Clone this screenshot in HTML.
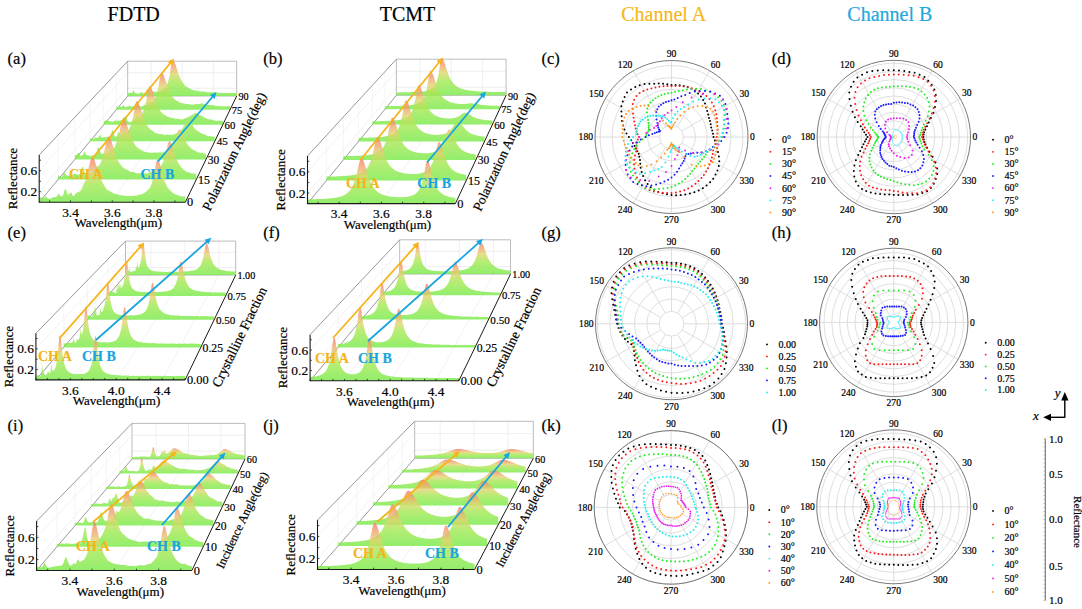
<!DOCTYPE html>
<html><head><meta charset="utf-8"><style>
html,body{margin:0;padding:0;background:#fff;overflow:hidden;width:1082px;height:609px;}
svg{display:block;font-family:"Liberation Serif",serif;}
</style></head><body>
<svg width="1082" height="609" viewBox="0 0 1082 609">
<rect width="1082" height="609" fill="#fff"/>
<text x="133.70" y="21.00" font-size="20" text-anchor="middle" fill="#000" stroke="#000" stroke-width="0.2" >FDTD</text>
<text x="407.50" y="21.00" font-size="20" text-anchor="middle" fill="#000" stroke="#000" stroke-width="0.2" >TCMT</text>
<text x="663.70" y="21.00" font-size="20" text-anchor="middle" fill="#F5B81C" stroke="#F5B81C" stroke-width="0.2" >Channel A</text>
<text x="889.80" y="21.00" font-size="20" text-anchor="middle" fill="#1EA8E0" stroke="#1EA8E0" stroke-width="0.2" >Channel B</text>
<text x="7.60" y="63.60" font-size="16.5" text-anchor="start" fill="#000" stroke="#000" stroke-width="0.2" >(a)</text>
<text x="263.20" y="63.60" font-size="16.5" text-anchor="start" fill="#000" stroke="#000" stroke-width="0.2" >(b)</text>
<text x="541.40" y="63.60" font-size="16.5" text-anchor="start" fill="#000" stroke="#000" stroke-width="0.2" >(c)</text>
<text x="771.80" y="63.60" font-size="16.5" text-anchor="start" fill="#000" stroke="#000" stroke-width="0.2" >(d)</text>
<text x="7.60" y="238.20" font-size="16.5" text-anchor="start" fill="#000" stroke="#000" stroke-width="0.2" >(e)</text>
<text x="263.20" y="238.20" font-size="16.5" text-anchor="start" fill="#000" stroke="#000" stroke-width="0.2" >(f)</text>
<text x="541.40" y="238.20" font-size="16.5" text-anchor="start" fill="#000" stroke="#000" stroke-width="0.2" >(g)</text>
<text x="771.80" y="238.20" font-size="16.5" text-anchor="start" fill="#000" stroke="#000" stroke-width="0.2" >(h)</text>
<text x="7.60" y="431.20" font-size="16.5" text-anchor="start" fill="#000" stroke="#000" stroke-width="0.2" >(i)</text>
<text x="263.20" y="431.20" font-size="16.5" text-anchor="start" fill="#000" stroke="#000" stroke-width="0.2" >(j)</text>
<text x="541.40" y="431.20" font-size="16.5" text-anchor="start" fill="#000" stroke="#000" stroke-width="0.2" >(k)</text>
<text x="771.80" y="431.20" font-size="16.5" text-anchor="start" fill="#000" stroke="#000" stroke-width="0.2" >(l)</text>
<line x1="151.06" y1="96.00" x2="151.06" y2="61.20" stroke="#e9e9e9" stroke-width="0.7" />
<line x1="70.51" y1="202.20" x2="151.06" y2="96.00" stroke="#ececec" stroke-width="0.7" />
<line x1="182.20" y1="96.00" x2="182.20" y2="61.20" stroke="#e9e9e9" stroke-width="0.7" />
<line x1="112.25" y1="202.20" x2="182.20" y2="96.00" stroke="#ececec" stroke-width="0.7" />
<line x1="213.34" y1="96.00" x2="213.34" y2="61.20" stroke="#e9e9e9" stroke-width="0.7" />
<line x1="153.99" y1="202.20" x2="213.34" y2="96.00" stroke="#ececec" stroke-width="0.7" />
<line x1="127.70" y1="88.27" x2="236.70" y2="88.27" stroke="#e6e6e6" stroke-width="0.7" />
<line x1="39.20" y1="191.71" x2="127.70" y2="88.27" stroke="#ececec" stroke-width="0.7" />
<line x1="127.70" y1="72.80" x2="236.70" y2="72.80" stroke="#e6e6e6" stroke-width="0.7" />
<line x1="39.20" y1="170.73" x2="127.70" y2="72.80" stroke="#ececec" stroke-width="0.7" />
<line x1="58.01" y1="179.62" x2="58.01" y2="135.06" stroke="#f0f0f0" stroke-width="0.7" />
<line x1="74.86" y1="159.40" x2="74.86" y2="117.20" stroke="#f0f0f0" stroke-width="0.7" />
<line x1="90.04" y1="141.19" x2="90.04" y2="101.11" stroke="#f0f0f0" stroke-width="0.7" />
<line x1="103.78" y1="124.70" x2="103.78" y2="86.55" stroke="#f0f0f0" stroke-width="0.7" />
<line x1="116.28" y1="109.70" x2="116.28" y2="73.30" stroke="#f0f0f0" stroke-width="0.7" />
<path d="M127.70,96.00 L127.70,61.20 L236.70,61.20 L236.70,96.00" fill="none" stroke="#b4b4b4" stroke-width="0.9"/>
<line x1="127.70" y1="96.00" x2="236.70" y2="96.00" stroke="#b4b4b4" stroke-width="0.9" />
<line x1="39.20" y1="155.00" x2="127.70" y2="61.20" stroke="#8c8c8c" stroke-width="0.9" />
<line x1="39.20" y1="202.20" x2="127.70" y2="96.00" stroke="#8c8c8c" stroke-width="0.9" />
<linearGradient id="g1" gradientUnits="userSpaceOnUse" x1="0" y1="96.00" x2="0" y2="60.10"><stop offset="0" stop-color="#76EA46"/><stop offset="0.4" stop-color="#A4E852"/><stop offset="0.62" stop-color="#E2D470"/><stop offset="0.82" stop-color="#F2A070"/><stop offset="1" stop-color="#F27E68"/></linearGradient>
<path d="M127.7,96.0 127.7,93.1 128.1,92.9 128.5,92.8 129.0,93.0 129.4,92.9 129.8,93.0 130.2,93.0 130.6,92.7 131.1,92.8 131.5,93.0 131.9,92.8 132.3,92.6 132.8,91.7 133.2,90.6 133.6,90.2 134.0,91.1 134.4,92.1 134.9,92.9 135.3,93.2 135.7,93.1 136.1,92.9 136.5,93.4 137.0,93.7 137.4,93.6 137.8,93.7 138.2,93.6 138.6,93.8 139.1,93.6 139.5,93.2 139.9,92.9 140.3,92.4 140.7,92.2 141.2,92.1 141.6,92.2 142.0,93.0 142.4,92.7 142.9,92.6 143.3,93.3 143.7,93.6 144.1,93.7 144.5,93.7 145.0,93.1 145.4,92.7 145.8,92.0 146.2,90.9 146.6,89.7 147.1,89.0 147.5,88.9 147.9,89.7 148.3,90.5 148.7,91.5 149.2,91.7 149.6,92.4 150.0,92.5 150.4,92.6 150.8,92.6 151.3,92.8 151.7,92.5 152.1,92.3 152.5,91.7 153.0,91.6 153.4,91.6 153.8,91.8 154.2,92.0 154.6,91.8 155.1,91.9 155.5,91.6 155.9,91.4 156.3,91.7 156.7,91.9 157.2,91.8 157.6,91.8 158.0,91.2 158.4,91.2 158.8,91.7 159.3,91.5 159.7,91.3 160.1,91.2 160.5,91.0 160.9,91.4 161.4,91.4 161.8,90.7 162.2,90.2 162.6,90.0 163.1,89.8 163.5,89.5 163.9,89.0 164.3,88.4 164.7,88.0 165.2,87.6 165.6,87.0 166.0,86.3 166.4,85.7 166.8,85.0 167.3,84.0 167.7,83.1 168.1,81.7 168.5,80.2 168.9,78.5 169.4,76.4 169.8,74.1 170.2,71.6 170.6,68.8 171.0,66.3 171.5,63.9 171.9,61.8 172.3,60.4 172.7,60.1 173.2,60.3 173.6,60.7 174.0,61.2 174.4,61.8 174.8,62.9 175.3,64.1 175.7,65.1 176.1,66.5 176.5,67.7 176.9,68.9 177.4,70.4 177.8,71.8 178.2,72.9 178.6,73.9 179.0,75.1 179.5,76.3 179.9,77.4 180.3,78.2 180.7,79.0 181.1,79.9 181.6,80.8 182.0,81.5 182.4,82.0 182.8,82.7 183.3,83.3 183.7,83.8 184.1,84.4 184.5,84.9 184.9,85.4 185.4,85.9 185.8,86.2 186.2,86.5 186.6,86.8 187.0,87.0 187.5,87.3 187.9,87.5 188.3,87.7 188.7,88.0 189.1,88.3 189.6,88.5 190.0,88.7 190.4,89.0 190.8,89.2 191.2,89.5 191.7,89.5 192.1,89.7 192.5,89.9 192.9,90.1 193.4,90.2 193.8,90.1 194.2,90.2 194.6,90.5 195.0,90.5 195.5,90.6 195.9,90.5 196.3,90.4 196.7,90.5 197.1,90.6 197.6,90.7 198.0,90.8 198.4,90.9 198.8,91.0 199.2,91.2 199.7,91.4 200.1,91.4 200.5,91.5 200.9,91.6 201.3,91.6 201.8,91.6 202.2,91.6 202.6,91.5 203.0,91.7 203.5,91.5 203.9,91.3 204.3,91.5 204.7,91.7 205.1,91.8 205.6,92.0 206.0,91.9 206.4,92.2 206.8,92.2 207.2,92.1 207.7,92.3 208.1,92.3 208.5,92.3 208.9,92.3 209.3,92.3 209.8,92.3 210.2,92.5 210.6,92.2 211.0,92.1 211.4,92.0 211.9,92.1 212.3,92.2 212.7,92.3 213.1,92.3 213.6,92.3 214.0,92.6 214.4,92.5 214.8,92.5 215.2,92.6 215.7,92.6 216.1,92.6 216.5,92.7 216.9,92.8 217.3,92.8 217.8,92.9 218.2,92.8 218.6,92.8 219.0,92.8 219.4,92.8 219.9,92.7 220.3,92.7 220.7,92.8 221.1,92.8 221.5,92.9 222.0,92.8 222.4,93.0 222.8,93.0 223.2,93.0 223.7,92.9 224.1,92.9 224.5,93.0 224.9,93.0 225.3,92.9 225.8,93.0 226.2,93.0 226.6,93.1 227.0,93.1 227.4,93.0 227.9,93.0 228.3,93.0 228.7,93.1 229.1,93.0 229.5,93.0 230.0,93.0 230.4,93.0 230.8,93.0 231.2,93.0 231.6,92.9 232.1,93.1 232.5,93.0 232.9,93.0 233.3,93.0 233.8,93.0 234.2,93.1 234.6,93.0 235.0,93.0 235.4,93.0 235.9,93.0 236.3,93.1 236.7,93.0 236.7,96.0Z" fill="url(#g1)" fill-opacity="0.8"/>
<linearGradient id="g2" gradientUnits="userSpaceOnUse" x1="0" y1="109.70" x2="0" y2="72.54"><stop offset="0" stop-color="#76EA46"/><stop offset="0.4" stop-color="#A4E852"/><stop offset="0.62" stop-color="#E2D470"/><stop offset="0.82" stop-color="#F2A070"/><stop offset="1" stop-color="#F27E68"/></linearGradient>
<path d="M116.3,109.7 116.3,106.7 116.7,106.8 117.2,106.8 117.6,107.3 118.0,106.6 118.5,106.8 118.9,107.1 119.4,106.7 119.8,106.6 120.2,107.0 120.7,106.4 121.1,106.8 121.6,106.8 122.0,106.6 122.4,106.3 122.9,106.0 123.3,104.9 123.7,105.0 124.2,105.8 124.6,106.6 125.1,106.9 125.5,107.3 125.9,106.9 126.4,107.0 126.8,106.8 127.3,106.6 127.7,106.2 128.1,106.4 128.6,106.0 129.0,105.8 129.5,105.9 129.9,106.2 130.3,106.2 130.8,106.4 131.2,106.4 131.7,106.5 132.1,106.9 132.5,106.5 133.0,106.4 133.4,106.2 133.9,105.8 134.3,105.4 134.7,104.6 135.2,103.8 135.6,103.2 136.1,102.2 136.5,101.7 136.9,102.4 137.4,103.2 137.8,105.0 138.2,105.5 138.7,105.9 139.1,106.3 139.6,106.6 140.0,106.4 140.4,106.4 140.9,106.2 141.3,106.7 141.8,106.7 142.2,106.6 142.6,106.1 143.1,105.7 143.5,105.6 144.0,105.2 144.4,105.2 144.8,105.0 145.3,104.8 145.7,104.8 146.2,104.6 146.6,105.0 147.0,104.7 147.5,104.1 147.9,103.0 148.4,102.0 148.8,101.5 149.2,102.2 149.7,102.2 150.1,102.6 150.5,102.7 151.0,103.1 151.4,102.6 151.9,102.3 152.3,102.2 152.7,101.7 153.2,101.2 153.6,100.6 154.1,99.9 154.5,99.2 154.9,98.5 155.4,97.5 155.8,96.5 156.3,95.3 156.7,94.0 157.1,92.5 157.6,90.8 158.0,88.7 158.5,86.4 158.9,83.9 159.3,81.4 159.8,78.9 160.2,76.4 160.7,74.2 161.1,72.9 161.5,72.5 162.0,72.6 162.4,73.0 162.8,73.7 163.3,74.5 163.7,75.6 164.2,76.7 164.6,77.9 165.0,79.3 165.5,80.4 165.9,81.7 166.4,83.0 166.8,84.5 167.2,85.8 167.7,87.1 168.1,88.1 168.6,89.3 169.0,90.4 169.4,91.4 169.9,92.2 170.3,93.1 170.8,93.9 171.2,94.7 171.6,95.6 172.1,96.2 172.5,96.8 173.0,97.5 173.4,97.9 173.8,98.5 174.3,99.0 174.7,99.3 175.2,99.5 175.6,100.0 176.0,100.2 176.5,100.5 176.9,100.7 177.3,100.8 177.8,101.1 178.2,101.7 178.7,101.7 179.1,102.1 179.5,102.4 180.0,102.7 180.4,102.9 180.9,102.9 181.3,102.9 181.7,103.0 182.2,103.0 182.6,103.2 183.1,103.2 183.5,103.4 183.9,103.5 184.4,103.5 184.8,103.7 185.3,103.7 185.7,103.9 186.1,103.9 186.6,103.9 187.0,103.9 187.5,104.1 187.9,103.9 188.3,104.1 188.8,104.1 189.2,104.2 189.6,104.2 190.1,104.4 190.5,104.5 191.0,104.7 191.4,104.8 191.8,104.9 192.3,104.7 192.7,104.7 193.2,104.6 193.6,104.5 194.0,104.4 194.5,104.3 194.9,104.2 195.4,104.1 195.8,104.1 196.2,104.2 196.7,104.1 197.1,104.1 197.6,104.1 198.0,104.2 198.4,104.3 198.9,104.1 199.3,104.1 199.8,103.9 200.2,103.7 200.6,103.6 201.1,103.4 201.5,103.3 202.0,103.5 202.4,103.5 202.8,103.6 203.3,103.8 203.7,103.9 204.1,104.1 204.6,104.2 205.0,104.3 205.5,104.4 205.9,104.6 206.3,104.6 206.8,104.6 207.2,104.7 207.7,104.8 208.1,104.7 208.5,104.9 209.0,104.8 209.4,104.9 209.9,104.9 210.3,105.0 210.7,104.9 211.2,105.0 211.6,104.9 212.1,104.8 212.5,104.9 212.9,105.1 213.4,105.3 213.8,105.6 214.3,105.5 214.7,105.6 215.1,105.8 215.6,105.8 216.0,105.7 216.4,105.8 216.9,105.9 217.3,106.0 217.8,106.2 218.2,106.0 218.6,106.1 219.1,106.3 219.5,106.2 220.0,106.2 220.4,106.3 220.8,106.1 221.3,106.3 221.7,106.2 222.2,106.2 222.6,106.2 223.0,106.2 223.5,106.2 223.9,106.4 224.4,106.4 224.8,106.4 225.2,106.3 225.7,106.2 226.1,106.4 226.6,106.3 227.0,106.2 227.4,106.3 227.9,106.2 228.3,106.1 228.7,106.2 229.2,106.1 229.6,106.2 230.1,106.3 230.1,109.7Z" fill="url(#g2)" fill-opacity="0.8"/>
<linearGradient id="g3" gradientUnits="userSpaceOnUse" x1="0" y1="124.70" x2="0" y2="86.30"><stop offset="0" stop-color="#76EA46"/><stop offset="0.4" stop-color="#A4E852"/><stop offset="0.62" stop-color="#E2D470"/><stop offset="0.82" stop-color="#F2A070"/><stop offset="1" stop-color="#F27E68"/></linearGradient>
<path d="M103.8,124.7 103.8,121.7 104.2,121.6 104.7,121.1 105.2,120.8 105.6,120.5 106.1,120.6 106.5,120.4 107.0,120.4 107.5,120.3 107.9,120.8 108.4,120.8 108.8,120.9 109.3,121.1 109.8,121.3 110.2,120.8 110.7,121.2 111.1,121.3 111.6,121.8 112.1,122.2 112.5,121.7 113.0,121.4 113.4,121.5 113.9,121.2 114.4,121.1 114.8,120.8 115.3,120.6 115.7,120.6 116.2,120.7 116.6,120.6 117.1,120.8 117.6,120.7 118.0,120.8 118.5,120.2 118.9,120.4 119.4,121.0 119.9,121.1 120.3,120.5 120.8,120.4 121.2,120.0 121.7,120.1 122.2,120.0 122.6,119.0 123.1,118.4 123.5,118.0 124.0,117.4 124.5,116.8 124.9,116.6 125.4,116.2 125.8,116.8 126.3,117.9 126.8,118.8 127.2,119.9 127.7,121.0 128.1,121.3 128.6,121.5 129.1,122.1 129.5,122.0 130.0,122.2 130.4,122.3 130.9,121.9 131.4,121.7 131.8,121.7 132.3,120.6 132.7,120.4 133.2,120.5 133.7,120.3 134.1,119.7 134.6,119.0 135.0,118.6 135.5,118.5 136.0,117.6 136.4,116.2 136.9,114.6 137.3,114.3 137.8,115.1 138.2,115.7 138.7,116.7 139.2,117.2 139.6,117.3 140.1,116.7 140.5,115.7 141.0,115.1 141.5,114.7 141.9,113.8 142.4,113.0 142.8,111.9 143.3,110.8 143.8,109.8 144.2,108.5 144.7,107.2 145.1,105.6 145.6,103.8 146.1,101.6 146.5,99.2 147.0,96.7 147.4,94.1 147.9,91.4 148.4,89.3 148.8,87.5 149.3,86.4 149.7,86.3 150.2,86.5 150.7,86.9 151.1,87.7 151.6,88.5 152.0,89.5 152.5,90.8 153.0,92.1 153.4,93.4 153.9,94.9 154.3,96.5 154.8,98.1 155.3,99.7 155.7,101.1 156.2,102.3 156.6,103.6 157.1,104.7 157.6,105.8 158.0,106.6 158.5,107.5 158.9,108.3 159.4,109.3 159.8,110.1 160.3,110.7 160.8,111.4 161.2,112.0 161.7,112.6 162.1,113.1 162.6,113.5 163.1,114.1 163.5,114.6 164.0,114.6 164.4,114.9 164.9,114.9 165.4,115.3 165.8,115.7 166.3,115.7 166.7,116.0 167.2,116.5 167.7,116.6 168.1,116.9 168.6,117.1 169.0,117.1 169.5,117.3 170.0,117.4 170.4,117.5 170.9,117.6 171.3,117.9 171.8,117.8 172.3,118.0 172.7,117.9 173.2,118.1 173.6,118.1 174.1,118.2 174.6,118.4 175.0,118.7 175.5,118.7 175.9,118.8 176.4,118.7 176.9,118.7 177.3,118.8 177.8,118.6 178.2,118.7 178.7,118.9 179.1,119.0 179.6,119.2 180.1,119.2 180.5,119.5 181.0,119.6 181.4,119.5 181.9,119.3 182.4,119.3 182.8,119.3 183.3,119.4 183.7,118.8 184.2,118.7 184.7,118.4 185.1,118.2 185.6,118.0 186.0,117.9 186.5,117.5 187.0,117.7 187.4,117.4 187.9,117.3 188.3,117.2 188.8,116.9 189.3,116.5 189.7,116.3 190.2,115.8 190.6,115.6 191.1,115.4 191.6,115.1 192.0,115.0 192.5,114.7 192.9,114.3 193.4,113.9 193.9,113.6 194.3,113.3 194.8,113.1 195.2,113.0 195.7,113.0 196.2,113.1 196.6,113.4 197.1,113.5 197.5,113.8 198.0,114.0 198.5,114.2 198.9,114.5 199.4,114.9 199.8,115.0 200.3,115.3 200.7,115.4 201.2,115.6 201.7,116.0 202.1,116.2 202.6,116.5 203.0,116.8 203.5,117.0 204.0,117.3 204.4,117.6 204.9,117.7 205.3,117.9 205.8,118.1 206.3,118.3 206.7,118.6 207.2,118.8 207.6,118.9 208.1,119.0 208.6,119.2 209.0,119.3 209.5,119.4 209.9,119.5 210.4,119.4 210.9,119.5 211.3,119.8 211.8,119.7 212.2,119.6 212.7,119.8 213.2,120.1 213.6,120.3 214.1,120.4 214.5,120.3 215.0,120.7 215.5,120.8 215.9,121.0 216.4,120.9 216.8,120.9 217.3,120.8 217.8,120.7 218.2,120.6 218.7,120.7 219.1,120.7 219.6,120.6 220.1,120.8 220.5,120.7 221.0,120.9 221.4,120.9 221.9,120.8 222.3,120.7 222.8,120.8 222.8,124.7Z" fill="url(#g3)" fill-opacity="0.8"/>
<linearGradient id="g4" gradientUnits="userSpaceOnUse" x1="0" y1="141.19" x2="0" y2="101.18"><stop offset="0" stop-color="#76EA46"/><stop offset="0.4" stop-color="#A4E852"/><stop offset="0.62" stop-color="#E2D470"/><stop offset="0.82" stop-color="#F2A070"/><stop offset="1" stop-color="#F27E68"/></linearGradient>
<path d="M90.0,141.2 90.0,138.2 90.5,138.4 91.0,138.4 91.5,139.0 92.0,139.1 92.4,138.5 92.9,138.7 93.4,138.6 93.9,138.7 94.4,138.6 94.9,137.5 95.3,137.4 95.8,137.6 96.3,137.8 96.8,137.7 97.3,137.4 97.7,137.5 98.2,138.0 98.7,137.0 99.2,136.0 99.7,135.0 100.2,135.1 100.6,135.9 101.1,137.1 101.6,137.6 102.1,137.5 102.6,137.4 103.0,137.5 103.5,137.2 104.0,137.3 104.5,137.1 105.0,136.9 105.5,137.5 105.9,137.3 106.4,136.9 106.9,136.9 107.4,137.3 107.9,137.3 108.3,137.5 108.8,137.2 109.3,137.1 109.8,137.4 110.3,136.5 110.8,134.9 111.2,133.3 111.7,131.5 112.2,130.3 112.7,130.2 113.2,131.4 113.6,133.2 114.1,134.9 114.6,136.1 115.1,136.5 115.6,136.7 116.1,136.7 116.5,136.3 117.0,135.9 117.5,134.5 118.0,133.0 118.5,132.1 118.9,132.6 119.4,132.9 119.9,133.5 120.4,133.9 120.9,133.8 121.4,133.7 121.8,133.7 122.3,133.1 122.8,132.7 123.3,131.6 123.8,130.8 124.2,131.1 124.7,132.1 125.2,132.7 125.7,132.6 126.2,132.5 126.7,132.1 127.1,131.9 127.6,131.9 128.1,130.9 128.6,129.6 129.1,128.9 129.5,128.1 130.0,127.1 130.5,126.0 131.0,124.6 131.5,123.1 132.0,121.4 132.4,119.4 132.9,117.4 133.4,115.0 133.9,112.5 134.4,110.1 134.8,107.7 135.3,105.5 135.8,103.4 136.3,101.8 136.8,101.2 137.3,101.3 137.7,101.5 138.2,102.2 138.7,103.2 139.2,104.4 139.7,105.8 140.1,107.1 140.6,108.4 141.1,110.1 141.6,111.6 142.1,113.2 142.6,114.8 143.0,116.1 143.5,117.6 144.0,118.9 144.5,119.9 145.0,121.2 145.4,122.1 145.9,123.0 146.4,124.1 146.9,124.9 147.4,125.9 147.9,126.5 148.3,127.0 148.8,127.7 149.3,128.2 149.8,128.8 150.3,129.3 150.7,129.4 151.2,130.0 151.7,130.2 152.2,130.5 152.7,131.0 153.2,131.2 153.6,131.5 154.1,132.0 154.6,132.3 155.1,132.7 155.6,133.1 156.0,133.2 156.5,133.3 157.0,133.4 157.5,133.7 158.0,133.7 158.5,133.8 158.9,133.9 159.4,134.0 159.9,134.1 160.4,134.2 160.9,134.1 161.3,134.2 161.8,134.1 162.3,134.1 162.8,134.4 163.3,134.6 163.8,134.6 164.2,134.8 164.7,134.8 165.2,134.9 165.7,134.9 166.2,134.6 166.6,134.6 167.1,134.6 167.6,134.6 168.1,134.7 168.6,134.7 169.1,134.7 169.5,134.8 170.0,134.8 170.5,134.8 171.0,134.8 171.5,134.7 171.9,134.8 172.4,134.7 172.9,134.7 173.4,134.6 173.9,134.6 174.4,134.3 174.8,134.0 175.3,133.8 175.8,133.5 176.3,133.2 176.8,132.9 177.2,132.7 177.7,132.6 178.2,132.3 178.7,132.1 179.2,131.6 179.7,131.4 180.1,130.9 180.6,130.4 181.1,129.9 181.6,129.2 182.1,128.6 182.5,128.0 183.0,127.4 183.5,126.6 184.0,125.8 184.5,124.9 185.0,124.5 185.4,123.8 185.9,123.2 186.4,122.4 186.9,121.9 187.4,121.4 187.8,121.1 188.3,120.8 188.8,121.2 189.3,121.5 189.8,121.7 190.3,122.3 190.7,122.9 191.2,123.4 191.7,124.2 192.2,124.6 192.7,125.3 193.1,126.3 193.6,126.9 194.1,127.7 194.6,128.4 195.1,128.9 195.6,129.5 196.0,130.0 196.5,130.1 197.0,130.5 197.5,130.7 198.0,131.1 198.4,131.5 198.9,131.9 199.4,132.1 199.9,132.6 200.4,132.8 200.9,133.0 201.3,133.3 201.8,133.6 202.3,133.6 202.8,133.8 203.3,134.0 203.7,134.2 204.2,134.3 204.7,134.5 205.2,134.7 205.7,135.0 206.2,135.2 206.6,135.5 207.1,135.7 207.6,136.2 208.1,136.2 208.6,136.2 209.0,136.2 209.5,136.3 210.0,136.1 210.5,136.3 211.0,136.2 211.5,136.4 211.9,136.5 212.4,136.6 212.9,136.5 213.4,136.9 213.9,136.8 214.3,136.8 214.8,136.7 214.8,141.2Z" fill="url(#g4)" fill-opacity="0.8"/>
<linearGradient id="g5" gradientUnits="userSpaceOnUse" x1="0" y1="159.40" x2="0" y2="118.29"><stop offset="0" stop-color="#76EA46"/><stop offset="0.4" stop-color="#A4E852"/><stop offset="0.62" stop-color="#E2D470"/><stop offset="0.82" stop-color="#F2A070"/><stop offset="1" stop-color="#F27E68"/></linearGradient>
<path d="M74.9,159.4 74.9,155.3 75.4,155.1 75.9,154.9 76.4,155.0 76.9,154.6 77.4,153.8 77.9,153.2 78.4,152.8 78.9,153.1 79.4,154.0 79.9,154.7 80.4,155.4 80.9,156.1 81.4,155.7 82.0,155.6 82.5,155.1 83.0,154.8 83.5,153.8 84.0,152.1 84.5,150.9 85.0,152.4 85.5,153.6 86.0,154.9 86.5,155.2 87.0,154.9 87.5,154.9 88.0,155.4 88.5,155.3 89.0,155.6 89.5,155.8 90.1,155.8 90.6,156.0 91.1,156.0 91.6,155.6 92.1,155.6 92.6,155.8 93.1,155.3 93.6,155.0 94.1,155.0 94.6,154.4 95.1,154.7 95.6,153.8 96.1,153.1 96.6,151.8 97.1,150.2 97.7,147.9 98.2,147.1 98.7,147.3 99.2,148.5 99.7,150.0 100.2,151.6 100.7,152.6 101.2,153.5 101.7,153.7 102.2,153.7 102.7,153.9 103.2,153.5 103.7,153.2 104.2,153.2 104.7,153.2 105.2,153.1 105.8,152.8 106.3,152.6 106.8,152.7 107.3,152.6 107.8,152.6 108.3,152.2 108.8,152.0 109.3,151.7 109.8,151.4 110.3,150.9 110.8,150.2 111.3,149.6 111.8,149.6 112.3,149.2 112.8,148.7 113.3,148.6 113.9,147.9 114.4,147.4 114.9,146.4 115.4,145.2 115.9,144.2 116.4,143.0 116.9,141.4 117.4,140.0 117.9,138.4 118.4,136.5 118.9,134.6 119.4,132.5 119.9,130.0 120.4,127.8 120.9,125.2 121.5,122.9 122.0,120.9 122.5,119.4 123.0,118.4 123.5,118.3 124.0,118.5 124.5,119.1 125.0,119.9 125.5,120.8 126.0,122.0 126.5,123.3 127.0,124.9 127.5,126.5 128.0,128.4 128.5,129.9 129.0,131.9 129.6,133.4 130.1,134.9 130.6,136.3 131.1,137.6 131.6,138.6 132.1,139.9 132.6,140.7 133.1,141.4 133.6,142.5 134.1,143.3 134.6,144.3 135.1,144.9 135.6,145.7 136.1,146.2 136.6,146.9 137.1,147.3 137.7,147.9 138.2,148.1 138.7,148.5 139.2,148.8 139.7,149.2 140.2,149.4 140.7,149.6 141.2,149.9 141.7,150.2 142.2,150.6 142.7,150.7 143.2,151.0 143.7,151.4 144.2,151.6 144.7,151.8 145.2,151.9 145.8,151.9 146.3,152.1 146.8,152.3 147.3,152.3 147.8,152.5 148.3,152.5 148.8,152.5 149.3,152.6 149.8,152.6 150.3,152.7 150.8,152.9 151.3,152.8 151.8,152.6 152.3,152.7 152.8,152.8 153.4,152.8 153.9,152.6 154.4,152.6 154.9,152.5 155.4,152.6 155.9,152.6 156.4,152.7 156.9,152.6 157.4,152.6 157.9,152.4 158.4,152.4 158.9,152.5 159.4,152.3 159.9,152.4 160.4,152.5 160.9,152.4 161.5,152.5 162.0,152.7 162.5,152.3 163.0,152.3 163.5,152.2 164.0,151.8 164.5,151.7 165.0,151.6 165.5,151.3 166.0,151.2 166.5,150.9 167.0,150.5 167.5,150.5 168.0,150.3 168.5,149.8 169.0,149.5 169.6,149.0 170.1,148.4 170.6,147.8 171.1,147.0 171.6,145.9 172.1,145.2 172.6,144.1 173.1,143.0 173.6,142.0 174.1,140.8 174.6,139.7 175.1,138.6 175.6,137.2 176.1,135.9 176.6,134.6 177.2,133.2 177.7,132.0 178.2,130.7 178.7,129.8 179.2,129.4 179.7,129.4 180.2,129.7 180.7,130.0 181.2,130.8 181.7,131.7 182.2,132.6 182.7,133.6 183.2,134.8 183.7,135.8 184.2,137.4 184.7,138.5 185.3,139.6 185.8,140.9 186.3,142.2 186.8,143.0 187.3,144.0 187.8,144.6 188.3,145.3 188.8,146.1 189.3,146.7 189.8,146.8 190.3,147.4 190.8,147.9 191.3,148.6 191.8,148.9 192.3,149.2 192.8,149.4 193.4,149.8 193.9,150.2 194.4,150.6 194.9,150.6 195.4,150.9 195.9,151.3 196.4,151.6 196.9,151.8 197.4,152.1 197.9,152.2 198.4,152.5 198.9,152.6 199.4,152.6 199.9,152.6 200.4,152.8 200.9,153.0 201.5,152.9 202.0,152.9 202.5,153.1 203.0,153.3 203.5,153.6 204.0,153.7 204.5,153.6 205.0,153.9 205.5,154.0 206.0,154.1 206.0,159.4Z" fill="url(#g5)" fill-opacity="0.8"/>
<linearGradient id="g6" gradientUnits="userSpaceOnUse" x1="0" y1="179.62" x2="0" y2="136.38"><stop offset="0" stop-color="#76EA46"/><stop offset="0.4" stop-color="#A4E852"/><stop offset="0.62" stop-color="#E2D470"/><stop offset="0.82" stop-color="#F2A070"/><stop offset="1" stop-color="#F27E68"/></linearGradient>
<path d="M58.0,179.6 58.0,175.0 58.5,175.6 59.1,175.9 59.6,176.1 60.1,176.9 60.7,177.4 61.2,177.0 61.8,177.0 62.3,176.3 62.8,175.2 63.4,174.2 63.9,172.8 64.4,172.0 65.0,172.9 65.5,173.9 66.0,174.9 66.6,175.4 67.1,175.6 67.6,175.3 68.2,175.7 68.7,175.8 69.2,175.9 69.8,175.3 70.3,175.8 70.8,175.2 71.4,175.3 71.9,175.0 72.4,174.5 73.0,174.5 73.5,174.4 74.0,173.4 74.6,173.6 75.1,173.9 75.6,173.8 76.2,174.0 76.7,173.9 77.2,174.4 77.8,175.1 78.3,175.1 78.8,174.2 79.4,174.6 79.9,174.1 80.4,173.3 81.0,171.3 81.5,168.9 82.0,167.2 82.6,167.0 83.1,167.0 83.6,169.1 84.2,170.6 84.7,172.6 85.2,174.0 85.8,174.7 86.3,174.9 86.8,174.4 87.4,173.5 87.9,173.4 88.4,173.6 89.0,173.0 89.5,172.9 90.0,172.9 90.6,173.2 91.1,173.6 91.6,173.7 92.2,173.3 92.7,173.8 93.2,173.3 93.8,171.7 94.3,170.6 94.8,169.2 95.4,168.5 95.9,167.2 96.4,167.1 97.0,166.2 97.5,166.7 98.0,166.5 98.6,166.4 99.1,165.1 99.6,165.2 100.2,164.2 100.7,163.0 101.2,161.6 101.8,160.2 102.3,158.6 102.8,157.2 103.4,155.2 103.9,152.8 104.4,150.6 105.0,148.0 105.5,145.5 106.0,143.1 106.6,140.9 107.1,138.9 107.6,137.4 108.2,136.5 108.7,136.4 109.2,136.5 109.8,137.1 110.3,137.9 110.8,139.4 111.4,141.0 111.9,142.8 112.4,144.7 113.0,146.6 113.5,148.6 114.0,150.4 114.6,152.2 115.1,153.9 115.6,155.4 116.2,156.7 116.7,158.3 117.2,159.4 117.8,160.4 118.3,161.2 118.8,162.1 119.4,163.0 119.9,163.9 120.5,164.4 121.0,165.0 121.5,165.8 122.1,166.6 122.6,167.1 123.1,167.4 123.7,168.0 124.2,168.5 124.7,168.8 125.3,169.1 125.8,169.2 126.3,169.4 126.9,169.7 127.4,169.8 127.9,170.1 128.5,170.5 129.0,170.9 129.5,171.1 130.1,171.5 130.6,171.8 131.1,171.7 131.7,171.8 132.2,171.9 132.7,171.8 133.3,172.1 133.8,172.1 134.3,172.4 134.9,172.6 135.4,172.8 135.9,172.9 136.5,173.2 137.0,173.3 137.5,173.4 138.1,173.3 138.6,173.3 139.1,173.2 139.7,173.3 140.2,173.2 140.7,173.1 141.3,172.9 141.8,173.1 142.3,173.1 142.9,173.2 143.4,173.4 143.9,173.2 144.5,173.4 145.0,173.6 145.5,173.6 146.1,173.6 146.6,173.4 147.1,173.4 147.7,173.4 148.2,173.2 148.7,172.8 149.3,172.4 149.8,172.0 150.3,171.8 150.9,171.7 151.4,171.7 151.9,171.6 152.5,171.4 153.0,171.4 153.5,171.4 154.1,171.3 154.6,171.0 155.1,170.6 155.7,170.4 156.2,170.3 156.7,169.9 157.3,169.7 157.8,169.2 158.3,168.6 158.9,168.2 159.4,167.6 159.9,167.1 160.5,166.5 161.0,165.7 161.5,164.9 162.1,164.1 162.6,163.1 163.1,161.9 163.7,160.5 164.2,158.8 164.7,157.1 165.3,155.2 165.8,152.9 166.3,150.5 166.9,148.2 167.4,145.9 167.9,144.1 168.5,142.4 169.0,141.4 169.5,141.3 170.1,141.6 170.6,142.3 171.1,143.2 171.7,144.6 172.2,146.3 172.7,148.0 173.3,149.8 173.8,151.7 174.3,153.3 174.9,155.2 175.4,156.7 175.9,158.1 176.5,159.3 177.0,160.4 177.6,161.7 178.1,162.6 178.6,163.3 179.2,164.3 179.7,165.1 180.2,165.8 180.8,166.7 181.3,167.3 181.8,168.0 182.4,168.3 182.9,168.7 183.4,169.4 184.0,169.9 184.5,170.3 185.0,170.6 185.6,170.8 186.1,171.6 186.6,171.9 187.2,171.9 187.7,172.1 188.2,172.2 188.8,172.3 189.3,172.6 189.8,172.6 190.4,172.9 190.9,173.3 191.4,173.3 192.0,173.4 192.5,173.6 193.0,173.5 193.6,173.4 194.1,173.5 194.6,173.6 195.2,173.7 195.7,173.8 196.2,173.9 196.2,179.6Z" fill="url(#g6)" fill-opacity="0.8"/>
<linearGradient id="g7" gradientUnits="userSpaceOnUse" x1="0" y1="202.20" x2="0" y2="157.22"><stop offset="0" stop-color="#76EA46"/><stop offset="0.4" stop-color="#A4E852"/><stop offset="0.62" stop-color="#E2D470"/><stop offset="0.82" stop-color="#F2A070"/><stop offset="1" stop-color="#F27E68"/></linearGradient>
<path d="M39.2,202.2 39.2,197.6 39.8,197.6 40.3,197.4 40.9,197.5 41.5,196.9 42.0,197.8 42.6,198.2 43.1,198.0 43.7,197.9 44.3,198.2 44.8,197.1 45.4,196.3 46.0,195.9 46.5,197.0 47.1,197.8 47.7,198.2 48.2,198.2 48.8,198.8 49.4,198.8 49.9,199.1 50.5,198.5 51.0,198.0 51.6,198.2 52.2,197.9 52.7,197.2 53.3,197.1 53.9,197.2 54.4,197.1 55.0,197.4 55.6,197.0 56.1,196.9 56.7,196.4 57.3,196.0 57.8,195.1 58.4,193.9 58.9,193.9 59.5,194.6 60.1,195.5 60.6,196.3 61.2,196.3 61.8,196.0 62.3,196.6 62.9,195.6 63.5,194.3 64.0,192.1 64.6,190.1 65.1,189.2 65.7,188.9 66.3,190.4 66.8,192.3 67.4,194.0 68.0,194.6 68.5,194.4 69.1,194.3 69.7,193.8 70.2,192.8 70.8,192.4 71.4,192.4 71.9,193.8 72.5,195.5 73.0,195.9 73.6,196.0 74.2,195.5 74.7,194.7 75.3,194.2 75.9,193.6 76.4,193.0 77.0,192.6 77.6,192.5 78.1,192.2 78.7,191.9 79.3,191.8 79.8,191.4 80.4,191.1 80.9,190.0 81.5,189.4 82.1,188.5 82.6,187.1 83.2,185.5 83.8,184.1 84.3,182.7 84.9,182.1 85.5,180.5 86.0,178.7 86.6,176.9 87.1,174.8 87.7,172.4 88.3,169.8 88.8,167.2 89.4,164.8 90.0,162.4 90.5,160.2 91.1,158.7 91.7,157.6 92.2,157.2 92.8,157.3 93.4,157.7 93.9,158.7 94.5,160.1 95.0,161.6 95.6,163.4 96.2,165.3 96.7,167.1 97.3,169.3 97.9,171.5 98.4,173.5 99.0,175.1 99.6,176.5 100.1,177.7 100.7,179.2 101.3,180.3 101.8,181.2 102.4,182.1 102.9,183.1 103.5,184.3 104.1,185.5 104.6,186.5 105.2,187.3 105.8,188.1 106.3,189.0 106.9,189.6 107.5,190.0 108.0,190.3 108.6,190.4 109.1,190.7 109.7,191.2 110.3,191.4 110.8,191.6 111.4,192.0 112.0,192.4 112.5,192.7 113.1,193.0 113.7,193.3 114.2,193.5 114.8,193.7 115.4,193.9 115.9,193.9 116.5,194.1 117.0,194.3 117.6,194.4 118.2,194.5 118.7,194.8 119.3,194.9 119.9,195.1 120.4,195.2 121.0,195.3 121.6,195.4 122.1,195.3 122.7,195.3 123.2,195.5 123.8,195.6 124.4,195.8 124.9,195.9 125.5,195.8 126.1,196.2 126.6,196.1 127.2,196.1 127.8,195.9 128.3,195.9 128.9,195.9 129.5,195.8 130.0,195.8 130.6,195.7 131.1,196.0 131.7,196.0 132.3,196.0 132.8,195.7 133.4,195.7 134.0,195.8 134.5,195.9 135.1,195.5 135.7,195.6 136.2,195.5 136.8,195.6 137.4,195.4 137.9,195.2 138.5,194.8 139.0,194.7 139.6,194.5 140.2,194.5 140.7,194.2 141.3,194.2 141.9,194.2 142.4,194.0 143.0,193.6 143.6,193.3 144.1,192.9 144.7,192.7 145.2,192.3 145.8,191.8 146.4,191.3 146.9,191.0 147.5,190.5 148.1,190.0 148.6,189.3 149.2,188.7 149.8,187.8 150.3,186.8 150.9,185.7 151.5,184.1 152.0,182.4 152.6,180.3 153.1,178.0 153.7,175.4 154.3,172.7 154.8,169.5 155.4,166.6 156.0,163.9 156.5,161.6 157.1,159.9 157.7,159.3 158.2,159.6 158.8,160.6 159.4,162.0 159.9,163.7 160.5,165.7 161.0,167.9 161.6,170.4 162.2,172.5 162.7,174.8 163.3,176.7 163.9,178.8 164.4,180.7 165.0,182.5 165.6,183.6 166.1,184.8 166.7,185.7 167.2,186.8 167.8,187.7 168.4,188.4 168.9,188.9 169.5,189.8 170.1,190.3 170.6,191.1 171.2,191.6 171.8,192.0 172.3,192.5 172.9,193.0 173.5,193.2 174.0,193.8 174.6,194.1 175.1,194.2 175.7,194.4 176.3,194.6 176.8,194.8 177.4,195.0 178.0,195.3 178.5,195.5 179.1,195.8 179.7,195.9 180.2,196.2 180.8,196.2 181.4,196.2 181.9,196.3 182.5,196.4 183.0,196.4 183.6,196.3 184.2,196.3 184.7,196.5 185.3,196.6 185.3,202.2Z" fill="url(#g7)" fill-opacity="0.8"/>
<line x1="39.20" y1="202.20" x2="185.30" y2="202.20" stroke="#1a1a1a" stroke-width="1.1" />
<line x1="39.20" y1="202.70" x2="39.20" y2="155.00" stroke="#1a1a1a" stroke-width="1.1" />
<line x1="185.30" y1="202.20" x2="236.70" y2="96.00" stroke="#1a1a1a" stroke-width="1.0" />
<line x1="49.64" y1="202.20" x2="49.64" y2="200.40" stroke="#1a1a1a" stroke-width="0.8" />
<line x1="70.51" y1="202.20" x2="70.51" y2="200.40" stroke="#1a1a1a" stroke-width="0.8" />
<line x1="91.38" y1="202.20" x2="91.38" y2="200.40" stroke="#1a1a1a" stroke-width="0.8" />
<line x1="112.25" y1="202.20" x2="112.25" y2="200.40" stroke="#1a1a1a" stroke-width="0.8" />
<line x1="133.12" y1="202.20" x2="133.12" y2="200.40" stroke="#1a1a1a" stroke-width="0.8" />
<line x1="153.99" y1="202.20" x2="153.99" y2="200.40" stroke="#1a1a1a" stroke-width="0.8" />
<line x1="174.86" y1="202.20" x2="174.86" y2="200.40" stroke="#1a1a1a" stroke-width="0.8" />
<line x1="39.20" y1="191.71" x2="41.00" y2="191.71" stroke="#1a1a1a" stroke-width="0.8" />
<line x1="39.20" y1="181.22" x2="41.00" y2="181.22" stroke="#1a1a1a" stroke-width="0.8" />
<line x1="39.20" y1="170.73" x2="41.00" y2="170.73" stroke="#1a1a1a" stroke-width="0.8" />
<line x1="39.20" y1="160.24" x2="41.00" y2="160.24" stroke="#1a1a1a" stroke-width="0.8" />
<line x1="92.3" y1="158.8" x2="170.53" y2="62.76" stroke="#F5B51A" stroke-width="1.8"/>
<path d="M174.00,58.50 L172.22,65.43 L167.57,61.65 Z" fill="#F5B51A"/>
<line x1="158" y1="161.5" x2="212.96" y2="96.21" stroke="#18A5E0" stroke-width="1.8"/>
<path d="M216.50,92.00 L214.61,98.90 L210.02,95.04 Z" fill="#18A5E0"/>
<text x="70.51" y="217.00" font-size="13.4" text-anchor="middle" fill="#000" stroke="#000" stroke-width="0.2" >3.4</text>
<text x="112.25" y="217.00" font-size="13.4" text-anchor="middle" fill="#000" stroke="#000" stroke-width="0.2" >3.6</text>
<text x="153.99" y="217.00" font-size="13.4" text-anchor="middle" fill="#000" stroke="#000" stroke-width="0.2" >3.8</text>
<text x="37.20" y="196.21" font-size="13.4" text-anchor="end" fill="#000" stroke="#000" stroke-width="0.2" >0.2</text>
<text x="37.20" y="175.23" font-size="13.4" text-anchor="end" fill="#000" stroke="#000" stroke-width="0.2" >0.6</text>
<text x="187.10" y="206.40" font-size="12.40" text-anchor="start" fill="#000" stroke="#000" stroke-width="0.2" >0</text>
<text x="198.03" y="183.82" font-size="11.93" text-anchor="start" fill="#000" stroke="#000" stroke-width="0.2" >15</text>
<text x="207.81" y="163.60" font-size="11.50" text-anchor="start" fill="#000" stroke="#000" stroke-width="0.2" >30</text>
<text x="216.63" y="145.39" font-size="11.12" text-anchor="start" fill="#000" stroke="#000" stroke-width="0.2" >45</text>
<text x="224.61" y="128.90" font-size="10.77" text-anchor="start" fill="#000" stroke="#000" stroke-width="0.2" >60</text>
<text x="231.87" y="113.90" font-size="10.46" text-anchor="start" fill="#000" stroke="#000" stroke-width="0.2" >75</text>
<text x="238.50" y="100.20" font-size="10.17" text-anchor="start" fill="#000" stroke="#000" stroke-width="0.2" >90</text>
<text x="118.25" y="227.20" font-size="13" text-anchor="middle" fill="#000" stroke="#000" stroke-width="0.2" >Wavelength(&#956;m)</text>
<text x="16.60" y="178.60" font-size="13" text-anchor="middle" fill="#000" stroke="#000" stroke-width="0.2" transform="rotate(-90.00 16.60 178.60)" >Reflectance</text>
<text font-size="13.5" stroke="#000" stroke-width="0.2" text-anchor="middle" transform="translate(238.30,153.42) rotate(-64.17)">Polarization Angle(deg)</text>
<text x="69.00" y="178.70" font-size="14" text-anchor="start" fill="#F5B51A" stroke="#F5B51A" stroke-width="0.2" font-weight="bold" >CH A</text>
<text x="140.40" y="178.70" font-size="14" text-anchor="start" fill="#18A5E0" stroke="#18A5E0" stroke-width="0.2" font-weight="bold" >CH B</text>
<line x1="419.91" y1="95.30" x2="419.91" y2="59.20" stroke="#e9e9e9" stroke-width="0.7" />
<line x1="339.19" y1="203.60" x2="419.91" y2="95.30" stroke="#ececec" stroke-width="0.7" />
<line x1="451.25" y1="95.30" x2="451.25" y2="59.20" stroke="#e9e9e9" stroke-width="0.7" />
<line x1="381.45" y1="203.60" x2="451.25" y2="95.30" stroke="#ececec" stroke-width="0.7" />
<line x1="482.59" y1="95.30" x2="482.59" y2="59.20" stroke="#e9e9e9" stroke-width="0.7" />
<line x1="423.71" y1="203.60" x2="482.59" y2="95.30" stroke="#ececec" stroke-width="0.7" />
<line x1="396.40" y1="87.28" x2="506.10" y2="87.28" stroke="#e6e6e6" stroke-width="0.7" />
<line x1="307.50" y1="193.02" x2="396.40" y2="87.28" stroke="#ececec" stroke-width="0.7" />
<line x1="396.40" y1="71.23" x2="506.10" y2="71.23" stroke="#e6e6e6" stroke-width="0.7" />
<line x1="307.50" y1="171.87" x2="396.40" y2="71.23" stroke="#ececec" stroke-width="0.7" />
<line x1="326.40" y1="180.58" x2="326.40" y2="135.42" stroke="#f0f0f0" stroke-width="0.7" />
<line x1="343.33" y1="159.96" x2="343.33" y2="116.99" stroke="#f0f0f0" stroke-width="0.7" />
<line x1="358.57" y1="141.39" x2="358.57" y2="100.39" stroke="#f0f0f0" stroke-width="0.7" />
<line x1="372.37" y1="124.57" x2="372.37" y2="85.36" stroke="#f0f0f0" stroke-width="0.7" />
<line x1="384.93" y1="109.27" x2="384.93" y2="71.69" stroke="#f0f0f0" stroke-width="0.7" />
<path d="M396.40,95.30 L396.40,59.20 L506.10,59.20 L506.10,95.30" fill="none" stroke="#b4b4b4" stroke-width="0.9"/>
<line x1="396.40" y1="95.30" x2="506.10" y2="95.30" stroke="#b4b4b4" stroke-width="0.9" />
<line x1="307.50" y1="156.00" x2="396.40" y2="59.20" stroke="#8c8c8c" stroke-width="0.9" />
<line x1="307.50" y1="203.60" x2="396.40" y2="95.30" stroke="#8c8c8c" stroke-width="0.9" />
<linearGradient id="g8" gradientUnits="userSpaceOnUse" x1="0" y1="95.30" x2="0" y2="58.08"><stop offset="0" stop-color="#76EA46"/><stop offset="0.4" stop-color="#A4E852"/><stop offset="0.62" stop-color="#E2D470"/><stop offset="0.82" stop-color="#F2A070"/><stop offset="1" stop-color="#F27E68"/></linearGradient>
<path d="M396.4,95.3 396.4,92.4 396.8,92.4 397.2,92.4 397.7,92.4 398.1,92.4 398.5,92.4 398.9,92.3 399.4,92.3 399.8,92.3 400.2,92.3 400.6,92.3 401.1,92.3 401.5,92.3 401.9,92.3 402.3,92.3 402.8,92.3 403.2,92.3 403.6,92.3 404.0,92.3 404.4,92.3 404.9,92.3 405.3,92.3 405.7,92.3 406.1,92.3 406.6,92.2 407.0,92.2 407.4,92.2 407.8,92.2 408.3,92.2 408.7,92.2 409.1,92.2 409.5,92.2 410.0,92.2 410.4,92.2 410.8,92.1 411.2,92.1 411.6,92.1 412.1,92.1 412.5,92.1 412.9,92.1 413.3,92.1 413.8,92.1 414.2,92.0 414.6,92.0 415.0,92.0 415.5,92.0 415.9,92.0 416.3,91.9 416.7,91.9 417.2,91.9 417.6,91.9 418.0,91.9 418.4,91.8 418.8,91.8 419.3,91.8 419.7,91.7 420.1,91.7 420.5,91.7 421.0,91.6 421.4,91.6 421.8,91.6 422.2,91.5 422.7,91.5 423.1,91.4 423.5,91.4 423.9,91.3 424.4,91.3 424.8,91.2 425.2,91.1 425.6,91.1 426.0,91.0 426.5,90.9 426.9,90.8 427.3,90.7 427.7,90.6 428.2,90.5 428.6,90.3 429.0,90.2 429.4,90.0 429.9,89.9 430.3,89.7 430.7,89.5 431.1,89.2 431.6,89.0 432.0,88.7 432.4,88.4 432.8,88.0 433.2,87.6 433.7,87.2 434.1,86.7 434.5,86.1 434.9,85.4 435.4,84.7 435.8,83.8 436.2,82.8 436.6,81.6 437.1,80.3 437.5,78.7 437.9,76.9 438.3,74.9 438.8,72.6 439.2,70.0 439.6,67.3 440.0,64.6 440.4,62.0 440.9,59.9 441.3,58.5 441.7,58.1 442.1,58.2 442.6,58.6 443.0,59.2 443.4,60.0 443.8,61.0 444.3,62.1 444.7,63.3 445.1,64.6 445.5,66.0 446.0,67.3 446.4,68.7 446.8,70.0 447.2,71.2 447.6,72.4 448.1,73.6 448.5,74.7 448.9,75.8 449.3,76.7 449.8,77.7 450.2,78.5 450.6,79.3 451.0,80.1 451.5,80.8 451.9,81.4 452.3,82.0 452.7,82.6 453.2,83.1 453.6,83.6 454.0,84.1 454.4,84.5 454.9,84.9 455.3,85.2 455.7,85.6 456.1,85.9 456.5,86.2 457.0,86.5 457.4,86.8 457.8,87.0 458.2,87.3 458.7,87.5 459.1,87.7 459.5,87.9 459.9,88.1 460.4,88.3 460.8,88.4 461.2,88.6 461.6,88.7 462.1,88.9 462.5,89.0 462.9,89.1 463.3,89.3 463.7,89.4 464.2,89.5 464.6,89.6 465.0,89.7 465.4,89.8 465.9,89.9 466.3,90.0 466.7,90.0 467.1,90.1 467.6,90.2 468.0,90.3 468.4,90.3 468.8,90.4 469.3,90.5 469.7,90.5 470.1,90.6 470.5,90.6 470.9,90.7 471.4,90.7 471.8,90.8 472.2,90.8 472.6,90.9 473.1,90.9 473.5,91.0 473.9,91.0 474.3,91.0 474.8,91.1 475.2,91.1 475.6,91.1 476.0,91.2 476.5,91.2 476.9,91.2 477.3,91.3 477.7,91.3 478.1,91.3 478.6,91.4 479.0,91.4 479.4,91.4 479.8,91.4 480.3,91.5 480.7,91.5 481.1,91.5 481.5,91.5 482.0,91.5 482.4,91.6 482.8,91.6 483.2,91.6 483.7,91.6 484.1,91.6 484.5,91.7 484.9,91.7 485.3,91.7 485.8,91.7 486.2,91.7 486.6,91.7 487.0,91.8 487.5,91.8 487.9,91.8 488.3,91.8 488.7,91.8 489.2,91.8 489.6,91.8 490.0,91.9 490.4,91.9 490.9,91.9 491.3,91.9 491.7,91.9 492.1,91.9 492.5,91.9 493.0,91.9 493.4,91.9 493.8,92.0 494.2,92.0 494.7,92.0 495.1,92.0 495.5,92.0 495.9,92.0 496.4,92.0 496.8,92.0 497.2,92.0 497.6,92.0 498.1,92.0 498.5,92.0 498.9,92.1 499.3,92.1 499.7,92.1 500.2,92.1 500.6,92.1 501.0,92.1 501.4,92.1 501.9,92.1 502.3,92.1 502.7,92.1 503.1,92.1 503.6,92.1 504.0,92.1 504.4,92.1 504.8,92.1 505.3,92.2 505.7,92.2 506.1,92.2 506.1,95.3Z" fill="url(#g8)" fill-opacity="0.8"/>
<linearGradient id="g9" gradientUnits="userSpaceOnUse" x1="0" y1="109.27" x2="0" y2="70.95"><stop offset="0" stop-color="#76EA46"/><stop offset="0.4" stop-color="#A4E852"/><stop offset="0.62" stop-color="#E2D470"/><stop offset="0.82" stop-color="#F2A070"/><stop offset="1" stop-color="#F27E68"/></linearGradient>
<path d="M384.9,109.3 384.9,106.2 385.4,106.2 385.8,106.2 386.3,106.2 386.7,106.2 387.1,106.2 387.6,106.1 388.0,106.1 388.5,106.1 388.9,106.1 389.4,106.1 389.8,106.1 390.2,106.1 390.7,106.1 391.1,106.1 391.6,106.1 392.0,106.1 392.5,106.1 392.9,106.1 393.3,106.1 393.8,106.0 394.2,106.0 394.7,106.0 395.1,106.0 395.6,106.0 396.0,106.0 396.4,106.0 396.9,106.0 397.3,106.0 397.8,105.9 398.2,105.9 398.6,105.9 399.1,105.9 399.5,105.9 400.0,105.9 400.4,105.9 400.9,105.8 401.3,105.8 401.7,105.8 402.2,105.8 402.6,105.8 403.1,105.8 403.5,105.7 404.0,105.7 404.4,105.7 404.8,105.7 405.3,105.6 405.7,105.6 406.2,105.6 406.6,105.5 407.1,105.5 407.5,105.5 407.9,105.4 408.4,105.4 408.8,105.4 409.3,105.3 409.7,105.3 410.2,105.2 410.6,105.2 411.0,105.1 411.5,105.1 411.9,105.0 412.4,104.9 412.8,104.9 413.3,104.8 413.7,104.7 414.1,104.6 414.6,104.5 415.0,104.4 415.5,104.3 415.9,104.2 416.4,104.0 416.8,103.9 417.2,103.7 417.7,103.6 418.1,103.4 418.6,103.2 419.0,102.9 419.5,102.7 419.9,102.4 420.3,102.1 420.8,101.8 421.2,101.4 421.7,100.9 422.1,100.4 422.5,99.9 423.0,99.3 423.4,98.6 423.9,97.7 424.3,96.8 424.8,95.8 425.2,94.5 425.6,93.1 426.1,91.5 426.5,89.7 427.0,87.6 427.4,85.3 427.9,82.8 428.3,80.2 428.7,77.5 429.2,75.0 429.6,72.9 430.1,71.5 430.5,71.0 431.0,71.1 431.4,71.4 431.8,72.1 432.3,72.9 432.7,73.9 433.2,75.1 433.6,76.4 434.1,77.8 434.5,79.2 434.9,80.6 435.4,82.0 435.8,83.4 436.3,84.7 436.7,86.0 437.2,87.2 437.6,88.4 438.0,89.4 438.5,90.5 438.9,91.4 439.4,92.3 439.8,93.1 440.3,93.9 440.7,94.6 441.1,95.2 441.6,95.8 442.0,96.4 442.5,96.9 442.9,97.4 443.4,97.9 443.8,98.3 444.2,98.7 444.7,99.1 445.1,99.4 445.6,99.7 446.0,100.0 446.4,100.3 446.9,100.6 447.3,100.8 447.8,101.1 448.2,101.3 448.7,101.5 449.1,101.7 449.5,101.8 450.0,102.0 450.4,102.2 450.9,102.3 451.3,102.5 451.8,102.6 452.2,102.7 452.6,102.8 453.1,102.9 453.5,103.0 454.0,103.1 454.4,103.2 454.9,103.3 455.3,103.4 455.7,103.5 456.2,103.5 456.6,103.6 457.1,103.7 457.5,103.7 458.0,103.8 458.4,103.8 458.8,103.8 459.3,103.9 459.7,103.9 460.2,103.9 460.6,104.0 461.1,104.0 461.5,104.0 461.9,104.0 462.4,104.0 462.8,104.0 463.3,104.0 463.7,104.0 464.2,103.9 464.6,103.9 465.0,103.9 465.5,103.9 465.9,103.8 466.4,103.8 466.8,103.7 467.2,103.7 467.7,103.6 468.1,103.6 468.6,103.5 469.0,103.4 469.5,103.4 469.9,103.4 470.3,103.3 470.8,103.3 471.2,103.3 471.7,103.3 472.1,103.4 472.6,103.4 473.0,103.4 473.4,103.5 473.9,103.5 474.3,103.6 474.8,103.7 475.2,103.8 475.7,103.8 476.1,103.9 476.5,104.0 477.0,104.1 477.4,104.2 477.9,104.3 478.3,104.3 478.8,104.4 479.2,104.5 479.6,104.6 480.1,104.6 480.5,104.7 481.0,104.8 481.4,104.8 481.9,104.9 482.3,104.9 482.7,105.0 483.2,105.0 483.6,105.1 484.1,105.1 484.5,105.2 485.0,105.2 485.4,105.2 485.8,105.3 486.3,105.3 486.7,105.3 487.2,105.4 487.6,105.4 488.1,105.4 488.5,105.5 488.9,105.5 489.4,105.5 489.8,105.5 490.3,105.6 490.7,105.6 491.1,105.6 491.6,105.6 492.0,105.6 492.5,105.7 492.9,105.7 493.4,105.7 493.8,105.7 494.2,105.7 494.7,105.7 495.1,105.7 495.6,105.8 496.0,105.8 496.5,105.8 496.9,105.8 497.3,105.8 497.8,105.8 498.2,105.8 498.7,105.8 499.1,105.9 499.6,105.9 499.6,109.3Z" fill="url(#g9)" fill-opacity="0.8"/>
<linearGradient id="g10" gradientUnits="userSpaceOnUse" x1="0" y1="124.57" x2="0" y2="85.00"><stop offset="0" stop-color="#76EA46"/><stop offset="0.4" stop-color="#A4E852"/><stop offset="0.62" stop-color="#E2D470"/><stop offset="0.82" stop-color="#F2A070"/><stop offset="1" stop-color="#F27E68"/></linearGradient>
<path d="M372.4,124.6 372.4,121.3 372.8,121.3 373.3,121.3 373.8,121.3 374.2,121.2 374.7,121.2 375.2,121.2 375.6,121.2 376.1,121.2 376.5,121.2 377.0,121.2 377.5,121.2 377.9,121.2 378.4,121.2 378.9,121.2 379.3,121.2 379.8,121.1 380.3,121.1 380.7,121.1 381.2,121.1 381.6,121.1 382.1,121.1 382.6,121.1 383.0,121.1 383.5,121.0 384.0,121.0 384.4,121.0 384.9,121.0 385.3,121.0 385.8,121.0 386.3,121.0 386.7,120.9 387.2,120.9 387.7,120.9 388.1,120.9 388.6,120.9 389.1,120.8 389.5,120.8 390.0,120.8 390.4,120.8 390.9,120.7 391.4,120.7 391.8,120.7 392.3,120.7 392.8,120.6 393.2,120.6 393.7,120.6 394.2,120.5 394.6,120.5 395.1,120.4 395.5,120.4 396.0,120.3 396.5,120.3 396.9,120.2 397.4,120.2 397.9,120.1 398.3,120.1 398.8,120.0 399.3,119.9 399.7,119.8 400.2,119.8 400.6,119.7 401.1,119.6 401.6,119.5 402.0,119.4 402.5,119.2 403.0,119.1 403.4,119.0 403.9,118.8 404.3,118.7 404.8,118.5 405.3,118.3 405.7,118.1 406.2,117.8 406.7,117.6 407.1,117.3 407.6,117.0 408.1,116.6 408.5,116.2 409.0,115.8 409.4,115.3 409.9,114.8 410.4,114.2 410.8,113.5 411.3,112.7 411.8,111.8 412.2,110.8 412.7,109.6 413.2,108.3 413.6,106.8 414.1,105.0 414.5,103.1 415.0,101.0 415.5,98.6 415.9,96.1 416.4,93.4 416.9,90.9 417.3,88.5 417.8,86.6 418.3,85.4 418.7,85.0 419.2,85.2 419.6,85.6 420.1,86.3 420.6,87.3 421.0,88.4 421.5,89.7 422.0,91.1 422.4,92.6 422.9,94.1 423.3,95.6 423.8,97.1 424.3,98.5 424.7,99.9 425.2,101.2 425.7,102.4 426.1,103.6 426.6,104.7 427.1,105.7 427.5,106.7 428.0,107.6 428.4,108.4 428.9,109.1 429.4,109.8 429.8,110.5 430.3,111.1 430.8,111.6 431.2,112.2 431.7,112.6 432.2,113.1 432.6,113.5 433.1,113.9 433.5,114.2 434.0,114.6 434.5,114.9 434.9,115.2 435.4,115.4 435.9,115.7 436.3,115.9 436.8,116.1 437.3,116.3 437.7,116.5 438.2,116.7 438.6,116.9 439.1,117.0 439.6,117.2 440.0,117.3 440.5,117.4 441.0,117.5 441.4,117.7 441.9,117.8 442.3,117.8 442.8,117.9 443.3,118.0 443.7,118.1 444.2,118.1 444.7,118.2 445.1,118.3 445.6,118.3 446.1,118.3 446.5,118.4 447.0,118.4 447.4,118.4 447.9,118.4 448.4,118.5 448.8,118.5 449.3,118.5 449.8,118.5 450.2,118.4 450.7,118.4 451.2,118.4 451.6,118.4 452.1,118.3 452.5,118.3 453.0,118.2 453.5,118.1 453.9,118.0 454.4,117.9 454.9,117.8 455.3,117.7 455.8,117.6 456.3,117.4 456.7,117.2 457.2,117.0 457.6,116.8 458.1,116.6 458.6,116.4 459.0,116.1 459.5,115.8 460.0,115.5 460.4,115.2 460.9,114.8 461.3,114.5 461.8,114.1 462.3,113.8 462.7,113.5 463.2,113.2 463.7,113.0 464.1,112.8 464.6,112.7 465.1,112.7 465.5,112.7 466.0,112.8 466.4,112.9 466.9,113.1 467.4,113.3 467.8,113.6 468.3,113.8 468.8,114.1 469.2,114.4 469.7,114.7 470.2,115.0 470.6,115.3 471.1,115.6 471.5,115.9 472.0,116.2 472.5,116.4 472.9,116.7 473.4,116.9 473.9,117.1 474.3,117.4 474.8,117.6 475.3,117.8 475.7,117.9 476.2,118.1 476.6,118.3 477.1,118.4 477.6,118.6 478.0,118.7 478.5,118.8 479.0,118.9 479.4,119.0 479.9,119.1 480.3,119.2 480.8,119.3 481.3,119.4 481.7,119.5 482.2,119.6 482.7,119.7 483.1,119.7 483.6,119.8 484.1,119.8 484.5,119.9 485.0,120.0 485.4,120.0 485.9,120.1 486.4,120.1 486.8,120.2 487.3,120.2 487.8,120.2 488.2,120.3 488.7,120.3 489.2,120.4 489.6,120.4 490.1,120.4 490.5,120.5 491.0,120.5 491.5,120.5 491.9,120.5 492.4,120.6 492.4,124.6Z" fill="url(#g10)" fill-opacity="0.8"/>
<linearGradient id="g11" gradientUnits="userSpaceOnUse" x1="0" y1="141.39" x2="0" y2="100.51"><stop offset="0" stop-color="#76EA46"/><stop offset="0.4" stop-color="#A4E852"/><stop offset="0.62" stop-color="#E2D470"/><stop offset="0.82" stop-color="#F2A070"/><stop offset="1" stop-color="#F27E68"/></linearGradient>
<path d="M358.6,141.4 358.6,137.9 359.1,137.9 359.5,137.9 360.0,137.8 360.5,137.8 361.0,137.8 361.5,137.8 362.0,137.8 362.5,137.8 362.9,137.8 363.4,137.8 363.9,137.8 364.4,137.8 364.9,137.7 365.4,137.7 365.9,137.7 366.4,137.7 366.8,137.7 367.3,137.7 367.8,137.7 368.3,137.7 368.8,137.6 369.3,137.6 369.8,137.6 370.2,137.6 370.7,137.6 371.2,137.6 371.7,137.5 372.2,137.5 372.7,137.5 373.2,137.5 373.6,137.5 374.1,137.4 374.6,137.4 375.1,137.4 375.6,137.4 376.1,137.3 376.6,137.3 377.1,137.3 377.5,137.2 378.0,137.2 378.5,137.2 379.0,137.1 379.5,137.1 380.0,137.0 380.5,137.0 380.9,137.0 381.4,136.9 381.9,136.9 382.4,136.8 382.9,136.7 383.4,136.7 383.9,136.6 384.3,136.5 384.8,136.5 385.3,136.4 385.8,136.3 386.3,136.2 386.8,136.1 387.3,136.0 387.7,135.9 388.2,135.8 388.7,135.7 389.2,135.5 389.7,135.4 390.2,135.2 390.7,135.0 391.2,134.9 391.6,134.7 392.1,134.4 392.6,134.2 393.1,133.9 393.6,133.6 394.1,133.3 394.6,132.9 395.0,132.5 395.5,132.0 396.0,131.5 396.5,131.0 397.0,130.4 397.5,129.6 398.0,128.8 398.4,127.9 398.9,126.9 399.4,125.8 399.9,124.4 400.4,123.0 400.9,121.3 401.4,119.4 401.9,117.3 402.3,115.0 402.8,112.6 403.3,110.0 403.8,107.4 404.3,105.0 404.8,102.9 405.3,101.4 405.7,100.6 406.2,100.5 406.7,100.8 407.2,101.5 407.7,102.4 408.2,103.5 408.7,104.8 409.1,106.3 409.6,107.8 410.1,109.4 410.6,111.0 411.1,112.6 411.6,114.1 412.1,115.6 412.6,117.0 413.0,118.3 413.5,119.6 414.0,120.7 414.5,121.8 415.0,122.8 415.5,123.8 416.0,124.6 416.4,125.4 416.9,126.2 417.4,126.8 417.9,127.5 418.4,128.1 418.9,128.6 419.4,129.1 419.8,129.5 420.3,130.0 420.8,130.4 421.3,130.7 421.8,131.1 422.3,131.4 422.8,131.7 423.2,131.9 423.7,132.2 424.2,132.4 424.7,132.7 425.2,132.9 425.7,133.0 426.2,133.2 426.7,133.4 427.1,133.5 427.6,133.7 428.1,133.8 428.6,133.9 429.1,134.0 429.6,134.1 430.1,134.2 430.5,134.3 431.0,134.4 431.5,134.5 432.0,134.5 432.5,134.6 433.0,134.7 433.5,134.7 433.9,134.7 434.4,134.8 434.9,134.8 435.4,134.8 435.9,134.8 436.4,134.9 436.9,134.9 437.4,134.9 437.8,134.8 438.3,134.8 438.8,134.8 439.3,134.8 439.8,134.7 440.3,134.7 440.8,134.6 441.2,134.6 441.7,134.5 442.2,134.4 442.7,134.3 443.2,134.2 443.7,134.1 444.2,133.9 444.6,133.8 445.1,133.6 445.6,133.4 446.1,133.2 446.6,133.0 447.1,132.7 447.6,132.4 448.1,132.1 448.5,131.8 449.0,131.4 449.5,130.9 450.0,130.5 450.5,130.0 451.0,129.4 451.5,128.8 451.9,128.1 452.4,127.4 452.9,126.6 453.4,125.8 453.9,125.0 454.4,124.1 454.9,123.3 455.3,122.5 455.8,121.9 456.3,121.3 456.8,120.9 457.3,120.7 457.8,120.7 458.3,120.8 458.8,121.1 459.2,121.4 459.7,121.9 460.2,122.4 460.7,123.0 461.2,123.7 461.7,124.3 462.2,125.0 462.6,125.7 463.1,126.4 463.6,127.0 464.1,127.7 464.6,128.3 465.1,128.8 465.6,129.4 466.0,129.9 466.5,130.4 467.0,130.8 467.5,131.2 468.0,131.6 468.5,132.0 469.0,132.3 469.4,132.6 469.9,132.9 470.4,133.2 470.9,133.4 471.4,133.7 471.9,133.9 472.4,134.1 472.9,134.3 473.3,134.5 473.8,134.6 474.3,134.8 474.8,134.9 475.3,135.1 475.8,135.2 476.3,135.3 476.7,135.4 477.2,135.6 477.7,135.7 478.2,135.7 478.7,135.8 479.2,135.9 479.7,136.0 480.1,136.1 480.6,136.2 481.1,136.2 481.6,136.3 482.1,136.4 482.6,136.4 483.1,136.5 483.6,136.5 484.0,136.6 484.5,136.6 484.5,141.4Z" fill="url(#g11)" fill-opacity="0.8"/>
<linearGradient id="g12" gradientUnits="userSpaceOnUse" x1="0" y1="159.96" x2="0" y2="117.62"><stop offset="0" stop-color="#76EA46"/><stop offset="0.4" stop-color="#A4E852"/><stop offset="0.62" stop-color="#E2D470"/><stop offset="0.82" stop-color="#F2A070"/><stop offset="1" stop-color="#F27E68"/></linearGradient>
<path d="M343.3,160.0 343.3,156.2 343.8,156.2 344.3,156.2 344.9,156.2 345.4,156.2 345.9,156.2 346.4,156.2 346.9,156.2 347.4,156.1 347.9,156.1 348.4,156.1 349.0,156.1 349.5,156.1 350.0,156.1 350.5,156.1 351.0,156.0 351.5,156.0 352.0,156.0 352.5,156.0 353.0,156.0 353.6,156.0 354.1,155.9 354.6,155.9 355.1,155.9 355.6,155.9 356.1,155.9 356.6,155.8 357.1,155.8 357.7,155.8 358.2,155.8 358.7,155.7 359.2,155.7 359.7,155.7 360.2,155.7 360.7,155.6 361.2,155.6 361.7,155.6 362.3,155.5 362.8,155.5 363.3,155.4 363.8,155.4 364.3,155.4 364.8,155.3 365.3,155.3 365.8,155.2 366.3,155.2 366.9,155.1 367.4,155.0 367.9,155.0 368.4,154.9 368.9,154.8 369.4,154.8 369.9,154.7 370.4,154.6 371.0,154.5 371.5,154.4 372.0,154.3 372.5,154.2 373.0,154.1 373.5,153.9 374.0,153.8 374.5,153.7 375.0,153.5 375.6,153.3 376.1,153.1 376.6,152.9 377.1,152.7 377.6,152.4 378.1,152.2 378.6,151.9 379.1,151.6 379.6,151.2 380.2,150.8 380.7,150.4 381.2,149.9 381.7,149.4 382.2,148.8 382.7,148.1 383.2,147.3 383.7,146.5 384.3,145.6 384.8,144.5 385.3,143.3 385.8,141.9 386.3,140.4 386.8,138.7 387.3,136.8 387.8,134.7 388.3,132.5 388.9,130.0 389.4,127.5 389.9,124.9 390.4,122.5 390.9,120.4 391.4,118.8 391.9,117.8 392.4,117.6 393.0,117.9 393.5,118.5 394.0,119.4 394.5,120.6 395.0,122.0 395.5,123.5 396.0,125.2 396.5,126.9 397.0,128.6 397.6,130.3 398.1,131.9 398.6,133.5 399.1,135.0 399.6,136.4 400.1,137.7 400.6,138.9 401.1,140.0 401.6,141.1 402.2,142.0 402.7,142.9 403.2,143.8 403.7,144.5 404.2,145.2 404.7,145.9 405.2,146.4 405.7,147.0 406.3,147.5 406.8,148.0 407.3,148.4 407.8,148.8 408.3,149.2 408.8,149.5 409.3,149.8 409.8,150.1 410.3,150.4 410.9,150.6 411.4,150.9 411.9,151.1 412.4,151.3 412.9,151.5 413.4,151.7 413.9,151.8 414.4,152.0 415.0,152.1 415.5,152.2 416.0,152.4 416.5,152.5 417.0,152.6 417.5,152.7 418.0,152.8 418.5,152.8 419.0,152.9 419.6,153.0 420.1,153.0 420.6,153.1 421.1,153.1 421.6,153.2 422.1,153.2 422.6,153.2 423.1,153.3 423.6,153.3 424.2,153.3 424.7,153.3 425.2,153.3 425.7,153.3 426.2,153.3 426.7,153.3 427.2,153.2 427.7,153.2 428.3,153.2 428.8,153.1 429.3,153.1 429.8,153.0 430.3,152.9 430.8,152.8 431.3,152.7 431.8,152.6 432.3,152.5 432.9,152.4 433.4,152.2 433.9,152.1 434.4,151.9 434.9,151.7 435.4,151.5 435.9,151.2 436.4,151.0 436.9,150.7 437.5,150.3 438.0,149.9 438.5,149.5 439.0,149.1 439.5,148.5 440.0,148.0 440.5,147.3 441.0,146.6 441.6,145.8 442.1,145.0 442.6,144.0 443.1,142.9 443.6,141.7 444.1,140.4 444.6,139.1 445.1,137.6 445.6,136.1 446.2,134.6 446.7,133.2 447.2,131.9 447.7,130.8 448.2,130.0 448.7,129.6 449.2,129.6 449.7,129.8 450.3,130.3 450.8,131.0 451.3,131.9 451.8,132.9 452.3,134.0 452.8,135.2 453.3,136.4 453.8,137.6 454.3,138.8 454.9,139.9 455.4,141.0 455.9,142.0 456.4,143.0 456.9,143.9 457.4,144.7 457.9,145.5 458.4,146.2 458.9,146.8 459.5,147.5 460.0,148.0 460.5,148.5 461.0,149.0 461.5,149.4 462.0,149.9 462.5,150.2 463.0,150.6 463.6,150.9 464.1,151.2 464.6,151.5 465.1,151.7 465.6,152.0 466.1,152.2 466.6,152.4 467.1,152.6 467.6,152.8 468.2,152.9 468.7,153.1 469.2,153.2 469.7,153.4 470.2,153.5 470.7,153.6 471.2,153.7 471.7,153.9 472.3,154.0 472.8,154.1 473.3,154.2 473.8,154.2 474.3,154.3 474.8,154.4 475.3,154.5 475.8,154.5 475.8,160.0Z" fill="url(#g12)" fill-opacity="0.8"/>
<linearGradient id="g13" gradientUnits="userSpaceOnUse" x1="0" y1="180.58" x2="0" y2="136.70"><stop offset="0" stop-color="#76EA46"/><stop offset="0.4" stop-color="#A4E852"/><stop offset="0.62" stop-color="#E2D470"/><stop offset="0.82" stop-color="#F2A070"/><stop offset="1" stop-color="#F27E68"/></linearGradient>
<path d="M326.4,180.6 326.4,176.6 326.9,176.6 327.5,176.6 328.0,176.6 328.6,176.6 329.1,176.6 329.6,176.5 330.2,176.5 330.7,176.5 331.3,176.5 331.8,176.5 332.3,176.5 332.9,176.5 333.4,176.4 334.0,176.4 334.5,176.4 335.0,176.4 335.6,176.4 336.1,176.4 336.7,176.3 337.2,176.3 337.7,176.3 338.3,176.3 338.8,176.3 339.4,176.2 339.9,176.2 340.4,176.2 341.0,176.2 341.5,176.1 342.1,176.1 342.6,176.1 343.1,176.0 343.7,176.0 344.2,176.0 344.7,175.9 345.3,175.9 345.8,175.8 346.4,175.8 346.9,175.8 347.4,175.7 348.0,175.7 348.5,175.6 349.1,175.6 349.6,175.5 350.1,175.4 350.7,175.4 351.2,175.3 351.8,175.2 352.3,175.2 352.8,175.1 353.4,175.0 353.9,174.9 354.5,174.8 355.0,174.7 355.5,174.6 356.1,174.5 356.6,174.4 357.2,174.2 357.7,174.1 358.2,173.9 358.8,173.8 359.3,173.6 359.9,173.4 360.4,173.2 360.9,172.9 361.5,172.7 362.0,172.4 362.6,172.1 363.1,171.8 363.6,171.4 364.2,171.0 364.7,170.6 365.3,170.1 365.8,169.6 366.3,169.0 366.9,168.3 367.4,167.6 368.0,166.8 368.5,165.9 369.0,164.9 369.6,163.7 370.1,162.4 370.7,161.0 371.2,159.4 371.7,157.6 372.3,155.6 372.8,153.5 373.4,151.1 373.9,148.7 374.4,146.1 375.0,143.6 375.5,141.3 376.1,139.3 376.6,137.8 377.1,136.9 377.7,136.7 378.2,137.0 378.7,137.7 379.3,138.7 379.8,140.1 380.4,141.6 380.9,143.3 381.4,145.1 382.0,146.9 382.5,148.7 383.1,150.5 383.6,152.2 384.1,153.9 384.7,155.4 385.2,156.9 385.8,158.2 386.3,159.5 386.8,160.6 387.4,161.7 387.9,162.7 388.5,163.6 389.0,164.4 389.5,165.2 390.1,165.9 390.6,166.5 391.2,167.1 391.7,167.7 392.2,168.2 392.8,168.6 393.3,169.1 393.9,169.5 394.4,169.8 394.9,170.2 395.5,170.5 396.0,170.8 396.6,171.0 397.1,171.3 397.6,171.5 398.2,171.7 398.7,171.9 399.3,172.1 399.8,172.3 400.3,172.5 400.9,172.6 401.4,172.7 402.0,172.9 402.5,173.0 403.0,173.1 403.6,173.2 404.1,173.3 404.7,173.4 405.2,173.5 405.7,173.5 406.3,173.6 406.8,173.7 407.4,173.7 407.9,173.8 408.4,173.8 409.0,173.9 409.5,173.9 410.1,173.9 410.6,173.9 411.1,174.0 411.7,174.0 412.2,174.0 412.7,174.0 413.3,174.0 413.8,174.0 414.4,174.0 414.9,173.9 415.4,173.9 416.0,173.9 416.5,173.8 417.1,173.8 417.6,173.7 418.1,173.7 418.7,173.6 419.2,173.5 419.8,173.4 420.3,173.3 420.8,173.2 421.4,173.1 421.9,173.0 422.5,172.8 423.0,172.6 423.5,172.4 424.1,172.2 424.6,172.0 425.2,171.7 425.7,171.4 426.2,171.1 426.8,170.8 427.3,170.4 427.9,169.9 428.4,169.4 428.9,168.8 429.5,168.2 430.0,167.5 430.6,166.7 431.1,165.8 431.6,164.7 432.2,163.6 432.7,162.2 433.3,160.8 433.8,159.1 434.3,157.3 434.9,155.3 435.4,153.2 436.0,150.9 436.5,148.7 437.0,146.5 437.6,144.6 438.1,143.1 438.7,142.2 439.2,141.9 439.7,142.2 440.3,142.9 440.8,143.9 441.4,145.3 441.9,146.9 442.4,148.6 443.0,150.4 443.5,152.2 444.1,154.0 444.6,155.7 445.1,157.3 445.7,158.8 446.2,160.2 446.8,161.4 447.3,162.6 447.8,163.7 448.4,164.6 448.9,165.5 449.4,166.3 450.0,167.1 450.5,167.7 451.1,168.3 451.6,168.9 452.1,169.4 452.7,169.9 453.2,170.3 453.8,170.7 454.3,171.0 454.8,171.4 455.4,171.7 455.9,172.0 456.5,172.2 457.0,172.5 457.5,172.7 458.1,172.9 458.6,173.1 459.2,173.3 459.7,173.4 460.2,173.6 460.8,173.8 461.3,173.9 461.9,174.0 462.4,174.1 462.9,174.3 463.5,174.4 464.0,174.5 464.6,174.6 465.1,174.7 465.6,174.8 466.2,174.8 466.2,180.6Z" fill="url(#g13)" fill-opacity="0.8"/>
<linearGradient id="g14" gradientUnits="userSpaceOnUse" x1="0" y1="203.60" x2="0" y2="158.06"><stop offset="0" stop-color="#76EA46"/><stop offset="0.4" stop-color="#A4E852"/><stop offset="0.62" stop-color="#E2D470"/><stop offset="0.82" stop-color="#F2A070"/><stop offset="1" stop-color="#F27E68"/></linearGradient>
<path d="M307.5,203.6 307.5,199.4 308.1,199.4 308.6,199.4 309.2,199.4 309.8,199.4 310.4,199.3 310.9,199.3 311.5,199.3 312.1,199.3 312.6,199.3 313.2,199.3 313.8,199.3 314.4,199.2 314.9,199.2 315.5,199.2 316.1,199.2 316.6,199.2 317.2,199.1 317.8,199.1 318.3,199.1 318.9,199.1 319.5,199.1 320.1,199.0 320.6,199.0 321.2,199.0 321.8,198.9 322.3,198.9 322.9,198.9 323.5,198.9 324.1,198.8 324.6,198.8 325.2,198.8 325.8,198.7 326.3,198.7 326.9,198.6 327.5,198.6 328.1,198.5 328.6,198.5 329.2,198.4 329.8,198.4 330.3,198.3 330.9,198.3 331.5,198.2 332.1,198.2 332.6,198.1 333.2,198.0 333.8,197.9 334.3,197.9 334.9,197.8 335.5,197.7 336.1,197.6 336.6,197.5 337.2,197.4 337.8,197.3 338.3,197.1 338.9,197.0 339.5,196.9 340.0,196.7 340.6,196.5 341.2,196.4 341.8,196.2 342.3,196.0 342.9,195.7 343.5,195.5 344.0,195.2 344.6,194.9 345.2,194.6 345.8,194.3 346.3,193.9 346.9,193.5 347.5,193.1 348.0,192.6 348.6,192.0 349.2,191.4 349.8,190.8 350.3,190.0 350.9,189.2 351.5,188.3 352.0,187.3 352.6,186.1 353.2,184.9 353.8,183.4 354.3,181.9 354.9,180.1 355.5,178.2 356.0,176.1 356.6,173.8 357.2,171.4 357.8,168.9 358.3,166.4 358.9,163.9 359.5,161.7 360.0,159.9 360.6,158.7 361.2,158.1 361.7,158.1 362.3,158.6 362.9,159.5 363.5,160.8 364.0,162.3 364.6,164.1 365.2,166.0 365.7,167.9 366.3,169.9 366.9,171.8 367.5,173.7 368.0,175.5 368.6,177.2 369.2,178.8 369.7,180.3 370.3,181.6 370.9,182.9 371.5,184.0 372.0,185.1 372.6,186.1 373.2,186.9 373.7,187.8 374.3,188.5 374.9,189.2 375.5,189.8 376.0,190.4 376.6,190.9 377.2,191.4 377.7,191.9 378.3,192.3 378.9,192.7 379.5,193.0 380.0,193.4 380.6,193.7 381.2,193.9 381.7,194.2 382.3,194.4 382.9,194.7 383.4,194.9 384.0,195.1 384.6,195.3 385.2,195.4 385.7,195.6 386.3,195.7 386.9,195.9 387.4,196.0 388.0,196.1 388.6,196.2 389.2,196.3 389.7,196.4 390.3,196.5 390.9,196.6 391.4,196.7 392.0,196.7 392.6,196.8 393.2,196.9 393.7,196.9 394.3,197.0 394.9,197.0 395.4,197.0 396.0,197.1 396.6,197.1 397.2,197.1 397.7,197.2 398.3,197.2 398.9,197.2 399.4,197.2 400.0,197.2 400.6,197.2 401.2,197.2 401.7,197.2 402.3,197.2 402.9,197.1 403.4,197.1 404.0,197.1 404.6,197.0 405.1,197.0 405.7,196.9 406.3,196.9 406.9,196.8 407.4,196.7 408.0,196.6 408.6,196.5 409.1,196.4 409.7,196.3 410.3,196.1 410.9,196.0 411.4,195.8 412.0,195.6 412.6,195.4 413.1,195.1 413.7,194.8 414.3,194.5 414.9,194.2 415.4,193.8 416.0,193.3 416.6,192.8 417.1,192.3 417.7,191.6 418.3,190.8 418.9,190.0 419.4,189.0 420.0,187.9 420.6,186.6 421.1,185.1 421.7,183.3 422.3,181.4 422.9,179.1 423.4,176.6 424.0,173.8 424.6,170.9 425.1,167.9 425.7,165.1 426.3,162.7 426.8,161.0 427.4,160.3 428.0,160.5 428.6,161.4 429.1,162.9 429.7,164.8 430.3,167.0 430.8,169.4 431.4,171.8 432.0,174.1 432.6,176.3 433.1,178.4 433.7,180.3 434.3,182.0 434.8,183.6 435.4,185.0 436.0,186.2 436.6,187.4 437.1,188.4 437.7,189.3 438.3,190.1 438.8,190.8 439.4,191.5 440.0,192.1 440.6,192.6 441.1,193.1 441.7,193.5 442.3,193.9 442.8,194.3 443.4,194.6 444.0,194.9 444.6,195.2 445.1,195.5 445.7,195.7 446.3,195.9 446.8,196.1 447.4,196.3 448.0,196.5 448.5,196.6 449.1,196.8 449.7,196.9 450.3,197.1 450.8,197.2 451.4,197.3 452.0,197.4 452.5,197.5 453.1,197.6 453.7,197.7 454.3,197.8 454.8,197.9 455.4,197.9 455.4,203.6Z" fill="url(#g14)" fill-opacity="0.8"/>
<line x1="307.50" y1="203.60" x2="455.40" y2="203.60" stroke="#1a1a1a" stroke-width="1.1" />
<line x1="307.50" y1="204.10" x2="307.50" y2="156.00" stroke="#1a1a1a" stroke-width="1.1" />
<line x1="455.40" y1="203.60" x2="506.10" y2="95.30" stroke="#1a1a1a" stroke-width="1.0" />
<line x1="318.06" y1="203.60" x2="318.06" y2="201.80" stroke="#1a1a1a" stroke-width="0.8" />
<line x1="339.19" y1="203.60" x2="339.19" y2="201.80" stroke="#1a1a1a" stroke-width="0.8" />
<line x1="360.32" y1="203.60" x2="360.32" y2="201.80" stroke="#1a1a1a" stroke-width="0.8" />
<line x1="381.45" y1="203.60" x2="381.45" y2="201.80" stroke="#1a1a1a" stroke-width="0.8" />
<line x1="402.58" y1="203.60" x2="402.58" y2="201.80" stroke="#1a1a1a" stroke-width="0.8" />
<line x1="423.71" y1="203.60" x2="423.71" y2="201.80" stroke="#1a1a1a" stroke-width="0.8" />
<line x1="444.84" y1="203.60" x2="444.84" y2="201.80" stroke="#1a1a1a" stroke-width="0.8" />
<line x1="307.50" y1="193.02" x2="309.30" y2="193.02" stroke="#1a1a1a" stroke-width="0.8" />
<line x1="307.50" y1="182.44" x2="309.30" y2="182.44" stroke="#1a1a1a" stroke-width="0.8" />
<line x1="307.50" y1="171.87" x2="309.30" y2="171.87" stroke="#1a1a1a" stroke-width="0.8" />
<line x1="307.50" y1="161.29" x2="309.30" y2="161.29" stroke="#1a1a1a" stroke-width="0.8" />
<line x1="360.5" y1="160" x2="439.55" y2="61.78" stroke="#F5B51A" stroke-width="1.8"/>
<path d="M443.00,57.50 L441.26,64.44 L436.59,60.68 Z" fill="#F5B51A"/>
<line x1="427" y1="162.5" x2="482.48" y2="95.73" stroke="#18A5E0" stroke-width="1.8"/>
<path d="M486.00,91.50 L484.15,98.42 L479.54,94.58 Z" fill="#18A5E0"/>
<text x="339.19" y="218.40" font-size="13.4" text-anchor="middle" fill="#000" stroke="#000" stroke-width="0.2" >3.4</text>
<text x="381.45" y="218.40" font-size="13.4" text-anchor="middle" fill="#000" stroke="#000" stroke-width="0.2" >3.6</text>
<text x="423.71" y="218.40" font-size="13.4" text-anchor="middle" fill="#000" stroke="#000" stroke-width="0.2" >3.8</text>
<text x="305.50" y="197.52" font-size="13.4" text-anchor="end" fill="#000" stroke="#000" stroke-width="0.2" >0.2</text>
<text x="305.50" y="176.37" font-size="13.4" text-anchor="end" fill="#000" stroke="#000" stroke-width="0.2" >0.6</text>
<text x="457.20" y="207.80" font-size="12.40" text-anchor="start" fill="#000" stroke="#000" stroke-width="0.2" >0</text>
<text x="467.98" y="184.78" font-size="11.93" text-anchor="start" fill="#000" stroke="#000" stroke-width="0.2" >15</text>
<text x="477.63" y="164.16" font-size="11.50" text-anchor="start" fill="#000" stroke="#000" stroke-width="0.2" >30</text>
<text x="486.33" y="145.59" font-size="11.12" text-anchor="start" fill="#000" stroke="#000" stroke-width="0.2" >45</text>
<text x="494.20" y="128.77" font-size="10.77" text-anchor="start" fill="#000" stroke="#000" stroke-width="0.2" >60</text>
<text x="501.36" y="113.47" font-size="10.46" text-anchor="start" fill="#000" stroke="#000" stroke-width="0.2" >75</text>
<text x="507.90" y="99.50" font-size="10.17" text-anchor="start" fill="#000" stroke="#000" stroke-width="0.2" >90</text>
<text x="387.45" y="228.60" font-size="13" text-anchor="middle" fill="#000" stroke="#000" stroke-width="0.2" >Wavelength(&#956;m)</text>
<text x="284.90" y="179.80" font-size="13" text-anchor="middle" fill="#000" stroke="#000" stroke-width="0.2" transform="rotate(-90.00 284.90 179.80)" >Reflectance</text>
<text font-size="13.5" stroke="#000" stroke-width="0.2" text-anchor="middle" transform="translate(508.10,153.42) rotate(-64.91)">Polarization Angle(deg)</text>
<text x="345.90" y="188.40" font-size="14" text-anchor="start" fill="#F5B51A" stroke="#F5B51A" stroke-width="0.2" font-weight="bold" >CH A</text>
<text x="417.30" y="188.40" font-size="14" text-anchor="start" fill="#18A5E0" stroke="#18A5E0" stroke-width="0.2" font-weight="bold" >CH B</text>
<line x1="150.93" y1="275.10" x2="150.93" y2="241.10" stroke="#e9e9e9" stroke-width="0.7" />
<line x1="70.33" y1="379.90" x2="150.93" y2="275.10" stroke="#ececec" stroke-width="0.7" />
<line x1="184.84" y1="275.10" x2="184.84" y2="241.10" stroke="#e9e9e9" stroke-width="0.7" />
<line x1="116.24" y1="379.90" x2="184.84" y2="275.10" stroke="#ececec" stroke-width="0.7" />
<line x1="218.75" y1="275.10" x2="218.75" y2="241.10" stroke="#e9e9e9" stroke-width="0.7" />
<line x1="162.15" y1="379.90" x2="218.75" y2="275.10" stroke="#ececec" stroke-width="0.7" />
<line x1="125.50" y1="267.54" x2="235.70" y2="267.54" stroke="#e6e6e6" stroke-width="0.7" />
<line x1="35.90" y1="369.54" x2="125.50" y2="267.54" stroke="#ececec" stroke-width="0.7" />
<line x1="125.50" y1="252.43" x2="235.70" y2="252.43" stroke="#e6e6e6" stroke-width="0.7" />
<line x1="35.90" y1="348.83" x2="125.50" y2="252.43" stroke="#ececec" stroke-width="0.7" />
<line x1="63.71" y1="347.38" x2="63.71" y2="304.69" stroke="#f0f0f0" stroke-width="0.7" />
<line x1="87.37" y1="319.70" x2="87.37" y2="280.33" stroke="#f0f0f0" stroke-width="0.7" />
<line x1="107.76" y1="295.85" x2="107.76" y2="259.36" stroke="#f0f0f0" stroke-width="0.7" />
<path d="M125.50,275.10 L125.50,241.10 L235.70,241.10 L235.70,275.10" fill="none" stroke="#b4b4b4" stroke-width="0.9"/>
<line x1="125.50" y1="275.10" x2="235.70" y2="275.10" stroke="#b4b4b4" stroke-width="0.9" />
<line x1="35.90" y1="333.30" x2="125.50" y2="241.10" stroke="#8c8c8c" stroke-width="0.9" />
<line x1="35.90" y1="379.90" x2="125.50" y2="275.10" stroke="#8c8c8c" stroke-width="0.9" />
<linearGradient id="g15" gradientUnits="userSpaceOnUse" x1="0" y1="275.10" x2="0" y2="242.38"><stop offset="0" stop-color="#76EA46"/><stop offset="0.4" stop-color="#A4E852"/><stop offset="0.62" stop-color="#E2D470"/><stop offset="0.82" stop-color="#F2A070"/><stop offset="1" stop-color="#F27E68"/></linearGradient>
<path d="M125.5,275.1 125.5,272.0 125.9,272.1 126.4,272.9 126.8,272.2 127.2,271.7 127.6,271.0 128.1,271.3 128.5,271.2 128.9,268.6 129.3,268.3 129.8,271.2 130.2,271.5 130.6,272.0 131.0,271.7 131.5,271.6 131.9,271.2 132.3,271.4 132.7,271.3 133.2,271.6 133.6,271.1 134.0,271.0 134.4,270.5 134.9,270.5 135.3,270.7 135.7,269.1 136.1,266.5 136.6,268.2 137.0,265.1 137.4,260.4 137.8,265.8 138.3,268.5 138.7,267.4 139.1,266.7 139.5,265.7 140.0,264.7 140.4,263.4 140.8,261.1 141.2,258.9 141.7,255.3 142.1,251.2 142.5,246.7 142.9,243.3 143.4,242.4 143.8,244.1 144.2,247.4 144.6,251.3 145.1,255.0 145.5,258.3 145.9,260.8 146.3,262.9 146.8,264.4 147.2,265.7 147.6,266.7 148.1,267.4 148.5,268.0 148.9,268.5 149.3,268.9 149.8,269.3 150.2,269.8 150.6,270.0 151.0,270.2 151.5,270.4 151.9,270.6 152.3,270.7 152.7,270.8 153.2,271.0 153.6,271.3 154.0,271.2 154.4,271.2 154.9,271.1 155.3,271.2 155.7,271.3 156.1,271.4 156.6,271.5 157.0,271.5 157.4,271.6 157.8,271.6 158.3,271.5 158.7,271.5 159.1,271.6 159.5,271.7 160.0,271.7 160.4,271.7 160.8,271.7 161.2,271.8 161.7,271.8 162.1,271.8 162.5,271.7 162.9,271.7 163.4,271.7 163.8,271.8 164.2,271.8 164.6,271.9 165.1,271.9 165.5,271.9 165.9,271.9 166.3,271.9 166.8,271.9 167.2,271.9 167.6,272.0 168.0,272.0 168.5,271.9 168.9,271.8 169.3,271.7 169.8,271.6 170.2,271.7 170.6,271.7 171.0,271.8 171.5,271.8 171.9,271.8 172.3,271.9 172.7,271.8 173.2,272.0 173.6,271.9 174.0,271.9 174.4,271.8 174.9,271.8 175.3,271.7 175.7,271.7 176.1,271.8 176.6,271.8 177.0,271.8 177.4,271.8 177.8,271.7 178.3,271.7 178.7,271.8 179.1,271.8 179.5,271.9 180.0,271.8 180.4,271.8 180.8,271.7 181.2,271.6 181.7,271.6 182.1,271.6 182.5,271.7 182.9,271.5 183.4,271.5 183.8,271.4 184.2,271.6 184.6,271.6 185.1,271.6 185.5,271.5 185.9,271.4 186.3,271.5 186.8,271.4 187.2,271.4 187.6,271.2 188.0,271.2 188.5,271.1 188.9,271.2 189.3,271.1 189.7,271.2 190.2,271.1 190.6,271.0 191.0,271.0 191.4,270.8 191.9,270.7 192.3,270.6 192.7,270.5 193.2,270.5 193.6,270.5 194.0,270.4 194.4,270.3 194.9,270.1 195.3,269.9 195.7,269.7 196.1,269.5 196.6,269.2 197.0,268.9 197.4,268.8 197.8,268.5 198.3,268.1 198.7,267.7 199.1,267.3 199.5,266.8 200.0,266.2 200.4,265.6 200.8,265.0 201.2,263.9 201.7,262.8 202.1,261.6 202.5,260.4 202.9,258.8 203.4,256.9 203.8,254.8 204.2,252.5 204.6,250.1 205.1,247.8 205.5,245.8 205.9,244.2 206.3,243.3 206.8,243.2 207.2,243.8 207.6,244.8 208.0,246.1 208.5,247.7 208.9,249.6 209.3,251.5 209.7,253.4 210.2,255.0 210.6,256.7 211.0,258.0 211.4,259.4 211.9,260.4 212.3,261.5 212.7,262.5 213.1,263.5 213.6,264.3 214.0,264.8 214.4,265.3 214.9,265.8 215.3,266.4 215.7,266.8 216.1,267.2 216.6,267.5 217.0,267.9 217.4,268.1 217.8,268.4 218.3,268.6 218.7,268.8 219.1,269.0 219.5,269.1 220.0,269.5 220.4,269.7 220.8,269.8 221.2,269.8 221.7,270.1 222.1,270.2 222.5,270.3 222.9,270.3 223.4,270.3 223.8,270.3 224.2,270.3 224.6,270.5 225.1,270.6 225.5,270.9 225.9,270.9 226.3,271.0 226.8,271.0 227.2,271.2 227.6,271.2 228.0,271.1 228.5,271.1 228.9,271.1 229.3,271.2 229.7,271.3 230.2,271.5 230.6,271.5 231.0,271.4 231.4,271.4 231.9,271.3 232.3,271.5 232.7,271.5 233.1,271.6 233.6,271.6 234.0,271.5 234.4,271.5 234.8,271.5 235.3,271.6 235.7,271.7 235.7,275.1Z" fill="url(#g15)" fill-opacity="0.8"/>
<linearGradient id="g16" gradientUnits="userSpaceOnUse" x1="0" y1="295.85" x2="0" y2="260.61"><stop offset="0" stop-color="#76EA46"/><stop offset="0.4" stop-color="#A4E852"/><stop offset="0.62" stop-color="#E2D470"/><stop offset="0.82" stop-color="#F2A070"/><stop offset="1" stop-color="#F27E68"/></linearGradient>
<path d="M107.8,295.9 107.8,293.2 108.2,293.4 108.7,293.0 109.1,292.6 109.6,291.9 110.0,291.5 110.5,291.6 110.9,291.8 111.4,292.3 111.9,291.7 112.3,291.7 112.8,291.9 113.2,292.1 113.7,291.9 114.1,292.3 114.6,292.8 115.0,293.1 115.5,292.8 116.0,292.8 116.4,292.2 116.9,286.2 117.3,284.9 117.8,289.1 118.2,289.2 118.7,283.5 119.1,283.8 119.6,285.7 120.1,288.7 120.5,285.8 121.0,283.8 121.4,288.2 121.9,287.7 122.3,286.5 122.8,285.5 123.2,285.0 123.7,283.0 124.1,280.5 124.6,277.5 125.1,274.5 125.5,270.2 126.0,265.4 126.4,261.8 126.9,260.6 127.3,262.4 127.8,266.0 128.2,270.3 128.7,274.4 129.2,277.9 129.6,280.8 130.1,282.8 130.5,284.3 131.0,285.7 131.4,286.8 131.9,287.7 132.3,288.3 132.8,288.9 133.3,289.4 133.7,289.7 134.2,290.1 134.6,290.3 135.1,290.5 135.5,290.7 136.0,291.0 136.4,291.2 136.9,291.3 137.4,291.3 137.8,291.4 138.3,291.6 138.7,291.6 139.2,291.7 139.6,291.7 140.1,291.6 140.5,291.7 141.0,291.8 141.4,292.1 141.9,292.0 142.4,292.0 142.8,291.9 143.3,292.0 143.7,291.9 144.2,291.9 144.6,292.0 145.1,292.0 145.5,292.1 146.0,292.1 146.5,292.1 146.9,292.1 147.4,292.0 147.8,292.1 148.3,292.1 148.7,292.2 149.2,292.2 149.6,292.3 150.1,292.2 150.6,292.2 151.0,292.2 151.5,292.1 151.9,292.2 152.4,292.1 152.8,292.3 153.3,292.4 153.7,292.4 154.2,292.3 154.7,292.1 155.1,292.2 155.6,292.2 156.0,292.2 156.5,292.0 156.9,292.0 157.4,292.0 157.8,292.1 158.3,292.1 158.8,292.1 159.2,292.0 159.7,292.0 160.1,292.0 160.6,292.0 161.0,291.8 161.5,291.7 161.9,291.7 162.4,291.8 162.8,291.7 163.3,291.6 163.8,291.5 164.2,291.4 164.7,291.5 165.1,291.5 165.6,291.5 166.0,291.5 166.5,291.3 166.9,291.1 167.4,291.0 167.9,290.9 168.3,290.8 168.8,290.6 169.2,290.5 169.7,290.4 170.1,290.2 170.6,290.1 171.0,289.8 171.5,289.5 172.0,289.2 172.4,288.9 172.9,288.4 173.3,287.9 173.8,287.4 174.2,286.8 174.7,286.1 175.1,285.2 175.6,284.1 176.1,283.0 176.5,281.5 177.0,279.9 177.4,278.0 177.9,275.7 178.3,273.2 178.8,270.4 179.2,267.5 179.7,264.8 180.2,262.7 180.6,261.5 181.1,261.6 181.5,262.4 182.0,264.0 182.4,265.9 182.9,268.0 183.3,270.3 183.8,272.4 184.2,274.5 184.7,276.4 185.2,278.2 185.6,279.8 186.1,280.9 186.5,282.2 187.0,283.2 187.4,284.4 187.9,285.2 188.3,285.9 188.8,286.5 189.3,287.0 189.7,287.5 190.2,287.9 190.6,288.1 191.1,288.5 191.5,288.9 192.0,289.3 192.4,289.5 192.9,289.8 193.4,290.0 193.8,290.1 194.3,290.2 194.7,290.3 195.2,290.5 195.6,290.6 196.1,290.7 196.5,290.8 197.0,290.9 197.5,291.0 197.9,291.1 198.4,291.1 198.8,291.3 199.3,291.3 199.7,291.4 200.2,291.2 200.6,291.4 201.1,291.4 201.5,291.6 202.0,291.6 202.5,291.7 202.9,291.7 203.4,291.8 203.8,291.9 204.3,291.9 204.7,291.9 205.2,291.8 205.6,291.8 206.1,291.9 206.6,292.0 207.0,292.1 207.5,292.2 207.9,292.2 208.4,292.1 208.8,292.1 209.3,292.2 209.7,292.2 210.2,292.3 210.7,292.3 211.1,292.3 211.6,292.3 212.0,292.4 212.5,292.4 212.9,292.5 213.4,292.4 213.8,292.4 214.3,292.4 214.8,292.3 215.2,292.3 215.7,292.3 216.1,292.3 216.6,292.3 217.0,292.4 217.5,292.4 217.9,292.5 218.4,292.5 218.9,292.5 219.3,292.5 219.8,292.5 220.2,292.6 220.7,292.5 221.1,292.4 221.6,292.4 222.0,292.5 222.5,292.6 222.9,292.6 223.4,292.6 223.9,292.6 224.3,292.5 224.8,292.5 225.2,292.5 225.7,292.5 225.7,295.9Z" fill="url(#g16)" fill-opacity="0.8"/>
<linearGradient id="g17" gradientUnits="userSpaceOnUse" x1="0" y1="319.70" x2="0" y2="281.92"><stop offset="0" stop-color="#76EA46"/><stop offset="0.4" stop-color="#A4E852"/><stop offset="0.62" stop-color="#E2D470"/><stop offset="0.82" stop-color="#F2A070"/><stop offset="1" stop-color="#F27E68"/></linearGradient>
<path d="M87.4,319.7 87.4,315.6 87.9,315.5 88.4,315.6 88.8,315.3 89.3,315.4 89.8,315.9 90.3,316.1 90.8,316.3 91.3,316.2 91.8,316.9 92.3,316.4 92.8,314.1 93.2,310.7 93.7,314.5 94.2,313.2 94.7,306.8 95.2,309.3 95.7,307.0 96.2,311.0 96.7,315.4 97.2,315.0 97.7,315.2 98.1,315.1 98.6,315.2 99.1,315.0 99.6,314.9 100.1,311.2 100.6,307.8 101.1,311.4 101.6,312.3 102.1,311.9 102.5,311.5 103.0,310.3 103.5,308.5 104.0,307.1 104.5,305.5 105.0,303.2 105.5,299.7 106.0,296.6 106.5,291.9 107.0,287.0 107.4,283.0 107.9,281.9 108.4,283.7 108.9,287.6 109.4,292.1 109.9,296.5 110.4,300.1 110.9,303.1 111.4,305.5 111.9,307.4 112.3,308.8 112.8,309.8 113.3,310.7 113.8,311.4 114.3,312.2 114.8,312.8 115.3,313.2 115.8,313.4 116.3,313.6 116.7,313.9 117.2,314.1 117.7,314.4 118.2,314.4 118.7,314.6 119.2,314.7 119.7,314.8 120.2,314.8 120.7,314.9 121.2,315.0 121.6,315.2 122.1,315.2 122.6,315.3 123.1,315.3 123.6,315.3 124.1,315.3 124.6,315.5 125.1,315.5 125.6,315.4 126.0,315.4 126.5,315.5 127.0,315.5 127.5,315.4 128.0,315.4 128.5,315.5 129.0,315.4 129.5,315.4 130.0,315.2 130.5,315.1 130.9,315.1 131.4,315.3 131.9,315.4 132.4,315.4 132.9,315.3 133.4,315.4 133.9,315.3 134.4,315.2 134.9,315.2 135.3,315.3 135.8,315.3 136.3,315.1 136.8,315.1 137.3,315.0 137.8,314.9 138.3,314.8 138.8,314.6 139.3,314.5 139.8,314.3 140.2,314.3 140.7,314.2 141.2,314.0 141.7,313.7 142.2,313.5 142.7,313.3 143.2,313.0 143.7,312.7 144.2,312.3 144.7,311.9 145.1,311.5 145.6,310.8 146.1,310.1 146.6,309.2 147.1,308.1 147.6,306.9 148.1,305.5 148.6,303.6 149.1,301.3 149.5,298.7 150.0,295.8 150.5,292.3 151.0,288.6 151.5,285.3 152.0,283.2 152.5,282.7 153.0,283.4 153.5,285.1 154.0,287.5 154.4,290.3 154.9,293.1 155.4,295.7 155.9,298.1 156.4,300.4 156.9,302.3 157.4,304.0 157.9,305.5 158.4,306.8 158.8,307.9 159.3,308.6 159.8,309.4 160.3,310.1 160.8,310.6 161.3,311.2 161.8,311.5 162.3,312.0 162.8,312.3 163.3,312.6 163.7,312.9 164.2,313.2 164.7,313.5 165.2,313.8 165.7,314.0 166.2,314.1 166.7,314.2 167.2,314.3 167.7,314.4 168.1,314.4 168.6,314.6 169.1,314.8 169.6,315.0 170.1,315.1 170.6,315.2 171.1,315.2 171.6,315.2 172.1,315.3 172.6,315.2 173.0,315.2 173.5,315.2 174.0,315.3 174.5,315.4 175.0,315.4 175.5,315.5 176.0,315.6 176.5,315.7 177.0,315.6 177.5,315.6 177.9,315.6 178.4,315.6 178.9,315.5 179.4,315.6 179.9,315.7 180.4,315.9 180.9,315.9 181.4,316.0 181.9,315.9 182.3,315.9 182.8,315.9 183.3,316.0 183.8,316.0 184.3,316.1 184.8,316.0 185.3,316.0 185.8,316.0 186.3,316.0 186.8,316.1 187.2,316.1 187.7,316.1 188.2,316.2 188.7,316.1 189.2,316.1 189.7,316.0 190.2,315.9 190.7,315.9 191.2,316.0 191.6,316.1 192.1,316.1 192.6,316.0 193.1,315.9 193.6,316.0 194.1,316.1 194.6,316.1 195.1,316.1 195.6,316.2 196.1,316.1 196.5,316.1 197.0,316.0 197.5,316.0 198.0,316.0 198.5,316.2 199.0,316.4 199.5,316.4 200.0,316.3 200.5,316.1 200.9,316.1 201.4,316.1 201.9,316.2 202.4,316.1 202.9,316.1 203.4,316.1 203.9,316.3 204.4,316.3 204.9,316.3 205.4,316.3 205.8,316.2 206.3,316.2 206.8,316.1 207.3,316.1 207.8,316.1 208.3,316.3 208.8,316.4 209.3,316.5 209.8,316.3 210.3,316.3 210.7,316.3 211.2,316.4 211.7,316.2 212.2,316.3 212.7,316.4 213.2,316.4 213.7,316.4 214.2,316.4 214.2,319.7Z" fill="url(#g17)" fill-opacity="0.8"/>
<linearGradient id="g18" gradientUnits="userSpaceOnUse" x1="0" y1="347.38" x2="0" y2="306.14"><stop offset="0" stop-color="#76EA46"/><stop offset="0.4" stop-color="#A4E852"/><stop offset="0.62" stop-color="#E2D470"/><stop offset="0.82" stop-color="#F2A070"/><stop offset="1" stop-color="#F27E68"/></linearGradient>
<path d="M63.7,347.4 63.7,343.3 64.2,343.5 64.8,343.5 65.3,343.1 65.8,343.6 66.4,343.3 66.9,343.9 67.4,343.1 67.9,343.2 68.5,342.6 69.0,342.5 69.5,342.7 70.1,342.9 70.6,342.9 71.1,342.8 71.6,342.7 72.2,342.3 72.7,342.1 73.2,340.5 73.8,337.8 74.3,340.7 74.8,343.2 75.4,342.4 75.9,342.6 76.4,341.2 76.9,340.0 77.5,339.5 78.0,339.2 78.5,339.7 79.1,338.8 79.6,336.9 80.1,333.5 80.6,328.4 81.2,332.8 81.7,334.5 82.2,333.6 82.8,331.2 83.3,326.7 83.8,322.4 84.4,317.1 84.9,311.7 85.4,307.4 85.9,306.1 86.5,308.2 87.0,312.5 87.5,317.5 88.1,322.2 88.6,326.0 89.1,329.4 89.6,332.0 90.2,334.0 90.7,335.4 91.2,336.5 91.8,337.6 92.3,338.4 92.8,339.2 93.3,339.6 93.9,340.1 94.4,340.4 94.9,340.7 95.5,340.9 96.0,341.2 96.5,341.4 97.1,341.6 97.6,341.7 98.1,342.0 98.6,342.1 99.2,342.1 99.7,342.1 100.2,342.3 100.8,342.4 101.3,342.4 101.8,342.2 102.3,342.3 102.9,342.2 103.4,342.2 103.9,342.1 104.5,342.2 105.0,342.3 105.5,342.3 106.1,342.4 106.6,342.4 107.1,342.5 107.6,342.5 108.2,342.5 108.7,342.4 109.2,342.2 109.8,342.1 110.3,342.0 110.8,341.9 111.3,341.9 111.9,341.9 112.4,341.7 112.9,341.6 113.5,341.3 114.0,341.2 114.5,341.1 115.1,340.9 115.6,340.5 116.1,339.9 116.6,339.4 117.2,338.8 117.7,338.2 118.2,337.5 118.8,336.7 119.3,335.5 119.8,334.2 120.3,332.2 120.9,330.1 121.4,327.5 121.9,324.3 122.5,320.4 123.0,315.9 123.5,311.6 124.1,308.4 124.6,307.1 125.1,308.0 125.6,310.5 126.2,314.0 126.7,317.7 127.2,321.3 127.8,324.5 128.3,327.3 128.8,329.8 129.3,331.7 129.9,333.3 130.4,334.7 130.9,335.8 131.5,336.7 132.0,337.3 132.5,337.9 133.0,338.7 133.6,339.4 134.1,339.9 134.6,340.1 135.2,340.3 135.7,340.5 136.2,340.9 136.8,341.2 137.3,341.5 137.8,341.5 138.3,341.6 138.9,341.8 139.4,341.9 139.9,342.2 140.5,342.2 141.0,342.3 141.5,342.2 142.0,342.3 142.6,342.5 143.1,342.7 143.6,342.7 144.2,342.6 144.7,342.7 145.2,342.8 145.8,342.9 146.3,342.9 146.8,342.8 147.3,343.0 147.9,342.9 148.4,343.1 148.9,343.0 149.5,343.2 150.0,343.2 150.5,343.3 151.0,343.3 151.6,343.1 152.1,343.1 152.6,343.1 153.2,343.2 153.7,343.0 154.2,343.1 154.8,343.1 155.3,343.3 155.8,343.3 156.3,343.4 156.9,343.3 157.4,343.4 157.9,343.5 158.5,343.6 159.0,343.6 159.5,343.5 160.0,343.4 160.6,343.4 161.1,343.4 161.6,343.5 162.2,343.5 162.7,343.5 163.2,343.4 163.8,343.4 164.3,343.5 164.8,343.6 165.3,343.6 165.9,343.6 166.4,343.6 166.9,343.7 167.5,343.8 168.0,343.8 168.5,343.7 169.0,343.5 169.6,343.6 170.1,343.6 170.6,343.6 171.2,343.4 171.7,343.5 172.2,343.5 172.7,343.7 173.3,343.6 173.8,343.6 174.3,343.6 174.9,343.7 175.4,343.8 175.9,343.8 176.5,343.9 177.0,343.8 177.5,343.8 178.0,343.7 178.6,343.6 179.1,343.6 179.6,343.6 180.2,343.7 180.7,343.6 181.2,343.7 181.7,343.9 182.3,343.9 182.8,343.7 183.3,343.6 183.9,343.7 184.4,343.6 184.9,343.6 185.5,343.5 186.0,343.6 186.5,343.8 187.0,343.8 187.6,343.9 188.1,343.7 188.6,343.7 189.2,343.6 189.7,343.6 190.2,343.6 190.7,343.6 191.3,343.6 191.8,343.6 192.3,343.7 192.9,343.6 193.4,343.6 193.9,343.6 194.5,343.7 195.0,343.7 195.5,343.6 196.0,343.6 196.6,343.6 197.1,343.8 197.6,343.9 198.2,344.0 198.7,343.9 199.2,343.8 199.7,343.8 200.3,343.9 200.8,343.9 200.8,347.4Z" fill="url(#g18)" fill-opacity="0.8"/>
<linearGradient id="g19" gradientUnits="userSpaceOnUse" x1="0" y1="379.90" x2="0" y2="334.88"><stop offset="0" stop-color="#76EA46"/><stop offset="0.4" stop-color="#A4E852"/><stop offset="0.62" stop-color="#E2D470"/><stop offset="0.82" stop-color="#F2A070"/><stop offset="1" stop-color="#F27E68"/></linearGradient>
<path d="M35.9,379.9 35.9,375.4 36.5,375.2 37.1,375.4 37.6,375.1 38.2,375.1 38.8,375.9 39.4,376.4 39.9,376.6 40.5,376.3 41.1,374.9 41.7,369.3 42.2,364.2 42.8,371.7 43.4,371.6 44.0,372.5 44.5,374.7 45.1,375.1 45.7,374.2 46.3,374.7 46.8,374.3 47.4,372.9 48.0,370.8 48.6,372.3 49.1,372.8 49.7,373.3 50.3,373.0 50.9,367.0 51.5,363.9 52.0,370.3 52.6,370.8 53.2,370.3 53.8,370.3 54.3,369.7 54.9,368.8 55.5,367.6 56.1,365.1 56.6,362.0 57.2,357.3 57.8,352.5 58.4,346.9 58.9,341.0 59.5,336.3 60.1,334.9 60.7,337.3 61.2,342.0 61.8,347.4 62.4,352.4 63.0,356.7 63.6,360.2 64.1,363.1 64.7,365.3 65.3,367.0 65.9,368.2 66.4,369.4 67.0,370.2 67.6,371.0 68.2,371.4 68.7,371.9 69.3,372.3 69.9,372.6 70.5,373.0 71.0,373.3 71.6,373.6 72.2,373.7 72.8,373.8 73.3,373.8 73.9,373.9 74.5,374.1 75.1,374.2 75.6,374.2 76.2,374.3 76.8,374.1 77.4,374.2 78.0,374.0 78.5,374.0 79.1,374.1 79.7,374.1 80.3,374.2 80.8,374.1 81.4,374.0 82.0,374.0 82.6,374.0 83.1,374.0 83.7,373.9 84.3,373.7 84.9,373.5 85.4,373.2 86.0,372.9 86.6,372.6 87.2,372.2 87.7,371.9 88.3,371.3 88.9,370.7 89.5,369.7 90.0,368.5 90.6,367.0 91.2,365.3 91.8,362.9 92.4,359.9 92.9,355.9 93.5,351.1 94.1,345.1 94.7,339.5 95.2,336.1 95.8,336.5 96.4,339.8 97.0,344.6 97.5,349.7 98.1,354.2 98.7,358.1 99.3,361.3 99.8,363.9 100.4,365.7 101.0,367.2 101.6,368.4 102.1,369.5 102.7,370.4 103.3,371.2 103.9,371.8 104.5,372.3 105.0,372.5 105.6,373.0 106.2,373.2 106.8,373.5 107.3,373.6 107.9,373.8 108.5,374.0 109.1,374.3 109.6,374.4 110.2,374.5 110.8,374.6 111.4,374.7 111.9,374.8 112.5,374.7 113.1,374.8 113.7,374.9 114.2,374.9 114.8,374.8 115.4,374.9 116.0,374.9 116.5,375.0 117.1,375.1 117.7,375.2 118.3,375.3 118.9,375.4 119.4,375.5 120.0,375.4 120.6,375.3 121.2,375.5 121.7,375.5 122.3,375.7 122.9,375.6 123.5,375.5 124.0,375.6 124.6,375.5 125.2,375.7 125.8,375.6 126.3,375.6 126.9,375.6 127.5,375.6 128.1,375.6 128.6,375.6 129.2,375.7 129.8,375.9 130.4,375.9 131.0,375.9 131.5,375.8 132.1,375.8 132.7,375.8 133.3,375.7 133.8,375.7 134.4,375.9 135.0,375.9 135.6,375.9 136.1,375.9 136.7,376.0 137.3,375.9 137.9,375.8 138.4,375.8 139.0,375.8 139.6,375.9 140.2,375.8 140.7,375.8 141.3,375.8 141.9,376.0 142.5,375.9 143.0,375.8 143.6,375.8 144.2,375.7 144.8,376.0 145.4,375.9 145.9,375.9 146.5,375.8 147.1,375.8 147.7,375.8 148.2,375.7 148.8,375.7 149.4,375.7 150.0,375.8 150.5,376.0 151.1,376.0 151.7,376.0 152.3,376.1 152.8,376.1 153.4,375.9 154.0,375.8 154.6,375.8 155.1,375.8 155.7,376.0 156.3,376.0 156.9,376.1 157.4,375.9 158.0,375.8 158.6,375.8 159.2,375.7 159.8,375.7 160.3,375.7 160.9,375.8 161.5,376.0 162.1,376.1 162.6,376.0 163.2,375.9 163.8,375.8 164.4,375.8 164.9,375.8 165.5,375.8 166.1,375.9 166.7,375.9 167.2,376.0 167.8,375.9 168.4,376.1 169.0,376.0 169.5,376.1 170.1,375.9 170.7,376.0 171.3,375.9 171.9,376.0 172.4,376.0 173.0,375.9 173.6,376.0 174.2,375.8 174.7,376.0 175.3,376.0 175.9,376.2 176.5,376.1 177.0,376.0 177.6,375.8 178.2,375.9 178.8,376.0 179.3,375.9 179.9,375.8 180.5,375.9 181.1,376.1 181.6,376.3 182.2,376.1 182.8,375.9 183.4,375.6 183.9,375.7 184.5,375.9 185.1,376.0 185.1,379.9Z" fill="url(#g19)" fill-opacity="0.8"/>
<line x1="35.90" y1="379.90" x2="185.10" y2="379.90" stroke="#1a1a1a" stroke-width="1.1" />
<line x1="35.90" y1="380.40" x2="35.90" y2="333.30" stroke="#1a1a1a" stroke-width="1.1" />
<line x1="185.10" y1="379.90" x2="235.70" y2="275.10" stroke="#1a1a1a" stroke-width="1.0" />
<line x1="35.90" y1="379.90" x2="35.90" y2="378.10" stroke="#1a1a1a" stroke-width="0.8" />
<line x1="47.38" y1="379.90" x2="47.38" y2="378.10" stroke="#1a1a1a" stroke-width="0.8" />
<line x1="58.85" y1="379.90" x2="58.85" y2="378.10" stroke="#1a1a1a" stroke-width="0.8" />
<line x1="70.33" y1="379.90" x2="70.33" y2="378.10" stroke="#1a1a1a" stroke-width="0.8" />
<line x1="81.81" y1="379.90" x2="81.81" y2="378.10" stroke="#1a1a1a" stroke-width="0.8" />
<line x1="93.28" y1="379.90" x2="93.28" y2="378.10" stroke="#1a1a1a" stroke-width="0.8" />
<line x1="104.76" y1="379.90" x2="104.76" y2="378.10" stroke="#1a1a1a" stroke-width="0.8" />
<line x1="116.24" y1="379.90" x2="116.24" y2="378.10" stroke="#1a1a1a" stroke-width="0.8" />
<line x1="127.72" y1="379.90" x2="127.72" y2="378.10" stroke="#1a1a1a" stroke-width="0.8" />
<line x1="139.19" y1="379.90" x2="139.19" y2="378.10" stroke="#1a1a1a" stroke-width="0.8" />
<line x1="150.67" y1="379.90" x2="150.67" y2="378.10" stroke="#1a1a1a" stroke-width="0.8" />
<line x1="162.15" y1="379.90" x2="162.15" y2="378.10" stroke="#1a1a1a" stroke-width="0.8" />
<line x1="173.62" y1="379.90" x2="173.62" y2="378.10" stroke="#1a1a1a" stroke-width="0.8" />
<line x1="185.10" y1="379.90" x2="185.10" y2="378.10" stroke="#1a1a1a" stroke-width="0.8" />
<line x1="35.90" y1="369.54" x2="37.70" y2="369.54" stroke="#1a1a1a" stroke-width="0.8" />
<line x1="35.90" y1="359.19" x2="37.70" y2="359.19" stroke="#1a1a1a" stroke-width="0.8" />
<line x1="35.90" y1="348.83" x2="37.70" y2="348.83" stroke="#1a1a1a" stroke-width="0.8" />
<line x1="35.90" y1="338.48" x2="37.70" y2="338.48" stroke="#1a1a1a" stroke-width="0.8" />
<line x1="59.3" y1="338.7" x2="140.36" y2="246.73" stroke="#F5B51A" stroke-width="1.8"/>
<path d="M144.00,242.60 L141.95,249.46 L137.45,245.49 Z" fill="#F5B51A"/>
<line x1="96" y1="340" x2="207.28" y2="241.45" stroke="#18A5E0" stroke-width="1.8"/>
<path d="M211.40,237.80 L208.52,244.36 L204.54,239.86 Z" fill="#18A5E0"/>
<text x="70.33" y="394.70" font-size="13.4" text-anchor="middle" fill="#000" stroke="#000" stroke-width="0.2" >3.6</text>
<text x="116.24" y="394.70" font-size="13.4" text-anchor="middle" fill="#000" stroke="#000" stroke-width="0.2" >4.0</text>
<text x="162.15" y="394.70" font-size="13.4" text-anchor="middle" fill="#000" stroke="#000" stroke-width="0.2" >4.4</text>
<text x="33.90" y="374.04" font-size="13.4" text-anchor="end" fill="#000" stroke="#000" stroke-width="0.2" >0.2</text>
<text x="33.90" y="353.33" font-size="13.4" text-anchor="end" fill="#000" stroke="#000" stroke-width="0.2" >0.6</text>
<text x="186.90" y="384.10" font-size="12.40" text-anchor="start" fill="#000" stroke="#000" stroke-width="0.2" >0.00</text>
<text x="202.60" y="351.58" font-size="11.71" text-anchor="start" fill="#000" stroke="#000" stroke-width="0.2" >0.25</text>
<text x="215.97" y="323.90" font-size="11.12" text-anchor="start" fill="#000" stroke="#000" stroke-width="0.2" >0.50</text>
<text x="227.48" y="300.05" font-size="10.61" text-anchor="start" fill="#000" stroke="#000" stroke-width="0.2" >0.75</text>
<text x="237.50" y="279.30" font-size="10.17" text-anchor="start" fill="#000" stroke="#000" stroke-width="0.2" >1.00</text>
<text x="116.50" y="404.90" font-size="13" text-anchor="middle" fill="#000" stroke="#000" stroke-width="0.2" >Wavelength(&#956;m)</text>
<text x="13.30" y="356.60" font-size="13" text-anchor="middle" fill="#000" stroke="#000" stroke-width="0.2" transform="rotate(-90.00 13.30 356.60)" >Reflectance</text>
<text font-size="13.7" stroke="#000" stroke-width="0.2" text-anchor="middle" transform="translate(243.50,339.04) rotate(-64.23)">Crystalline Fraction</text>
<text x="38.00" y="361.00" font-size="14" text-anchor="start" fill="#F5B51A" stroke="#F5B51A" stroke-width="0.2" font-weight="bold" >CH A</text>
<text x="82.00" y="361.00" font-size="14" text-anchor="start" fill="#18A5E0" stroke="#18A5E0" stroke-width="0.2" font-weight="bold" >CH B</text>
<line x1="425.27" y1="274.10" x2="425.27" y2="239.80" stroke="#e9e9e9" stroke-width="0.7" />
<line x1="344.44" y1="380.70" x2="425.27" y2="274.10" stroke="#ececec" stroke-width="0.7" />
<line x1="459.36" y1="274.10" x2="459.36" y2="239.80" stroke="#e9e9e9" stroke-width="0.7" />
<line x1="390.22" y1="380.70" x2="459.36" y2="274.10" stroke="#ececec" stroke-width="0.7" />
<line x1="493.45" y1="274.10" x2="493.45" y2="239.80" stroke="#e9e9e9" stroke-width="0.7" />
<line x1="436.01" y1="380.70" x2="493.45" y2="274.10" stroke="#ececec" stroke-width="0.7" />
<line x1="399.70" y1="266.48" x2="510.50" y2="266.48" stroke="#e6e6e6" stroke-width="0.7" />
<line x1="310.10" y1="370.48" x2="399.70" y2="266.48" stroke="#ececec" stroke-width="0.7" />
<line x1="399.70" y1="251.23" x2="510.50" y2="251.23" stroke="#e6e6e6" stroke-width="0.7" />
<line x1="310.10" y1="350.03" x2="399.70" y2="251.23" stroke="#ececec" stroke-width="0.7" />
<line x1="337.91" y1="347.62" x2="337.91" y2="305.25" stroke="#f0f0f0" stroke-width="0.7" />
<line x1="361.57" y1="319.46" x2="361.57" y2="280.18" stroke="#f0f0f0" stroke-width="0.7" />
<line x1="381.96" y1="295.21" x2="381.96" y2="258.59" stroke="#f0f0f0" stroke-width="0.7" />
<path d="M399.70,274.10 L399.70,239.80 L510.50,239.80 L510.50,274.10" fill="none" stroke="#b4b4b4" stroke-width="0.9"/>
<line x1="399.70" y1="274.10" x2="510.50" y2="274.10" stroke="#b4b4b4" stroke-width="0.9" />
<line x1="310.10" y1="334.70" x2="399.70" y2="239.80" stroke="#8c8c8c" stroke-width="0.9" />
<line x1="310.10" y1="380.70" x2="399.70" y2="274.10" stroke="#8c8c8c" stroke-width="0.9" />
<linearGradient id="g20" gradientUnits="userSpaceOnUse" x1="0" y1="274.10" x2="0" y2="241.92"><stop offset="0" stop-color="#76EA46"/><stop offset="0.4" stop-color="#A4E852"/><stop offset="0.62" stop-color="#E2D470"/><stop offset="0.82" stop-color="#F2A070"/><stop offset="1" stop-color="#F27E68"/></linearGradient>
<path d="M399.7,274.1 399.7,271.4 400.1,271.3 400.6,271.3 401.0,271.2 401.4,271.2 401.8,271.1 402.3,271.1 402.7,271.0 403.1,271.0 403.6,270.9 404.0,270.8 404.4,270.8 404.8,270.7 405.3,270.6 405.7,270.5 406.1,270.4 406.5,270.2 407.0,270.1 407.4,269.9 407.8,269.8 408.3,269.6 408.7,269.3 409.1,269.1 409.5,268.8 410.0,268.4 410.4,268.1 410.8,267.6 411.3,267.1 411.7,266.5 412.1,265.8 412.5,264.9 413.0,263.9 413.4,262.7 413.8,261.3 414.2,259.6 414.7,257.6 415.1,255.2 415.5,252.5 416.0,249.6 416.4,246.6 416.8,244.1 417.2,242.4 417.7,241.9 418.1,242.7 418.5,244.4 419.0,246.7 419.4,249.4 419.8,252.0 420.2,254.5 420.7,256.8 421.1,258.7 421.5,260.4 421.9,261.9 422.4,263.1 422.8,264.1 423.2,265.0 423.7,265.7 424.1,266.4 424.5,266.9 424.9,267.4 425.4,267.8 425.8,268.2 426.2,268.5 426.7,268.8 427.1,269.0 427.5,269.3 427.9,269.5 428.4,269.6 428.8,269.8 429.2,269.9 429.6,270.1 430.1,270.2 430.5,270.3 430.9,270.4 431.4,270.4 431.8,270.5 432.2,270.6 432.6,270.7 433.1,270.7 433.5,270.8 433.9,270.8 434.4,270.9 434.8,270.9 435.2,270.9 435.6,271.0 436.1,271.0 436.5,271.0 436.9,271.1 437.3,271.1 437.8,271.1 438.2,271.1 438.6,271.1 439.1,271.2 439.5,271.2 439.9,271.2 440.3,271.2 440.8,271.2 441.2,271.2 441.6,271.2 442.1,271.2 442.5,271.2 442.9,271.2 443.3,271.2 443.8,271.3 444.2,271.3 444.6,271.3 445.0,271.3 445.5,271.2 445.9,271.2 446.3,271.2 446.8,271.2 447.2,271.2 447.6,271.2 448.0,271.2 448.5,271.2 448.9,271.2 449.3,271.2 449.8,271.2 450.2,271.2 450.6,271.1 451.0,271.1 451.5,271.1 451.9,271.1 452.3,271.1 452.7,271.1 453.2,271.0 453.6,271.0 454.0,271.0 454.5,271.0 454.9,270.9 455.3,270.9 455.7,270.9 456.2,270.8 456.6,270.8 457.0,270.8 457.5,270.7 457.9,270.7 458.3,270.7 458.7,270.6 459.2,270.6 459.6,270.5 460.0,270.4 460.4,270.4 460.9,270.3 461.3,270.3 461.7,270.2 462.2,270.1 462.6,270.0 463.0,269.9 463.4,269.8 463.9,269.7 464.3,269.6 464.7,269.5 465.2,269.4 465.6,269.3 466.0,269.1 466.4,269.0 466.9,268.8 467.3,268.6 467.7,268.4 468.1,268.2 468.6,268.0 469.0,267.8 469.4,267.5 469.9,267.2 470.3,266.9 470.7,266.5 471.1,266.1 471.6,265.7 472.0,265.3 472.4,264.7 472.9,264.2 473.3,263.6 473.7,262.9 474.1,262.1 474.6,261.3 475.0,260.3 475.4,259.3 475.8,258.2 476.3,257.0 476.7,255.6 477.1,254.2 477.6,252.7 478.0,251.1 478.4,249.5 478.8,247.9 479.3,246.4 479.7,245.1 480.1,244.0 480.6,243.2 481.0,242.8 481.4,242.8 481.8,243.1 482.3,243.5 482.7,244.2 483.1,245.1 483.5,246.1 484.0,247.2 484.4,248.4 484.8,249.6 485.3,250.9 485.7,252.1 486.1,253.3 486.5,254.4 487.0,255.5 487.4,256.6 487.8,257.5 488.3,258.5 488.7,259.3 489.1,260.1 489.5,260.8 490.0,261.5 490.4,262.2 490.8,262.8 491.2,263.3 491.7,263.8 492.1,264.3 492.5,264.7 493.0,265.1 493.4,265.5 493.8,265.8 494.2,266.2 494.7,266.5 495.1,266.7 495.5,267.0 496.0,267.3 496.4,267.5 496.8,267.7 497.2,267.9 497.7,268.1 498.1,268.3 498.5,268.4 498.9,268.6 499.4,268.7 499.8,268.9 500.2,269.0 500.7,269.1 501.1,269.2 501.5,269.3 501.9,269.5 502.4,269.6 502.8,269.6 503.2,269.7 503.7,269.8 504.1,269.9 504.5,270.0 504.9,270.0 505.4,270.1 505.8,270.2 506.2,270.2 506.6,270.3 507.1,270.4 507.5,270.4 507.9,270.5 508.4,270.5 508.8,270.6 509.2,270.6 509.6,270.7 510.1,270.7 510.5,270.7 510.5,274.1Z" fill="url(#g20)" fill-opacity="0.8"/>
<linearGradient id="g21" gradientUnits="userSpaceOnUse" x1="0" y1="295.21" x2="0" y2="260.80"><stop offset="0" stop-color="#76EA46"/><stop offset="0.4" stop-color="#A4E852"/><stop offset="0.62" stop-color="#E2D470"/><stop offset="0.82" stop-color="#F2A070"/><stop offset="1" stop-color="#F27E68"/></linearGradient>
<path d="M382.0,295.2 382.0,292.3 382.4,292.2 382.9,292.2 383.3,292.1 383.8,292.1 384.2,292.0 384.7,292.0 385.2,291.9 385.6,291.9 386.1,291.8 386.5,291.7 387.0,291.6 387.4,291.5 387.9,291.4 388.4,291.3 388.8,291.2 389.3,291.1 389.7,290.9 390.2,290.7 390.6,290.5 391.1,290.3 391.6,290.1 392.0,289.8 392.5,289.5 392.9,289.1 393.4,288.7 393.8,288.3 394.3,287.7 394.7,287.1 395.2,286.3 395.7,285.4 396.1,284.3 396.6,283.0 397.0,281.5 397.5,279.7 397.9,277.5 398.4,275.0 398.9,272.1 399.3,269.0 399.8,265.8 400.2,263.1 400.7,261.3 401.1,260.8 401.6,261.6 402.1,263.4 402.5,265.9 403.0,268.8 403.4,271.6 403.9,274.3 404.3,276.7 404.8,278.8 405.3,280.5 405.7,282.1 406.2,283.4 406.6,284.5 407.1,285.4 407.5,286.2 408.0,286.9 408.5,287.5 408.9,288.0 409.4,288.4 409.8,288.8 410.3,289.2 410.7,289.5 411.2,289.7 411.7,289.9 412.1,290.1 412.6,290.3 413.0,290.5 413.5,290.6 413.9,290.8 414.4,290.9 414.9,291.0 415.3,291.1 415.8,291.2 416.2,291.2 416.7,291.3 417.1,291.4 417.6,291.4 418.0,291.5 418.5,291.5 419.0,291.6 419.4,291.6 419.9,291.6 420.3,291.7 420.8,291.7 421.2,291.7 421.7,291.7 422.2,291.8 422.6,291.8 423.1,291.8 423.5,291.8 424.0,291.8 424.4,291.8 424.9,291.8 425.4,291.8 425.8,291.8 426.3,291.8 426.7,291.8 427.2,291.8 427.6,291.8 428.1,291.7 428.6,291.7 429.0,291.7 429.5,291.7 429.9,291.7 430.4,291.6 430.8,291.6 431.3,291.6 431.8,291.5 432.2,291.5 432.7,291.5 433.1,291.4 433.6,291.4 434.0,291.3 434.5,291.3 435.0,291.2 435.4,291.1 435.9,291.1 436.3,291.0 436.8,290.9 437.2,290.8 437.7,290.7 438.2,290.6 438.6,290.5 439.1,290.4 439.5,290.3 440.0,290.1 440.4,290.0 440.9,289.8 441.3,289.6 441.8,289.4 442.3,289.2 442.7,288.9 443.2,288.7 443.6,288.4 444.1,288.1 444.5,287.7 445.0,287.3 445.5,286.9 445.9,286.4 446.4,285.9 446.8,285.3 447.3,284.6 447.7,283.9 448.2,283.0 448.7,282.1 449.1,281.1 449.6,279.9 450.0,278.6 450.5,277.2 450.9,275.6 451.4,273.9 451.9,272.0 452.3,270.1 452.8,268.2 453.2,266.3 453.7,264.7 454.1,263.2 454.6,262.3 455.1,261.8 455.5,261.8 456.0,262.2 456.4,262.9 456.9,263.8 457.3,265.0 457.8,266.4 458.3,267.8 458.7,269.3 459.2,270.8 459.6,272.3 460.1,273.7 460.5,275.1 461.0,276.4 461.4,277.6 461.9,278.7 462.4,279.7 462.8,280.7 463.3,281.5 463.7,282.3 464.2,283.0 464.6,283.7 465.1,284.3 465.6,284.9 466.0,285.4 466.5,285.9 466.9,286.3 467.4,286.7 467.8,287.1 468.3,287.4 468.8,287.7 469.2,288.0 469.7,288.3 470.1,288.5 470.6,288.8 471.0,289.0 471.5,289.2 472.0,289.4 472.4,289.5 472.9,289.7 473.3,289.9 473.8,290.0 474.2,290.1 474.7,290.3 475.2,290.4 475.6,290.5 476.1,290.6 476.5,290.7 477.0,290.8 477.4,290.9 477.9,291.0 478.4,291.0 478.8,291.1 479.3,291.2 479.7,291.3 480.2,291.3 480.6,291.4 481.1,291.4 481.6,291.5 482.0,291.5 482.5,291.6 482.9,291.6 483.4,291.7 483.8,291.7 484.3,291.8 484.7,291.8 485.2,291.9 485.7,291.9 486.1,291.9 486.6,292.0 487.0,292.0 487.5,292.0 487.9,292.1 488.4,292.1 488.9,292.1 489.3,292.1 489.8,292.2 490.2,292.2 490.7,292.2 491.1,292.2 491.6,292.3 492.1,292.3 492.5,292.3 493.0,292.3 493.4,292.3 493.9,292.4 494.3,292.4 494.8,292.4 495.3,292.4 495.7,292.4 496.2,292.4 496.6,292.5 497.1,292.5 497.5,292.5 498.0,292.5 498.5,292.5 498.9,292.5 499.4,292.5 499.8,292.6 500.3,292.6 500.3,295.2Z" fill="url(#g21)" fill-opacity="0.8"/>
<linearGradient id="g22" gradientUnits="userSpaceOnUse" x1="0" y1="319.46" x2="0" y2="282.48"><stop offset="0" stop-color="#76EA46"/><stop offset="0.4" stop-color="#A4E852"/><stop offset="0.62" stop-color="#E2D470"/><stop offset="0.82" stop-color="#F2A070"/><stop offset="1" stop-color="#F27E68"/></linearGradient>
<path d="M361.6,319.5 361.6,316.3 362.1,316.2 362.6,316.2 363.0,316.2 363.5,316.1 364.0,316.0 364.5,316.0 365.0,315.9 365.5,315.8 366.0,315.8 366.5,315.7 367.0,315.6 367.5,315.5 367.9,315.4 368.4,315.3 368.9,315.1 369.4,315.0 369.9,314.8 370.4,314.6 370.9,314.4 371.4,314.2 371.9,313.9 372.4,313.6 372.8,313.3 373.3,312.9 373.8,312.5 374.3,312.0 374.8,311.4 375.3,310.7 375.8,309.9 376.3,308.9 376.8,307.7 377.3,306.4 377.8,304.7 378.2,302.8 378.7,300.4 379.2,297.7 379.7,294.6 380.2,291.3 380.7,287.9 381.2,285.0 381.7,283.0 382.2,282.5 382.7,283.3 383.1,285.3 383.6,288.0 384.1,291.0 384.6,294.1 385.1,296.9 385.6,299.5 386.1,301.7 386.6,303.6 387.1,305.3 387.6,306.6 388.0,307.8 388.5,308.8 389.0,309.7 389.5,310.4 390.0,311.0 390.5,311.6 391.0,312.0 391.5,312.4 392.0,312.8 392.5,313.1 392.9,313.4 393.4,313.6 393.9,313.8 394.4,314.0 394.9,314.2 395.4,314.3 395.9,314.4 396.4,314.6 396.9,314.7 397.4,314.7 397.8,314.8 398.3,314.9 398.8,314.9 399.3,315.0 399.8,315.0 400.3,315.1 400.8,315.1 401.3,315.1 401.8,315.1 402.3,315.1 402.8,315.1 403.2,315.1 403.7,315.1 404.2,315.1 404.7,315.1 405.2,315.1 405.7,315.0 406.2,315.0 406.7,315.0 407.2,314.9 407.7,314.8 408.1,314.8 408.6,314.7 409.1,314.6 409.6,314.5 410.1,314.4 410.6,314.3 411.1,314.2 411.6,314.0 412.1,313.9 412.6,313.7 413.0,313.5 413.5,313.3 414.0,313.1 414.5,312.8 415.0,312.5 415.5,312.2 416.0,311.9 416.5,311.5 417.0,311.0 417.5,310.5 417.9,309.9 418.4,309.3 418.9,308.5 419.4,307.7 419.9,306.7 420.4,305.6 420.9,304.4 421.4,303.0 421.9,301.4 422.4,299.6 422.9,297.6 423.3,295.5 423.8,293.2 424.3,290.8 424.8,288.5 425.3,286.5 425.8,284.8 426.3,283.8 426.8,283.5 427.3,283.8 427.8,284.6 428.2,285.8 428.7,287.3 429.2,289.0 429.7,290.9 430.2,292.8 430.7,294.7 431.2,296.5 431.7,298.1 432.2,299.7 432.7,301.2 433.1,302.5 433.6,303.7 434.1,304.8 434.6,305.8 435.1,306.7 435.6,307.5 436.1,308.2 436.6,308.8 437.1,309.4 437.6,310.0 438.0,310.5 438.5,310.9 439.0,311.3 439.5,311.7 440.0,312.0 440.5,312.3 441.0,312.6 441.5,312.9 442.0,313.1 442.5,313.3 443.0,313.5 443.4,313.7 443.9,313.9 444.4,314.1 444.9,314.2 445.4,314.4 445.9,314.5 446.4,314.6 446.9,314.7 447.4,314.8 447.9,314.9 448.3,315.0 448.8,315.1 449.3,315.2 449.8,315.3 450.3,315.4 450.8,315.4 451.3,315.5 451.8,315.6 452.3,315.6 452.8,315.7 453.2,315.7 453.7,315.8 454.2,315.8 454.7,315.9 455.2,315.9 455.7,316.0 456.2,316.0 456.7,316.1 457.2,316.1 457.7,316.1 458.1,316.2 458.6,316.2 459.1,316.2 459.6,316.2 460.1,316.3 460.6,316.3 461.1,316.3 461.6,316.4 462.1,316.4 462.6,316.4 463.1,316.4 463.5,316.4 464.0,316.5 464.5,316.5 465.0,316.5 465.5,316.5 466.0,316.5 466.5,316.6 467.0,316.6 467.5,316.6 468.0,316.6 468.4,316.6 468.9,316.6 469.4,316.6 469.9,316.7 470.4,316.7 470.9,316.7 471.4,316.7 471.9,316.7 472.4,316.7 472.9,316.7 473.3,316.7 473.8,316.8 474.3,316.8 474.8,316.8 475.3,316.8 475.8,316.8 476.3,316.8 476.8,316.8 477.3,316.8 477.8,316.8 478.2,316.8 478.7,316.8 479.2,316.9 479.7,316.9 480.2,316.9 480.7,316.9 481.2,316.9 481.7,316.9 482.2,316.9 482.7,316.9 483.1,316.9 483.6,316.9 484.1,316.9 484.6,316.9 485.1,316.9 485.6,316.9 486.1,316.9 486.6,316.9 487.1,316.9 487.6,317.0 488.1,317.0 488.5,317.0 488.5,319.5Z" fill="url(#g22)" fill-opacity="0.8"/>
<linearGradient id="g23" gradientUnits="userSpaceOnUse" x1="0" y1="347.62" x2="0" y2="307.67"><stop offset="0" stop-color="#76EA46"/><stop offset="0.4" stop-color="#A4E852"/><stop offset="0.62" stop-color="#E2D470"/><stop offset="0.82" stop-color="#F2A070"/><stop offset="1" stop-color="#F27E68"/></linearGradient>
<path d="M337.9,347.6 337.9,344.2 338.4,344.2 339.0,344.1 339.5,344.0 340.0,344.0 340.6,343.9 341.1,343.9 341.6,343.8 342.1,343.7 342.7,343.6 343.2,343.5 343.7,343.4 344.3,343.3 344.8,343.2 345.3,343.1 345.8,342.9 346.4,342.8 346.9,342.6 347.4,342.4 348.0,342.2 348.5,341.9 349.0,341.6 349.5,341.3 350.1,341.0 350.6,340.5 351.1,340.1 351.7,339.5 352.2,338.9 352.7,338.1 353.2,337.2 353.8,336.2 354.3,334.9 354.8,333.5 355.4,331.7 355.9,329.6 356.4,327.0 357.0,324.1 357.5,320.8 358.0,317.2 358.5,313.5 359.1,310.4 359.6,308.3 360.1,307.7 360.7,308.6 361.2,310.7 361.7,313.6 362.2,316.9 362.8,320.1 363.3,323.2 363.8,326.0 364.4,328.4 364.9,330.4 365.4,332.2 365.9,333.7 366.5,335.0 367.0,336.0 367.5,336.9 368.1,337.7 368.6,338.4 369.1,338.9 369.6,339.4 370.2,339.9 370.7,340.2 371.2,340.6 371.8,340.8 372.3,341.1 372.8,341.3 373.3,341.5 373.9,341.6 374.4,341.8 374.9,341.9 375.5,342.0 376.0,342.1 376.5,342.1 377.1,342.2 377.6,342.2 378.1,342.2 378.6,342.3 379.2,342.3 379.7,342.2 380.2,342.2 380.8,342.2 381.3,342.1 381.8,342.1 382.3,342.0 382.9,341.9 383.4,341.8 383.9,341.7 384.5,341.5 385.0,341.3 385.5,341.1 386.0,340.9 386.6,340.7 387.1,340.4 387.6,340.1 388.2,339.7 388.7,339.3 389.2,338.8 389.7,338.2 390.3,337.6 390.8,336.8 391.3,335.9 391.9,334.9 392.4,333.8 392.9,332.4 393.5,330.8 394.0,329.0 394.5,326.8 395.0,324.4 395.6,321.7 396.1,318.9 396.6,315.9 397.2,313.1 397.7,310.7 398.2,309.2 398.7,308.7 399.3,309.1 399.8,310.3 400.3,312.0 400.9,314.2 401.4,316.6 401.9,319.1 402.4,321.5 403.0,323.8 403.5,325.9 404.0,327.8 404.6,329.5 405.1,331.0 405.6,332.4 406.1,333.6 406.7,334.6 407.2,335.6 407.7,336.4 408.3,337.1 408.8,337.8 409.3,338.4 409.8,338.9 410.4,339.3 410.9,339.8 411.4,340.1 412.0,340.5 412.5,340.8 413.0,341.1 413.6,341.3 414.1,341.6 414.6,341.8 415.1,342.0 415.7,342.1 416.2,342.3 416.7,342.5 417.3,342.6 417.8,342.7 418.3,342.9 418.8,343.0 419.4,343.1 419.9,343.2 420.4,343.3 421.0,343.3 421.5,343.4 422.0,343.5 422.5,343.6 423.1,343.6 423.6,343.7 424.1,343.8 424.7,343.8 425.2,343.9 425.7,343.9 426.2,344.0 426.8,344.0 427.3,344.0 427.8,344.1 428.4,344.1 428.9,344.2 429.4,344.2 430.0,344.2 430.5,344.3 431.0,344.3 431.5,344.3 432.1,344.3 432.6,344.4 433.1,344.4 433.7,344.4 434.2,344.4 434.7,344.5 435.2,344.5 435.8,344.5 436.3,344.5 436.8,344.5 437.4,344.6 437.9,344.6 438.4,344.6 438.9,344.6 439.5,344.6 440.0,344.6 440.5,344.7 441.1,344.7 441.6,344.7 442.1,344.7 442.6,344.7 443.2,344.7 443.7,344.7 444.2,344.7 444.8,344.8 445.3,344.8 445.8,344.8 446.3,344.8 446.9,344.8 447.4,344.8 447.9,344.8 448.5,344.8 449.0,344.8 449.5,344.8 450.1,344.8 450.6,344.9 451.1,344.9 451.6,344.9 452.2,344.9 452.7,344.9 453.2,344.9 453.8,344.9 454.3,344.9 454.8,344.9 455.3,344.9 455.9,344.9 456.4,344.9 456.9,344.9 457.5,344.9 458.0,344.9 458.5,345.0 459.0,345.0 459.6,345.0 460.1,345.0 460.6,345.0 461.2,345.0 461.7,345.0 462.2,345.0 462.7,345.0 463.3,345.0 463.8,345.0 464.3,345.0 464.9,345.0 465.4,345.0 465.9,345.0 466.5,345.0 467.0,345.0 467.5,345.0 468.0,345.0 468.6,345.0 469.1,345.0 469.6,345.0 470.2,345.0 470.7,345.0 471.2,345.0 471.7,345.0 472.3,345.1 472.8,345.1 473.3,345.1 473.9,345.1 474.4,345.1 474.9,345.1 474.9,347.6Z" fill="url(#g23)" fill-opacity="0.8"/>
<linearGradient id="g24" gradientUnits="userSpaceOnUse" x1="0" y1="380.70" x2="0" y2="337.34"><stop offset="0" stop-color="#76EA46"/><stop offset="0.4" stop-color="#A4E852"/><stop offset="0.62" stop-color="#E2D470"/><stop offset="0.82" stop-color="#F2A070"/><stop offset="1" stop-color="#F27E68"/></linearGradient>
<path d="M310.1,380.7 310.1,377.0 310.7,377.0 311.2,376.9 311.8,376.9 312.4,376.8 313.0,376.7 313.5,376.7 314.1,376.6 314.7,376.5 315.3,376.4 315.8,376.3 316.4,376.2 317.0,376.1 317.6,375.9 318.1,375.8 318.7,375.6 319.3,375.5 319.9,375.3 320.4,375.1 321.0,374.8 321.6,374.5 322.2,374.2 322.7,373.9 323.3,373.5 323.9,373.0 324.5,372.5 325.0,371.9 325.6,371.2 326.2,370.4 326.8,369.5 327.3,368.3 327.9,367.0 328.5,365.3 329.1,363.4 329.6,361.1 330.2,358.4 330.8,355.2 331.4,351.6 331.9,347.6 332.5,343.7 333.1,340.3 333.7,338.0 334.2,337.3 334.8,338.3 335.4,340.6 336.0,343.8 336.5,347.3 337.1,350.9 337.7,354.2 338.3,357.2 338.8,359.8 339.4,362.0 340.0,363.9 340.5,365.5 341.1,366.9 341.7,368.1 342.3,369.0 342.8,369.9 343.4,370.6 344.0,371.2 344.6,371.7 345.1,372.2 345.7,372.6 346.3,372.9 346.9,373.2 347.4,373.4 348.0,373.6 348.6,373.8 349.2,374.0 349.7,374.1 350.3,374.2 350.9,374.2 351.5,374.3 352.0,374.3 352.6,374.3 353.2,374.3 353.8,374.3 354.3,374.2 354.9,374.1 355.5,374.0 356.1,373.9 356.6,373.7 357.2,373.5 357.8,373.2 358.4,372.9 358.9,372.6 359.5,372.2 360.1,371.7 360.7,371.1 361.2,370.4 361.8,369.6 362.4,368.7 363.0,367.5 363.5,366.1 364.1,364.5 364.7,362.5 365.3,360.1 365.8,357.3 366.4,354.0 367.0,350.3 367.6,346.5 368.1,342.8 368.7,339.9 369.3,338.4 369.8,338.5 370.4,340.0 371.0,342.4 371.6,345.6 372.1,348.9 372.7,352.3 373.3,355.4 373.9,358.1 374.4,360.6 375.0,362.7 375.6,364.5 376.2,366.0 376.7,367.3 377.3,368.5 377.9,369.5 378.5,370.3 379.0,371.0 379.6,371.7 380.2,372.2 380.8,372.7 381.3,373.2 381.9,373.5 382.5,373.9 383.1,374.2 383.6,374.5 384.2,374.7 384.8,374.9 385.4,375.1 385.9,375.3 386.5,375.5 387.1,375.6 387.7,375.8 388.2,375.9 388.8,376.0 389.4,376.1 390.0,376.2 390.5,376.3 391.1,376.4 391.7,376.5 392.3,376.6 392.8,376.6 393.4,376.7 394.0,376.7 394.6,376.8 395.1,376.9 395.7,376.9 396.3,377.0 396.9,377.0 397.4,377.0 398.0,377.1 398.6,377.1 399.2,377.2 399.7,377.2 400.3,377.2 400.9,377.2 401.4,377.3 402.0,377.3 402.6,377.3 403.2,377.4 403.7,377.4 404.3,377.4 404.9,377.4 405.5,377.4 406.0,377.5 406.6,377.5 407.2,377.5 407.8,377.5 408.3,377.5 408.9,377.5 409.5,377.6 410.1,377.6 410.6,377.6 411.2,377.6 411.8,377.6 412.4,377.6 412.9,377.6 413.5,377.7 414.1,377.7 414.7,377.7 415.2,377.7 415.8,377.7 416.4,377.7 417.0,377.7 417.5,377.7 418.1,377.7 418.7,377.7 419.3,377.8 419.8,377.8 420.4,377.8 421.0,377.8 421.6,377.8 422.1,377.8 422.7,377.8 423.3,377.8 423.9,377.8 424.4,377.8 425.0,377.8 425.6,377.8 426.2,377.8 426.7,377.8 427.3,377.8 427.9,377.8 428.5,377.9 429.0,377.9 429.6,377.9 430.2,377.9 430.7,377.9 431.3,377.9 431.9,377.9 432.5,377.9 433.0,377.9 433.6,377.9 434.2,377.9 434.8,377.9 435.3,377.9 435.9,377.9 436.5,377.9 437.1,377.9 437.6,377.9 438.2,377.9 438.8,377.9 439.4,377.9 439.9,377.9 440.5,377.9 441.1,377.9 441.7,377.9 442.2,377.9 442.8,377.9 443.4,378.0 444.0,378.0 444.5,378.0 445.1,378.0 445.7,378.0 446.3,378.0 446.8,378.0 447.4,378.0 448.0,378.0 448.6,378.0 449.1,378.0 449.7,378.0 450.3,378.0 450.9,378.0 451.4,378.0 452.0,378.0 452.6,378.0 453.2,378.0 453.7,378.0 454.3,378.0 454.9,378.0 455.5,378.0 456.0,378.0 456.6,378.0 457.2,378.0 457.8,378.0 458.3,378.0 458.9,378.0 458.9,380.7Z" fill="url(#g24)" fill-opacity="0.8"/>
<line x1="310.10" y1="380.70" x2="458.90" y2="380.70" stroke="#1a1a1a" stroke-width="1.1" />
<line x1="310.10" y1="381.20" x2="310.10" y2="334.70" stroke="#1a1a1a" stroke-width="1.1" />
<line x1="458.90" y1="380.70" x2="510.50" y2="274.10" stroke="#1a1a1a" stroke-width="1.0" />
<line x1="310.10" y1="380.70" x2="310.10" y2="378.90" stroke="#1a1a1a" stroke-width="0.8" />
<line x1="321.55" y1="380.70" x2="321.55" y2="378.90" stroke="#1a1a1a" stroke-width="0.8" />
<line x1="332.99" y1="380.70" x2="332.99" y2="378.90" stroke="#1a1a1a" stroke-width="0.8" />
<line x1="344.44" y1="380.70" x2="344.44" y2="378.90" stroke="#1a1a1a" stroke-width="0.8" />
<line x1="355.88" y1="380.70" x2="355.88" y2="378.90" stroke="#1a1a1a" stroke-width="0.8" />
<line x1="367.33" y1="380.70" x2="367.33" y2="378.90" stroke="#1a1a1a" stroke-width="0.8" />
<line x1="378.78" y1="380.70" x2="378.78" y2="378.90" stroke="#1a1a1a" stroke-width="0.8" />
<line x1="390.22" y1="380.70" x2="390.22" y2="378.90" stroke="#1a1a1a" stroke-width="0.8" />
<line x1="401.67" y1="380.70" x2="401.67" y2="378.90" stroke="#1a1a1a" stroke-width="0.8" />
<line x1="413.12" y1="380.70" x2="413.12" y2="378.90" stroke="#1a1a1a" stroke-width="0.8" />
<line x1="424.56" y1="380.70" x2="424.56" y2="378.90" stroke="#1a1a1a" stroke-width="0.8" />
<line x1="436.01" y1="380.70" x2="436.01" y2="378.90" stroke="#1a1a1a" stroke-width="0.8" />
<line x1="447.45" y1="380.70" x2="447.45" y2="378.90" stroke="#1a1a1a" stroke-width="0.8" />
<line x1="458.90" y1="380.70" x2="458.90" y2="378.90" stroke="#1a1a1a" stroke-width="0.8" />
<line x1="310.10" y1="370.48" x2="311.90" y2="370.48" stroke="#1a1a1a" stroke-width="0.8" />
<line x1="310.10" y1="360.26" x2="311.90" y2="360.26" stroke="#1a1a1a" stroke-width="0.8" />
<line x1="310.10" y1="350.03" x2="311.90" y2="350.03" stroke="#1a1a1a" stroke-width="0.8" />
<line x1="310.10" y1="339.81" x2="311.90" y2="339.81" stroke="#1a1a1a" stroke-width="0.8" />
<line x1="333" y1="338" x2="415.33" y2="246.10" stroke="#F5B51A" stroke-width="1.8"/>
<path d="M419.00,242.00 L416.90,248.84 L412.43,244.84 Z" fill="#F5B51A"/>
<line x1="368" y1="341" x2="478.89" y2="242.65" stroke="#18A5E0" stroke-width="1.8"/>
<path d="M483.00,239.00 L480.13,245.56 L476.15,241.07 Z" fill="#18A5E0"/>
<text x="344.44" y="395.50" font-size="13.4" text-anchor="middle" fill="#000" stroke="#000" stroke-width="0.2" >3.6</text>
<text x="390.22" y="395.50" font-size="13.4" text-anchor="middle" fill="#000" stroke="#000" stroke-width="0.2" >4.0</text>
<text x="436.01" y="395.50" font-size="13.4" text-anchor="middle" fill="#000" stroke="#000" stroke-width="0.2" >4.4</text>
<text x="308.10" y="374.98" font-size="13.4" text-anchor="end" fill="#000" stroke="#000" stroke-width="0.2" >0.2</text>
<text x="308.10" y="354.53" font-size="13.4" text-anchor="end" fill="#000" stroke="#000" stroke-width="0.2" >0.6</text>
<text x="460.70" y="384.90" font-size="12.40" text-anchor="start" fill="#000" stroke="#000" stroke-width="0.2" >0.00</text>
<text x="476.71" y="351.82" font-size="11.71" text-anchor="start" fill="#000" stroke="#000" stroke-width="0.2" >0.25</text>
<text x="490.34" y="323.66" font-size="11.12" text-anchor="start" fill="#000" stroke="#000" stroke-width="0.2" >0.50</text>
<text x="502.08" y="299.41" font-size="10.61" text-anchor="start" fill="#000" stroke="#000" stroke-width="0.2" >0.75</text>
<text x="512.30" y="278.30" font-size="10.17" text-anchor="start" fill="#000" stroke="#000" stroke-width="0.2" >1.00</text>
<text x="390.50" y="405.70" font-size="13" text-anchor="middle" fill="#000" stroke="#000" stroke-width="0.2" >Wavelength(&#956;m)</text>
<text x="287.50" y="357.70" font-size="13" text-anchor="middle" fill="#000" stroke="#000" stroke-width="0.2" transform="rotate(-90.00 287.50 357.70)" >Reflectance</text>
<text font-size="13.7" stroke="#000" stroke-width="0.2" text-anchor="middle" transform="translate(517.78,338.97) rotate(-64.17)">Crystalline Fraction</text>
<text x="315.00" y="363.00" font-size="14" text-anchor="start" fill="#F5B51A" stroke="#F5B51A" stroke-width="0.2" font-weight="bold" >CH A</text>
<text x="358.00" y="363.00" font-size="14" text-anchor="start" fill="#18A5E0" stroke="#18A5E0" stroke-width="0.2" font-weight="bold" >CH B</text>
<line x1="156.21" y1="459.00" x2="156.21" y2="423.40" stroke="#e9e9e9" stroke-width="0.7" />
<line x1="69.88" y1="570.50" x2="156.21" y2="459.00" stroke="#ececec" stroke-width="0.7" />
<line x1="188.50" y1="459.00" x2="188.50" y2="423.40" stroke="#e9e9e9" stroke-width="0.7" />
<line x1="114.25" y1="570.50" x2="188.50" y2="459.00" stroke="#ececec" stroke-width="0.7" />
<line x1="220.79" y1="459.00" x2="220.79" y2="423.40" stroke="#e9e9e9" stroke-width="0.7" />
<line x1="158.62" y1="570.50" x2="220.79" y2="459.00" stroke="#ececec" stroke-width="0.7" />
<line x1="132.00" y1="451.09" x2="245.00" y2="451.09" stroke="#e6e6e6" stroke-width="0.7" />
<line x1="36.60" y1="559.52" x2="132.00" y2="451.09" stroke="#ececec" stroke-width="0.7" />
<line x1="132.00" y1="435.27" x2="245.00" y2="435.27" stroke="#e6e6e6" stroke-width="0.7" />
<line x1="36.60" y1="537.57" x2="132.00" y2="435.27" stroke="#ececec" stroke-width="0.7" />
<line x1="56.88" y1="546.80" x2="56.88" y2="500.33" stroke="#f0f0f0" stroke-width="0.7" />
<line x1="75.04" y1="525.57" x2="75.04" y2="481.73" stroke="#f0f0f0" stroke-width="0.7" />
<line x1="91.40" y1="506.45" x2="91.40" y2="464.97" stroke="#f0f0f0" stroke-width="0.7" />
<line x1="106.22" y1="489.14" x2="106.22" y2="449.81" stroke="#f0f0f0" stroke-width="0.7" />
<line x1="119.69" y1="473.39" x2="119.69" y2="436.01" stroke="#f0f0f0" stroke-width="0.7" />
<path d="M132.00,459.00 L132.00,423.40 L245.00,423.40 L245.00,459.00" fill="none" stroke="#b4b4b4" stroke-width="0.9"/>
<line x1="132.00" y1="459.00" x2="245.00" y2="459.00" stroke="#b4b4b4" stroke-width="0.9" />
<line x1="36.60" y1="521.10" x2="132.00" y2="423.40" stroke="#8c8c8c" stroke-width="0.9" />
<line x1="36.60" y1="570.50" x2="132.00" y2="459.00" stroke="#8c8c8c" stroke-width="0.9" />
<linearGradient id="g25" gradientUnits="userSpaceOnUse" x1="0" y1="459.00" x2="0" y2="447.06"><stop offset="0" stop-color="#76EA46"/><stop offset="0.4" stop-color="#A4E852"/><stop offset="0.62" stop-color="#E2D470"/><stop offset="0.82" stop-color="#F2A070"/><stop offset="1" stop-color="#F27E68"/></linearGradient>
<path d="M132.0,459.0 132.0,456.9 132.4,456.9 132.9,457.0 133.3,457.1 133.7,457.3 134.2,457.2 134.6,456.9 135.1,456.8 135.5,456.8 135.9,456.8 136.4,456.7 136.8,456.8 137.2,456.7 137.7,457.0 138.1,457.0 138.5,456.9 139.0,456.9 139.4,456.8 139.9,456.6 140.3,456.5 140.7,456.6 141.2,456.6 141.6,456.6 142.0,456.4 142.5,456.4 142.9,456.6 143.3,456.5 143.8,456.5 144.2,456.5 144.7,456.5 145.1,456.6 145.5,456.6 146.0,456.5 146.4,456.8 146.8,456.6 147.3,456.7 147.7,456.9 148.1,456.9 148.6,456.8 149.0,456.9 149.5,456.7 149.9,456.6 150.3,456.2 150.8,455.3 151.2,454.2 151.6,452.7 152.1,450.7 152.5,448.7 152.9,447.5 153.4,447.1 153.8,447.8 154.3,449.4 154.7,451.3 155.1,453.2 155.6,454.7 156.0,455.4 156.4,455.9 156.9,456.3 157.3,456.4 157.7,456.4 158.2,456.3 158.6,456.2 159.1,456.3 159.5,456.1 159.9,455.5 160.4,454.9 160.8,453.6 161.2,452.3 161.7,451.6 162.1,451.7 162.5,452.4 163.0,452.5 163.4,451.6 163.8,450.5 164.3,450.0 164.7,450.3 165.2,451.5 165.6,452.4 166.0,453.2 166.5,453.4 166.9,453.4 167.3,453.2 167.8,452.9 168.2,452.5 168.6,452.4 169.1,452.0 169.5,451.8 170.0,451.5 170.4,451.1 170.8,450.6 171.3,450.0 171.7,449.6 172.1,449.5 172.6,449.0 173.0,448.6 173.4,448.3 173.9,448.3 174.3,448.3 174.8,448.3 175.2,448.2 175.6,448.3 176.1,448.6 176.5,448.8 176.9,449.0 177.4,449.2 177.8,449.4 178.2,449.4 178.7,449.6 179.1,449.7 179.6,450.1 180.0,450.4 180.4,450.8 180.9,451.0 181.3,451.7 181.7,451.9 182.2,452.2 182.6,452.4 183.0,452.6 183.5,452.8 183.9,453.1 184.4,453.0 184.8,453.1 185.2,453.4 185.7,453.4 186.1,453.4 186.5,453.3 187.0,453.4 187.4,453.4 187.8,453.8 188.3,453.9 188.7,454.2 189.2,454.2 189.6,454.4 190.0,454.5 190.5,454.8 190.9,454.7 191.3,454.8 191.8,454.9 192.2,455.1 192.6,455.0 193.1,455.0 193.5,455.1 194.0,455.3 194.4,455.4 194.8,455.3 195.3,455.3 195.7,455.6 196.1,455.6 196.6,455.5 197.0,455.5 197.4,455.5 197.9,455.6 198.3,455.7 198.8,455.8 199.2,455.9 199.6,456.0 200.1,456.1 200.5,455.9 200.9,455.9 201.4,455.9 201.8,455.8 202.2,455.7 202.7,455.5 203.1,455.7 203.6,455.7 204.0,455.7 204.4,455.6 204.9,455.6 205.3,455.6 205.7,455.7 206.2,455.5 206.6,455.4 207.0,455.3 207.5,455.4 207.9,455.3 208.4,455.5 208.8,455.4 209.2,455.2 209.7,455.2 210.1,455.1 210.5,455.1 211.0,455.1 211.4,455.0 211.8,455.2 212.3,455.2 212.7,455.3 213.2,455.1 213.6,455.0 214.0,454.9 214.5,454.9 214.9,454.8 215.3,454.8 215.8,454.8 216.2,454.8 216.6,454.5 217.1,454.4 217.5,454.0 217.9,453.6 218.4,453.3 218.8,452.9 219.3,452.6 219.7,452.5 220.1,452.1 220.6,452.0 221.0,451.7 221.4,451.3 221.9,450.8 222.3,450.3 222.7,449.8 223.2,449.5 223.6,449.1 224.1,448.9 224.5,448.8 224.9,448.9 225.4,448.9 225.8,449.0 226.2,449.1 226.7,449.4 227.1,449.6 227.5,449.9 228.0,450.0 228.4,450.0 228.9,450.4 229.3,450.6 229.7,450.7 230.2,451.0 230.6,451.1 231.0,451.5 231.5,452.0 231.9,452.1 232.3,452.4 232.8,452.6 233.2,452.8 233.7,453.0 234.1,453.1 234.5,453.2 235.0,453.4 235.4,453.6 235.8,453.8 236.3,453.7 236.7,453.9 237.1,454.2 237.6,454.3 238.0,454.3 238.5,454.2 238.9,454.3 239.3,454.6 239.8,454.6 240.2,454.6 240.6,454.4 241.1,454.6 241.5,454.8 241.9,454.8 242.4,454.9 242.8,455.1 243.3,455.0 243.7,455.2 244.1,455.3 244.6,455.4 245.0,455.4 245.0,459.0Z" fill="url(#g25)" fill-opacity="0.8"/>
<linearGradient id="g26" gradientUnits="userSpaceOnUse" x1="0" y1="473.39" x2="0" y2="457.38"><stop offset="0" stop-color="#76EA46"/><stop offset="0.4" stop-color="#A4E852"/><stop offset="0.62" stop-color="#E2D470"/><stop offset="0.82" stop-color="#F2A070"/><stop offset="1" stop-color="#F27E68"/></linearGradient>
<path d="M119.7,473.4 119.7,471.0 120.1,470.9 120.6,470.8 121.1,470.9 121.5,470.7 122.0,470.7 122.4,470.8 122.9,470.8 123.3,470.8 123.8,470.5 124.3,470.2 124.7,469.3 125.2,468.0 125.6,466.5 126.1,466.1 126.6,466.9 127.0,468.5 127.5,469.9 127.9,470.5 128.4,470.7 128.8,471.0 129.3,470.8 129.8,471.0 130.2,471.1 130.7,470.9 131.1,471.1 131.6,470.9 132.0,470.9 132.5,470.8 133.0,470.7 133.4,470.8 133.9,471.0 134.3,470.9 134.8,471.2 135.2,471.3 135.7,471.3 136.2,471.4 136.6,471.3 137.1,471.3 137.5,471.2 138.0,471.1 138.4,470.7 138.9,470.2 139.4,469.3 139.8,467.6 140.3,465.0 140.7,461.6 141.2,458.5 141.6,457.4 142.1,458.3 142.6,460.5 143.0,463.0 143.5,465.2 143.9,467.2 144.4,468.8 144.8,469.8 145.3,470.4 145.8,470.7 146.2,470.8 146.7,470.7 147.1,470.7 147.6,470.2 148.0,469.9 148.5,469.9 149.0,469.6 149.4,469.4 149.9,469.5 150.3,469.3 150.8,469.5 151.2,469.7 151.7,469.3 152.2,468.7 152.6,467.3 153.1,465.9 153.5,465.3 154.0,465.2 154.5,466.0 154.9,467.1 155.4,467.4 155.8,467.6 156.3,467.4 156.7,466.9 157.2,466.7 157.7,466.3 158.1,465.8 158.6,465.4 159.0,464.7 159.5,464.2 159.9,463.7 160.4,463.1 160.9,462.5 161.3,462.0 161.8,461.5 162.2,461.1 162.7,460.8 163.1,460.4 163.6,460.6 164.1,460.7 164.5,460.6 165.0,460.8 165.4,461.2 165.9,461.5 166.3,461.6 166.8,461.7 167.3,462.0 167.7,462.4 168.2,462.7 168.6,462.9 169.1,463.2 169.5,463.5 170.0,463.8 170.5,464.0 170.9,464.5 171.4,464.8 171.8,465.1 172.3,465.4 172.7,465.7 173.2,466.0 173.7,466.1 174.1,466.2 174.6,466.4 175.0,466.9 175.5,467.0 175.9,467.2 176.4,467.4 176.9,467.7 177.3,467.9 177.8,468.1 178.2,468.2 178.7,468.2 179.1,468.4 179.6,468.5 180.1,468.8 180.5,468.9 181.0,468.8 181.4,468.8 181.9,469.1 182.3,469.0 182.8,468.9 183.3,468.8 183.7,468.7 184.2,468.8 184.6,468.9 185.1,468.8 185.6,469.0 186.0,469.1 186.5,469.2 186.9,469.1 187.4,469.5 187.8,469.5 188.3,469.5 188.8,469.5 189.2,469.6 189.7,469.6 190.1,469.8 190.6,469.6 191.0,469.7 191.5,469.7 192.0,469.6 192.4,469.7 192.9,469.7 193.3,469.8 193.8,469.6 194.2,469.7 194.7,470.0 195.2,470.1 195.6,470.2 196.1,470.2 196.5,470.2 197.0,470.3 197.4,470.3 197.9,470.1 198.4,470.2 198.8,470.1 199.3,470.1 199.7,470.2 200.2,470.2 200.6,470.1 201.1,470.2 201.6,470.1 202.0,470.0 202.5,469.9 202.9,469.7 203.4,469.6 203.8,469.6 204.3,469.5 204.8,469.4 205.2,469.2 205.7,469.0 206.1,468.8 206.6,468.8 207.0,468.6 207.5,468.3 208.0,468.2 208.4,468.0 208.9,467.8 209.3,467.8 209.8,467.5 210.2,467.2 210.7,466.8 211.2,466.2 211.6,465.9 212.1,465.5 212.5,465.2 213.0,464.6 213.5,464.1 213.9,463.8 214.4,463.4 214.8,463.0 215.3,462.5 215.7,461.8 216.2,461.6 216.7,461.3 217.1,461.1 217.6,461.3 218.0,461.4 218.5,461.5 218.9,461.7 219.4,462.0 219.9,462.3 220.3,462.7 220.8,463.0 221.2,463.1 221.7,463.4 222.1,463.6 222.6,463.7 223.1,464.0 223.5,464.2 224.0,464.4 224.4,464.7 224.9,465.1 225.3,465.5 225.8,465.9 226.3,466.1 226.7,466.4 227.2,466.7 227.6,466.9 228.1,466.9 228.5,467.1 229.0,467.3 229.5,467.6 229.9,467.8 230.4,468.0 230.8,468.2 231.3,468.5 231.7,468.4 232.2,468.5 232.7,468.7 233.1,468.8 233.6,468.8 234.0,469.0 234.5,469.2 234.9,469.4 235.4,469.4 235.9,469.5 236.3,469.6 236.8,469.8 237.2,469.8 237.7,469.8 238.1,469.8 238.1,473.4Z" fill="url(#g26)" fill-opacity="0.8"/>
<linearGradient id="g27" gradientUnits="userSpaceOnUse" x1="0" y1="489.14" x2="0" y2="471.96"><stop offset="0" stop-color="#76EA46"/><stop offset="0.4" stop-color="#A4E852"/><stop offset="0.62" stop-color="#E2D470"/><stop offset="0.82" stop-color="#F2A070"/><stop offset="1" stop-color="#F27E68"/></linearGradient>
<path d="M106.2,489.1 106.2,486.8 106.7,486.9 107.2,486.8 107.7,486.6 108.1,486.6 108.6,486.5 109.1,486.5 109.6,486.4 110.1,486.4 110.5,486.4 111.0,486.6 111.5,486.4 112.0,486.5 112.5,486.5 112.9,486.6 113.4,486.4 113.9,486.6 114.4,486.6 114.9,486.7 115.3,486.9 115.8,486.7 116.3,486.7 116.8,486.7 117.3,486.5 117.7,486.6 118.2,486.5 118.7,486.2 119.2,486.2 119.7,486.5 120.1,486.8 120.6,487.0 121.1,486.8 121.6,486.8 122.1,487.0 122.6,487.0 123.0,486.8 123.5,486.5 124.0,486.3 124.5,486.3 125.0,486.2 125.4,486.2 125.9,486.0 126.4,485.6 126.9,484.6 127.4,482.9 127.8,480.6 128.3,477.9 128.8,475.4 129.3,474.3 129.8,474.7 130.2,476.4 130.7,478.9 131.2,481.0 131.7,482.5 132.2,484.0 132.6,484.8 133.1,485.4 133.6,485.6 134.1,485.5 134.6,485.3 135.0,485.3 135.5,485.3 136.0,485.3 136.5,485.1 137.0,484.9 137.4,484.4 137.9,483.5 138.4,482.3 138.9,481.2 139.4,481.1 139.8,481.8 140.3,483.0 140.8,483.7 141.3,483.9 141.8,483.8 142.2,483.7 142.7,483.3 143.2,482.8 143.7,482.1 144.2,481.0 144.7,479.7 145.1,478.9 145.6,478.8 146.1,478.9 146.6,479.0 147.1,478.7 147.5,478.2 148.0,477.7 148.5,477.0 149.0,476.4 149.5,475.7 149.9,475.0 150.4,474.1 150.9,473.4 151.4,472.7 151.9,472.3 152.3,472.0 152.8,472.0 153.3,472.0 153.8,472.2 154.3,472.4 154.7,472.8 155.2,473.2 155.7,473.5 156.2,474.1 156.7,474.7 157.1,475.2 157.6,475.8 158.1,476.5 158.6,477.1 159.1,477.6 159.5,478.0 160.0,478.6 160.5,479.0 161.0,479.5 161.5,479.9 161.9,480.3 162.4,480.8 162.9,481.2 163.4,481.6 163.9,481.8 164.3,482.2 164.8,482.3 165.3,482.3 165.8,482.4 166.3,482.4 166.8,482.5 167.2,482.8 167.7,483.1 168.2,483.2 168.7,483.7 169.2,484.0 169.6,484.2 170.1,484.2 170.6,484.1 171.1,484.2 171.6,484.2 172.0,484.2 172.5,484.1 173.0,484.3 173.5,484.4 174.0,484.4 174.4,484.3 174.9,484.1 175.4,484.1 175.9,484.3 176.4,484.2 176.8,484.1 177.3,484.5 177.8,484.6 178.3,485.0 178.8,485.1 179.2,485.0 179.7,485.2 180.2,485.4 180.7,485.5 181.2,485.5 181.6,485.3 182.1,485.3 182.6,485.4 183.1,485.5 183.6,485.3 184.0,485.2 184.5,485.2 185.0,485.2 185.5,485.5 186.0,485.5 186.4,485.4 186.9,485.5 187.4,485.4 187.9,485.3 188.4,485.6 188.9,485.4 189.3,485.3 189.8,485.3 190.3,485.4 190.8,485.7 191.3,485.6 191.7,485.4 192.2,485.3 192.7,485.4 193.2,485.2 193.7,485.3 194.1,485.1 194.6,484.9 195.1,484.8 195.6,484.7 196.1,484.5 196.5,484.5 197.0,484.2 197.5,484.0 198.0,484.0 198.5,483.9 198.9,483.6 199.4,483.4 199.9,483.3 200.4,482.9 200.9,482.6 201.3,482.2 201.8,481.6 202.3,481.2 202.8,480.6 203.3,480.0 203.7,479.4 204.2,478.5 204.7,477.8 205.2,477.0 205.7,476.2 206.1,475.4 206.6,474.5 207.1,473.8 207.6,473.4 208.1,472.9 208.5,473.0 209.0,473.1 209.5,473.3 210.0,473.7 210.5,474.1 211.0,474.5 211.4,475.2 211.9,475.5 212.4,475.9 212.9,476.2 213.4,476.6 213.8,477.0 214.3,477.5 214.8,478.0 215.3,478.7 215.8,479.3 216.2,479.6 216.7,480.0 217.2,480.5 217.7,480.6 218.2,480.9 218.6,481.1 219.1,481.6 219.6,482.1 220.1,482.4 220.6,482.4 221.0,482.8 221.5,483.1 222.0,483.3 222.5,483.4 223.0,483.6 223.4,483.8 223.9,484.1 224.4,484.1 224.9,484.1 225.4,484.3 225.8,484.6 226.3,484.4 226.8,484.4 227.3,484.7 227.8,484.8 228.2,485.0 228.7,484.9 229.2,484.8 229.7,485.0 230.2,485.1 230.6,485.0 230.6,489.1Z" fill="url(#g27)" fill-opacity="0.8"/>
<linearGradient id="g28" gradientUnits="userSpaceOnUse" x1="0" y1="506.45" x2="0" y2="480.67"><stop offset="0" stop-color="#76EA46"/><stop offset="0.4" stop-color="#A4E852"/><stop offset="0.62" stop-color="#E2D470"/><stop offset="0.82" stop-color="#F2A070"/><stop offset="1" stop-color="#F27E68"/></linearGradient>
<path d="M91.4,506.4 91.4,504.0 91.9,504.0 92.4,504.0 92.9,504.0 93.4,503.8 93.9,503.7 94.4,503.6 94.9,503.6 95.5,503.6 96.0,503.4 96.5,503.5 97.0,503.5 97.5,503.5 98.0,503.6 98.5,503.8 99.0,503.8 99.5,504.0 100.0,503.9 100.5,504.1 101.0,503.9 101.5,503.6 102.0,503.5 102.5,503.4 103.0,503.2 103.5,503.0 104.0,502.8 104.6,503.1 105.1,503.1 105.6,503.1 106.1,503.4 106.6,503.5 107.1,503.8 107.6,503.5 108.1,502.8 108.6,501.4 109.1,499.6 109.6,498.6 110.1,499.0 110.6,500.1 111.1,501.2 111.6,500.8 112.1,499.6 112.6,498.3 113.2,497.7 113.7,497.8 114.2,497.7 114.7,496.5 115.2,495.1 115.7,493.9 116.2,493.5 116.7,494.1 117.2,495.7 117.7,497.6 118.2,499.7 118.7,501.1 119.2,502.0 119.7,502.4 120.2,502.7 120.7,502.7 121.2,502.7 121.8,502.5 122.3,502.4 122.8,502.3 123.3,502.3 123.8,501.9 124.3,501.6 124.8,501.6 125.3,501.7 125.8,501.5 126.3,501.2 126.8,500.9 127.3,500.8 127.8,500.6 128.3,500.3 128.8,499.4 129.3,498.4 129.8,497.1 130.4,496.0 130.9,495.4 131.4,495.5 131.9,495.8 132.4,496.1 132.9,496.0 133.4,495.5 133.9,494.4 134.4,493.4 134.9,492.4 135.4,491.4 135.9,490.1 136.4,488.5 136.9,487.2 137.4,486.0 137.9,484.6 138.4,483.1 138.9,482.0 139.5,481.1 140.0,480.9 140.5,480.7 141.0,480.8 141.5,481.1 142.0,481.8 142.5,482.3 143.0,483.2 143.5,484.1 144.0,485.2 144.5,486.3 145.0,487.3 145.5,488.4 146.0,489.4 146.5,490.2 147.0,491.0 147.5,491.7 148.1,492.4 148.6,493.1 149.1,493.6 149.6,494.3 150.1,494.7 150.6,495.2 151.1,495.6 151.6,496.0 152.1,496.5 152.6,496.9 153.1,497.3 153.6,498.0 154.1,498.6 154.6,499.1 155.1,499.2 155.6,499.4 156.1,499.8 156.7,500.0 157.2,499.8 157.7,500.0 158.2,500.1 158.7,500.5 159.2,500.6 159.7,500.7 160.2,500.7 160.7,500.7 161.2,500.6 161.7,500.8 162.2,500.6 162.7,500.7 163.2,500.7 163.7,500.8 164.2,501.0 164.7,501.2 165.2,501.1 165.8,501.4 166.3,501.4 166.8,501.7 167.3,501.6 167.8,501.7 168.3,501.6 168.8,501.7 169.3,501.9 169.8,502.0 170.3,502.0 170.8,502.2 171.3,502.1 171.8,502.2 172.3,502.2 172.8,502.3 173.3,502.1 173.8,501.9 174.4,501.7 174.9,501.9 175.4,501.9 175.9,501.7 176.4,501.5 176.9,501.7 177.4,501.8 177.9,501.7 178.4,501.7 178.9,501.5 179.4,501.7 179.9,501.9 180.4,501.7 180.9,501.7 181.4,501.8 181.9,501.6 182.4,501.6 183.0,501.5 183.5,501.4 184.0,501.3 184.5,501.1 185.0,500.8 185.5,500.8 186.0,500.8 186.5,500.6 187.0,500.4 187.5,500.3 188.0,500.1 188.5,500.0 189.0,499.5 189.5,499.1 190.0,498.6 190.5,498.1 191.0,497.5 191.6,497.0 192.1,496.4 192.6,496.1 193.1,495.2 193.6,494.4 194.1,493.6 194.6,492.8 195.1,491.4 195.6,489.7 196.1,488.3 196.6,487.0 197.1,485.5 197.6,484.4 198.1,483.2 198.6,482.8 199.1,482.7 199.6,482.6 200.1,482.9 200.7,483.4 201.2,483.9 201.7,484.7 202.2,485.6 202.7,486.4 203.2,487.5 203.7,488.4 204.2,489.2 204.7,490.2 205.2,491.0 205.7,491.6 206.2,492.5 206.7,493.1 207.2,493.9 207.7,494.8 208.2,495.3 208.7,496.0 209.3,496.5 209.8,496.9 210.3,497.5 210.8,497.8 211.3,497.8 211.8,498.0 212.3,498.2 212.8,498.5 213.3,498.9 213.8,499.1 214.3,499.2 214.8,499.6 215.3,499.9 215.8,500.3 216.3,500.6 216.8,501.0 217.3,501.2 217.9,501.2 218.4,501.2 218.9,501.5 219.4,501.7 219.9,501.5 220.4,501.4 220.9,501.6 221.4,501.8 221.9,502.0 222.4,502.0 222.4,506.4Z" fill="url(#g28)" fill-opacity="0.8"/>
<linearGradient id="g29" gradientUnits="userSpaceOnUse" x1="0" y1="525.57" x2="0" y2="490.95"><stop offset="0" stop-color="#76EA46"/><stop offset="0.4" stop-color="#A4E852"/><stop offset="0.62" stop-color="#E2D470"/><stop offset="0.82" stop-color="#F2A070"/><stop offset="1" stop-color="#F27E68"/></linearGradient>
<path d="M75.0,525.6 75.0,522.9 75.6,523.0 76.1,523.1 76.6,523.0 77.2,522.8 77.7,522.6 78.2,522.4 78.8,522.7 79.3,522.6 79.8,522.5 80.4,522.6 80.9,522.9 81.5,523.1 82.0,523.1 82.5,523.0 83.1,522.8 83.6,522.2 84.1,521.2 84.7,519.3 85.2,517.5 85.7,516.9 86.3,517.6 86.8,519.4 87.3,520.8 87.9,521.7 88.4,522.2 88.9,522.3 89.5,522.4 90.0,522.4 90.5,522.2 91.1,522.3 91.6,522.3 92.1,522.1 92.7,522.0 93.2,522.1 93.7,522.3 94.3,522.2 94.8,522.1 95.3,522.4 95.9,522.5 96.4,522.5 96.9,522.3 97.5,521.7 98.0,521.2 98.5,520.1 99.1,518.4 99.6,516.3 100.1,514.1 100.7,512.8 101.2,512.2 101.7,512.8 102.3,514.3 102.8,516.0 103.3,517.9 103.9,519.6 104.4,520.2 104.9,520.7 105.5,520.9 106.0,520.8 106.5,520.7 107.1,520.5 107.6,520.4 108.1,520.4 108.7,520.3 109.2,520.3 109.7,520.4 110.3,520.4 110.8,520.3 111.3,519.9 111.9,519.8 112.4,519.6 112.9,519.2 113.5,518.4 114.0,517.2 114.5,515.8 115.1,514.7 115.6,513.3 116.1,512.1 116.7,511.2 117.2,511.2 117.7,511.8 118.3,512.1 118.8,512.0 119.4,511.5 119.9,510.5 120.4,509.4 121.0,507.8 121.5,506.3 122.0,504.6 122.6,502.3 123.1,500.2 123.6,498.2 124.2,496.2 124.7,494.5 125.2,492.6 125.8,491.4 126.3,491.0 126.8,491.0 127.4,491.2 127.9,491.8 128.4,492.8 129.0,494.1 129.5,495.5 130.0,496.8 130.6,498.2 131.1,499.7 131.6,501.0 132.2,502.4 132.7,503.8 133.2,505.0 133.8,506.3 134.3,507.4 134.8,508.5 135.4,509.7 135.9,510.5 136.4,511.2 137.0,511.9 137.5,512.8 138.0,513.5 138.6,514.1 139.1,514.7 139.6,515.1 140.2,515.6 140.7,516.1 141.2,516.4 141.8,516.7 142.3,517.2 142.8,517.6 143.4,518.0 143.9,518.3 144.4,518.5 145.0,518.6 145.5,518.7 146.0,518.5 146.6,518.5 147.1,518.6 147.6,518.5 148.2,518.5 148.7,518.8 149.2,518.9 149.8,519.1 150.3,519.4 150.8,519.3 151.4,519.6 151.9,519.7 152.4,519.8 153.0,519.8 153.5,520.1 154.0,520.1 154.6,520.4 155.1,520.5 155.6,520.5 156.2,520.4 156.7,520.5 157.2,520.5 157.8,520.7 158.3,520.6 158.9,520.7 159.4,520.9 159.9,520.9 160.5,521.0 161.0,520.9 161.5,521.0 162.1,521.0 162.6,521.0 163.1,520.8 163.7,521.0 164.2,521.1 164.7,521.2 165.3,521.0 165.8,521.0 166.3,521.1 166.9,521.3 167.4,521.1 167.9,520.8 168.5,520.9 169.0,520.6 169.5,520.5 170.1,520.3 170.6,520.1 171.1,520.0 171.7,519.7 172.2,519.3 172.7,519.5 173.3,519.4 173.8,519.2 174.3,519.2 174.9,518.9 175.4,519.0 175.9,518.7 176.5,518.4 177.0,518.1 177.5,517.6 178.1,517.4 178.6,517.2 179.1,516.5 179.7,516.2 180.2,515.5 180.7,514.7 181.3,514.1 181.8,512.9 182.3,511.9 182.9,510.9 183.4,509.4 183.9,507.9 184.5,506.3 185.0,504.1 185.5,501.9 186.1,499.6 186.6,497.4 187.1,495.7 187.7,494.2 188.2,493.2 188.7,493.1 189.3,493.5 189.8,493.9 190.3,494.6 190.9,495.5 191.4,496.5 191.9,498.1 192.5,499.4 193.0,501.0 193.5,502.7 194.1,504.1 194.6,505.7 195.1,507.1 195.7,508.0 196.2,509.2 196.8,510.2 197.3,510.9 197.8,511.7 198.4,512.3 198.9,513.2 199.4,514.0 200.0,514.6 200.5,514.8 201.0,515.2 201.6,515.7 202.1,516.1 202.6,516.3 203.2,516.6 203.7,516.8 204.2,517.4 204.8,517.8 205.3,518.1 205.8,518.6 206.4,518.7 206.9,518.9 207.4,519.0 208.0,519.2 208.5,519.3 209.0,519.4 209.6,519.3 210.1,519.6 210.6,519.8 211.2,519.9 211.7,520.0 212.2,520.1 212.8,520.3 213.3,520.5 213.3,525.6Z" fill="url(#g29)" fill-opacity="0.8"/>
<linearGradient id="g30" gradientUnits="userSpaceOnUse" x1="0" y1="546.80" x2="0" y2="504.28"><stop offset="0" stop-color="#76EA46"/><stop offset="0.4" stop-color="#A4E852"/><stop offset="0.62" stop-color="#E2D470"/><stop offset="0.82" stop-color="#F2A070"/><stop offset="1" stop-color="#F27E68"/></linearGradient>
<path d="M56.9,546.8 56.9,543.9 57.4,543.9 58.0,543.8 58.6,543.9 59.1,543.9 59.7,544.0 60.3,543.8 60.8,543.6 61.4,543.5 62.0,543.7 62.5,543.6 63.1,543.6 63.7,543.7 64.2,543.7 64.8,543.7 65.4,543.6 65.9,543.6 66.5,543.6 67.0,543.6 67.6,543.5 68.2,543.5 68.7,543.5 69.3,543.6 69.9,543.7 70.4,543.7 71.0,544.0 71.6,543.8 72.1,543.8 72.7,543.8 73.3,543.9 73.8,543.8 74.4,543.7 75.0,543.3 75.5,543.5 76.1,543.4 76.7,543.4 77.2,543.3 77.8,543.2 78.3,543.3 78.9,543.4 79.5,543.2 80.0,543.1 80.6,542.7 81.2,542.0 81.7,541.0 82.3,539.3 82.9,537.0 83.4,534.0 84.0,530.9 84.6,528.0 85.1,526.9 85.7,528.3 86.3,531.6 86.8,535.8 87.4,539.0 88.0,540.7 88.5,541.8 89.1,542.0 89.6,541.7 90.2,541.6 90.8,541.4 91.3,541.2 91.9,541.2 92.5,541.1 93.0,540.9 93.6,541.2 94.2,540.9 94.7,540.9 95.3,540.9 95.9,540.5 96.4,540.3 97.0,540.2 97.6,539.5 98.1,539.5 98.7,539.0 99.2,538.6 99.8,538.3 100.4,537.6 100.9,536.8 101.5,536.1 102.1,535.1 102.6,534.0 103.2,532.9 103.8,531.6 104.3,530.1 104.9,528.5 105.5,526.7 106.0,524.8 106.6,522.5 107.2,519.8 107.7,517.0 108.3,514.4 108.9,511.6 109.4,509.0 110.0,506.7 110.5,505.0 111.1,504.3 111.7,504.4 112.2,505.2 112.8,506.1 113.4,507.5 113.9,509.5 114.5,511.5 115.1,513.6 115.6,515.6 116.2,517.7 116.8,519.9 117.3,521.7 117.9,523.5 118.5,525.3 119.0,527.0 119.6,528.6 120.1,529.9 120.7,530.9 121.3,531.9 121.8,532.6 122.4,533.3 123.0,534.0 123.5,534.4 124.1,534.7 124.7,535.1 125.2,536.0 125.8,536.4 126.4,537.1 126.9,537.4 127.5,537.9 128.1,538.4 128.6,538.8 129.2,538.8 129.8,539.0 130.3,539.1 130.9,539.4 131.4,539.7 132.0,539.9 132.6,540.1 133.1,540.3 133.7,540.4 134.3,540.6 134.8,540.8 135.4,540.8 136.0,540.8 136.5,541.1 137.1,541.6 137.7,541.8 138.2,541.9 138.8,541.7 139.4,541.8 139.9,542.0 140.5,541.9 141.1,541.5 141.6,541.7 142.2,541.5 142.7,541.7 143.3,541.6 143.9,541.4 144.4,541.5 145.0,541.6 145.6,541.5 146.1,541.5 146.7,541.6 147.3,541.5 147.8,541.6 148.4,541.5 149.0,541.7 149.5,541.7 150.1,541.8 150.7,541.7 151.2,541.8 151.8,541.9 152.3,542.0 152.9,541.8 153.5,541.8 154.0,541.8 154.6,541.7 155.2,541.6 155.7,541.8 156.3,541.7 156.9,541.7 157.4,541.4 158.0,541.3 158.6,541.2 159.1,541.3 159.7,540.9 160.3,540.7 160.8,540.6 161.4,540.5 162.0,540.1 162.5,540.1 163.1,539.6 163.6,539.4 164.2,539.1 164.8,538.6 165.3,538.3 165.9,537.9 166.5,537.4 167.0,537.1 167.6,536.4 168.2,535.6 168.7,535.1 169.3,534.1 169.9,533.1 170.4,531.6 171.0,530.1 171.6,528.4 172.1,526.3 172.7,524.2 173.2,521.9 173.8,519.1 174.4,516.2 174.9,513.3 175.5,510.7 176.1,508.8 176.6,507.5 177.2,507.0 177.8,507.8 178.3,508.8 178.9,510.3 179.5,512.0 180.0,513.6 180.6,515.2 181.2,517.4 181.7,519.1 182.3,521.3 182.9,523.1 183.4,524.8 184.0,526.4 184.5,528.1 185.1,529.3 185.7,530.6 186.2,531.7 186.8,532.6 187.4,533.3 187.9,534.3 188.5,534.9 189.1,535.5 189.6,536.1 190.2,536.4 190.8,536.7 191.3,537.1 191.9,537.3 192.5,537.8 193.0,538.3 193.6,538.6 194.2,539.1 194.7,539.7 195.3,540.0 195.8,540.2 196.4,540.4 197.0,540.4 197.5,540.7 198.1,540.8 198.7,540.9 199.2,541.4 199.8,541.7 200.4,541.7 200.9,542.0 201.5,542.0 202.1,542.1 202.6,542.0 203.2,542.0 203.2,546.8Z" fill="url(#g30)" fill-opacity="0.8"/>
<linearGradient id="g31" gradientUnits="userSpaceOnUse" x1="0" y1="570.50" x2="0" y2="521.70"><stop offset="0" stop-color="#76EA46"/><stop offset="0.4" stop-color="#A4E852"/><stop offset="0.62" stop-color="#E2D470"/><stop offset="0.82" stop-color="#F2A070"/><stop offset="1" stop-color="#F27E68"/></linearGradient>
<path d="M36.6,570.5 36.6,567.3 37.2,567.1 37.8,567.1 38.4,567.2 39.0,567.3 39.6,567.3 40.2,567.2 40.8,567.1 41.4,567.5 42.0,567.3 42.6,566.6 43.2,565.3 43.8,563.7 44.4,562.8 45.0,563.3 45.6,564.4 46.2,566.0 46.8,567.1 47.4,567.5 48.0,567.5 48.6,567.7 49.2,567.7 49.8,567.6 50.4,567.4 51.0,567.2 51.6,567.1 52.2,567.1 52.8,566.8 53.4,566.5 54.0,566.5 54.6,566.3 55.2,566.4 55.8,566.2 56.4,566.1 57.0,566.1 57.6,566.2 58.2,566.1 58.8,566.0 59.4,565.7 60.0,565.8 60.6,565.6 61.2,565.5 61.8,565.2 62.4,564.7 63.0,563.7 63.6,562.5 64.2,560.6 64.8,559.0 65.4,557.6 66.0,557.1 66.6,557.7 67.2,559.2 67.8,561.0 68.4,562.9 69.0,564.1 69.6,565.0 70.2,565.5 70.8,565.5 71.4,565.4 72.0,565.0 72.6,564.4 73.2,563.6 73.8,563.3 74.4,563.5 75.0,564.0 75.6,564.0 76.2,563.2 76.8,561.2 77.4,560.0 78.0,559.7 78.6,560.3 79.2,561.3 79.8,561.7 80.4,561.5 81.0,561.5 81.6,561.1 82.2,560.7 82.8,560.3 83.4,560.0 84.0,559.5 84.6,558.8 85.2,557.6 85.8,556.6 86.4,555.3 87.0,553.7 87.6,551.8 88.2,549.4 88.8,547.4 89.4,545.1 90.0,542.4 90.6,539.0 91.2,535.5 91.8,531.6 92.4,528.4 93.0,525.2 93.6,523.0 94.2,521.7 94.8,521.9 95.4,522.7 96.0,524.5 96.6,526.7 97.2,529.3 97.8,531.9 98.4,534.7 99.0,537.7 99.6,540.5 100.2,543.2 100.8,545.3 101.4,547.2 102.0,549.3 102.6,551.0 103.2,552.4 103.8,553.9 104.4,554.9 105.0,556.2 105.6,557.4 106.2,558.2 106.8,559.1 107.4,559.9 108.0,560.4 108.6,560.9 109.2,561.5 109.8,561.6 110.4,561.9 111.0,562.3 111.6,562.6 112.2,562.9 112.8,563.2 113.4,563.3 114.0,563.7 114.5,563.8 115.1,564.0 115.7,564.0 116.3,564.2 116.9,564.3 117.5,564.2 118.1,564.3 118.7,564.6 119.3,564.6 119.9,564.7 120.5,564.9 121.1,564.9 121.7,564.9 122.3,564.9 122.9,564.8 123.5,564.9 124.1,564.8 124.7,564.9 125.3,565.1 125.9,565.5 126.5,565.6 127.1,565.6 127.7,565.8 128.3,566.0 128.9,566.0 129.5,565.8 130.1,565.8 130.7,565.9 131.3,565.9 131.9,565.8 132.5,565.8 133.1,566.0 133.7,566.2 134.3,566.1 134.9,566.0 135.5,566.2 136.1,566.1 136.7,565.9 137.3,565.8 137.9,565.5 138.5,565.6 139.1,565.4 139.7,565.3 140.3,565.0 140.9,565.2 141.5,565.2 142.1,565.4 142.7,565.3 143.3,565.4 143.9,565.3 144.5,565.5 145.1,565.3 145.7,565.0 146.3,564.8 146.9,564.4 147.5,564.3 148.1,564.2 148.7,564.1 149.3,563.8 149.9,563.9 150.5,563.7 151.1,563.4 151.7,562.7 152.3,562.0 152.9,561.5 153.5,561.1 154.1,560.1 154.7,559.2 155.3,558.8 155.9,558.0 156.5,557.3 157.1,555.9 157.7,554.1 158.3,552.3 158.9,550.3 159.5,547.8 160.1,544.8 160.7,541.4 161.3,537.7 161.9,534.3 162.5,531.0 163.1,527.9 163.7,526.1 164.3,526.0 164.9,526.7 165.5,528.3 166.1,530.4 166.7,533.0 167.3,535.8 167.9,538.4 168.5,541.0 169.1,543.3 169.7,545.4 170.3,547.4 170.9,549.3 171.5,550.9 172.1,552.4 172.7,553.6 173.3,555.0 173.9,556.4 174.5,557.5 175.1,558.3 175.7,559.1 176.3,559.9 176.9,560.5 177.5,561.0 178.1,561.5 178.7,561.9 179.3,562.4 179.9,563.1 180.5,563.3 181.1,563.6 181.7,563.7 182.3,563.7 182.9,563.9 183.5,564.1 184.1,563.8 184.7,563.8 185.3,563.9 185.9,564.3 186.5,564.8 187.1,564.9 187.7,565.0 188.3,565.4 188.9,565.5 189.5,565.9 190.1,566.0 190.7,565.9 191.3,565.9 191.9,566.0 191.9,570.5Z" fill="url(#g31)" fill-opacity="0.8"/>
<line x1="36.60" y1="570.50" x2="191.90" y2="570.50" stroke="#1a1a1a" stroke-width="1.1" />
<line x1="36.60" y1="571.00" x2="36.60" y2="521.10" stroke="#1a1a1a" stroke-width="1.1" />
<line x1="191.90" y1="570.50" x2="245.00" y2="459.00" stroke="#1a1a1a" stroke-width="1.0" />
<line x1="47.69" y1="570.50" x2="47.69" y2="568.70" stroke="#1a1a1a" stroke-width="0.8" />
<line x1="69.88" y1="570.50" x2="69.88" y2="568.70" stroke="#1a1a1a" stroke-width="0.8" />
<line x1="92.06" y1="570.50" x2="92.06" y2="568.70" stroke="#1a1a1a" stroke-width="0.8" />
<line x1="114.25" y1="570.50" x2="114.25" y2="568.70" stroke="#1a1a1a" stroke-width="0.8" />
<line x1="136.44" y1="570.50" x2="136.44" y2="568.70" stroke="#1a1a1a" stroke-width="0.8" />
<line x1="158.62" y1="570.50" x2="158.62" y2="568.70" stroke="#1a1a1a" stroke-width="0.8" />
<line x1="180.81" y1="570.50" x2="180.81" y2="568.70" stroke="#1a1a1a" stroke-width="0.8" />
<line x1="36.60" y1="559.52" x2="38.40" y2="559.52" stroke="#1a1a1a" stroke-width="0.8" />
<line x1="36.60" y1="548.54" x2="38.40" y2="548.54" stroke="#1a1a1a" stroke-width="0.8" />
<line x1="36.60" y1="537.57" x2="38.40" y2="537.57" stroke="#1a1a1a" stroke-width="0.8" />
<line x1="36.60" y1="526.59" x2="38.40" y2="526.59" stroke="#1a1a1a" stroke-width="0.8" />
<line x1="93" y1="522" x2="172.80" y2="454.55" stroke="#F5B51A" stroke-width="1.8"/>
<path d="M177.00,451.00 L173.97,457.49 L170.10,452.90 Z" fill="#F5B51A"/>
<line x1="162" y1="525" x2="221.88" y2="456.64" stroke="#18A5E0" stroke-width="1.8"/>
<path d="M225.50,452.50 L223.47,459.37 L218.96,455.41 Z" fill="#18A5E0"/>
<text x="69.88" y="585.30" font-size="13.4" text-anchor="middle" fill="#000" stroke="#000" stroke-width="0.2" >3.4</text>
<text x="114.25" y="585.30" font-size="13.4" text-anchor="middle" fill="#000" stroke="#000" stroke-width="0.2" >3.6</text>
<text x="158.62" y="585.30" font-size="13.4" text-anchor="middle" fill="#000" stroke="#000" stroke-width="0.2" >3.8</text>
<text x="34.60" y="564.02" font-size="13.4" text-anchor="end" fill="#000" stroke="#000" stroke-width="0.2" >0.2</text>
<text x="34.60" y="542.07" font-size="13.4" text-anchor="end" fill="#000" stroke="#000" stroke-width="0.2" >0.6</text>
<text x="193.70" y="574.70" font-size="12.40" text-anchor="start" fill="#000" stroke="#000" stroke-width="0.2" >0</text>
<text x="204.99" y="551.00" font-size="11.93" text-anchor="start" fill="#000" stroke="#000" stroke-width="0.2" >10</text>
<text x="215.10" y="529.77" font-size="11.50" text-anchor="start" fill="#000" stroke="#000" stroke-width="0.2" >20</text>
<text x="224.20" y="510.65" font-size="11.12" text-anchor="start" fill="#000" stroke="#000" stroke-width="0.2" >30</text>
<text x="232.45" y="493.34" font-size="10.77" text-anchor="start" fill="#000" stroke="#000" stroke-width="0.2" >40</text>
<text x="239.95" y="477.59" font-size="10.46" text-anchor="start" fill="#000" stroke="#000" stroke-width="0.2" >50</text>
<text x="246.80" y="463.20" font-size="10.17" text-anchor="start" fill="#000" stroke="#000" stroke-width="0.2" >60</text>
<text x="120.25" y="595.50" font-size="13" text-anchor="middle" fill="#000" stroke="#000" stroke-width="0.2" >Wavelength(&#956;m)</text>
<text x="14.00" y="545.80" font-size="13" text-anchor="middle" fill="#000" stroke="#000" stroke-width="0.2" transform="rotate(-90.00 14.00 545.80)" >Reflectance</text>
<text font-size="12.2" stroke="#000" stroke-width="0.2" text-anchor="middle" transform="translate(245.76,521.89) rotate(-64.53)">Incidence Angle(deg)</text>
<text x="76.00" y="550.50" font-size="14" text-anchor="start" fill="#F5B51A" stroke="#F5B51A" stroke-width="0.2" font-weight="bold" >CH A</text>
<text x="147.00" y="550.50" font-size="14" text-anchor="start" fill="#18A5E0" stroke="#18A5E0" stroke-width="0.2" font-weight="bold" >CH B</text>
<line x1="440.11" y1="458.30" x2="440.11" y2="421.30" stroke="#e9e9e9" stroke-width="0.7" />
<line x1="351.16" y1="569.50" x2="440.11" y2="458.30" stroke="#ececec" stroke-width="0.7" />
<line x1="474.00" y1="458.30" x2="474.00" y2="421.30" stroke="#e9e9e9" stroke-width="0.7" />
<line x1="396.05" y1="569.50" x2="474.00" y2="458.30" stroke="#ececec" stroke-width="0.7" />
<line x1="507.89" y1="458.30" x2="507.89" y2="421.30" stroke="#e9e9e9" stroke-width="0.7" />
<line x1="440.94" y1="569.50" x2="507.89" y2="458.30" stroke="#ececec" stroke-width="0.7" />
<line x1="414.70" y1="450.08" x2="533.30" y2="450.08" stroke="#e6e6e6" stroke-width="0.7" />
<line x1="317.50" y1="558.52" x2="414.70" y2="450.08" stroke="#ececec" stroke-width="0.7" />
<line x1="414.70" y1="433.63" x2="533.30" y2="433.63" stroke="#e6e6e6" stroke-width="0.7" />
<line x1="317.50" y1="536.57" x2="414.70" y2="433.63" stroke="#ececec" stroke-width="0.7" />
<line x1="338.16" y1="545.86" x2="338.16" y2="499.10" stroke="#f0f0f0" stroke-width="0.7" />
<line x1="356.67" y1="524.69" x2="356.67" y2="480.29" stroke="#f0f0f0" stroke-width="0.7" />
<line x1="373.34" y1="505.62" x2="373.34" y2="463.34" stroke="#f0f0f0" stroke-width="0.7" />
<line x1="388.43" y1="488.35" x2="388.43" y2="448.00" stroke="#f0f0f0" stroke-width="0.7" />
<line x1="402.16" y1="472.65" x2="402.16" y2="434.05" stroke="#f0f0f0" stroke-width="0.7" />
<path d="M414.70,458.30 L414.70,421.30 L533.30,421.30 L533.30,458.30" fill="none" stroke="#b4b4b4" stroke-width="0.9"/>
<line x1="414.70" y1="458.30" x2="533.30" y2="458.30" stroke="#b4b4b4" stroke-width="0.9" />
<line x1="317.50" y1="520.10" x2="414.70" y2="421.30" stroke="#8c8c8c" stroke-width="0.9" />
<line x1="317.50" y1="569.50" x2="414.70" y2="458.30" stroke="#8c8c8c" stroke-width="0.9" />
<linearGradient id="g32" gradientUnits="userSpaceOnUse" x1="0" y1="458.30" x2="0" y2="448.94"><stop offset="0" stop-color="#76EA46"/><stop offset="0.4" stop-color="#A4E852"/><stop offset="0.62" stop-color="#E2D470"/><stop offset="0.82" stop-color="#F2A070"/><stop offset="1" stop-color="#F27E68"/></linearGradient>
<path d="M414.7,458.3 414.7,455.6 415.2,455.6 415.6,455.6 416.1,455.6 416.5,455.6 417.0,455.6 417.4,455.6 417.9,455.5 418.4,455.5 418.8,455.5 419.3,455.5 419.7,455.5 420.2,455.5 420.7,455.5 421.1,455.4 421.6,455.4 422.0,455.4 422.5,455.4 422.9,455.4 423.4,455.3 423.9,455.3 424.3,455.3 424.8,455.3 425.2,455.3 425.7,455.2 426.1,455.2 426.6,455.2 427.1,455.2 427.5,455.1 428.0,455.1 428.4,455.1 428.9,455.1 429.4,455.0 429.8,455.0 430.3,455.0 430.7,454.9 431.2,454.9 431.6,454.9 432.1,454.8 432.6,454.8 433.0,454.7 433.5,454.7 433.9,454.7 434.4,454.6 434.8,454.6 435.3,454.5 435.8,454.5 436.2,454.4 436.7,454.3 437.1,454.3 437.6,454.2 438.1,454.2 438.5,454.1 439.0,454.0 439.4,453.9 439.9,453.9 440.3,453.8 440.8,453.7 441.3,453.6 441.7,453.5 442.2,453.4 442.6,453.3 443.1,453.2 443.5,453.1 444.0,453.0 444.5,452.9 444.9,452.8 445.4,452.6 445.8,452.5 446.3,452.4 446.8,452.2 447.2,452.1 447.7,451.9 448.1,451.8 448.6,451.6 449.0,451.4 449.5,451.3 450.0,451.1 450.4,450.9 450.9,450.8 451.3,450.6 451.8,450.4 452.2,450.2 452.7,450.1 453.2,449.9 453.6,449.8 454.1,449.6 454.5,449.5 455.0,449.4 455.5,449.2 455.9,449.1 456.4,449.1 456.8,449.0 457.3,449.0 457.7,448.9 458.2,448.9 458.7,448.9 459.1,449.0 459.6,449.0 460.0,449.0 460.5,449.1 460.9,449.1 461.4,449.2 461.9,449.2 462.3,449.3 462.8,449.4 463.2,449.4 463.7,449.5 464.2,449.6 464.6,449.7 465.1,449.8 465.5,449.9 466.0,450.0 466.4,450.1 466.9,450.2 467.4,450.3 467.8,450.4 468.3,450.5 468.7,450.6 469.2,450.8 469.6,450.9 470.1,451.0 470.6,451.1 471.0,451.2 471.5,451.3 471.9,451.4 472.4,451.5 472.9,451.5 473.3,451.6 473.8,451.7 474.2,451.8 474.7,451.9 475.1,452.0 475.6,452.0 476.1,452.1 476.5,452.2 477.0,452.3 477.4,452.3 477.9,452.4 478.4,452.4 478.8,452.5 479.3,452.6 479.7,452.6 480.2,452.7 480.6,452.7 481.1,452.8 481.6,452.8 482.0,452.8 482.5,452.9 482.9,452.9 483.4,452.9 483.8,453.0 484.3,453.0 484.8,453.0 485.2,453.0 485.7,453.0 486.1,453.0 486.6,453.1 487.1,453.1 487.5,453.1 488.0,453.1 488.4,453.1 488.9,453.1 489.3,453.1 489.8,453.0 490.3,453.0 490.7,453.0 491.2,453.0 491.6,453.0 492.1,452.9 492.5,452.9 493.0,452.9 493.5,452.8 493.9,452.8 494.4,452.8 494.8,452.7 495.3,452.6 495.8,452.6 496.2,452.5 496.7,452.5 497.1,452.4 497.6,452.3 498.0,452.2 498.5,452.1 499.0,452.0 499.4,451.9 499.9,451.8 500.3,451.7 500.8,451.6 501.2,451.5 501.7,451.4 502.2,451.2 502.6,451.1 503.1,451.0 503.5,450.8 504.0,450.7 504.5,450.5 504.9,450.4 505.4,450.2 505.8,450.1 506.3,450.0 506.7,449.8 507.2,449.7 507.7,449.6 508.1,449.5 508.6,449.4 509.0,449.3 509.5,449.2 509.9,449.1 510.4,449.1 510.9,449.0 511.3,449.0 511.8,449.0 512.2,449.1 512.7,449.1 513.2,449.1 513.6,449.2 514.1,449.2 514.5,449.3 515.0,449.3 515.4,449.4 515.9,449.5 516.4,449.6 516.8,449.7 517.3,449.8 517.7,449.9 518.2,450.0 518.6,450.1 519.1,450.2 519.6,450.3 520.0,450.4 520.5,450.5 520.9,450.6 521.4,450.8 521.9,450.9 522.3,451.0 522.8,451.1 523.2,451.2 523.7,451.3 524.1,451.4 524.6,451.6 525.1,451.7 525.5,451.8 526.0,451.9 526.4,452.0 526.9,452.1 527.3,452.2 527.8,452.3 528.3,452.4 528.7,452.5 529.2,452.6 529.6,452.7 530.1,452.7 530.6,452.8 531.0,452.9 531.5,453.0 531.9,453.1 532.4,453.1 532.8,453.2 533.3,453.3 533.3,458.3Z" fill="url(#g32)" fill-opacity="0.8"/>
<linearGradient id="g33" gradientUnits="userSpaceOnUse" x1="0" y1="472.65" x2="0" y2="459.40"><stop offset="0" stop-color="#76EA46"/><stop offset="0.4" stop-color="#A4E852"/><stop offset="0.62" stop-color="#E2D470"/><stop offset="0.82" stop-color="#F2A070"/><stop offset="1" stop-color="#F27E68"/></linearGradient>
<path d="M402.2,472.6 402.2,469.7 402.6,469.7 403.1,469.7 403.6,469.7 404.1,469.7 404.5,469.7 405.0,469.6 405.5,469.6 406.0,469.6 406.5,469.6 406.9,469.6 407.4,469.6 407.9,469.5 408.4,469.5 408.8,469.5 409.3,469.5 409.8,469.5 410.3,469.4 410.7,469.4 411.2,469.4 411.7,469.4 412.2,469.3 412.7,469.3 413.1,469.3 413.6,469.2 414.1,469.2 414.6,469.2 415.0,469.1 415.5,469.1 416.0,469.1 416.5,469.0 416.9,469.0 417.4,469.0 417.9,468.9 418.4,468.9 418.9,468.8 419.3,468.8 419.8,468.7 420.3,468.7 420.8,468.6 421.2,468.6 421.7,468.5 422.2,468.5 422.7,468.4 423.2,468.3 423.6,468.3 424.1,468.2 424.6,468.1 425.1,468.1 425.5,468.0 426.0,467.9 426.5,467.8 427.0,467.7 427.4,467.6 427.9,467.5 428.4,467.4 428.9,467.3 429.4,467.2 429.8,467.0 430.3,466.9 430.8,466.8 431.3,466.6 431.7,466.5 432.2,466.3 432.7,466.2 433.2,466.0 433.6,465.8 434.1,465.6 434.6,465.4 435.1,465.2 435.6,465.0 436.0,464.8 436.5,464.5 437.0,464.3 437.5,464.0 437.9,463.7 438.4,463.5 438.9,463.2 439.4,462.9 439.8,462.6 440.3,462.3 440.8,462.0 441.3,461.7 441.8,461.4 442.2,461.2 442.7,460.9 443.2,460.6 443.7,460.4 444.1,460.1 444.6,459.9 445.1,459.8 445.6,459.6 446.1,459.5 446.5,459.4 447.0,459.4 447.5,459.4 448.0,459.4 448.4,459.4 448.9,459.5 449.4,459.6 449.9,459.6 450.3,459.7 450.8,459.8 451.3,460.0 451.8,460.1 452.3,460.2 452.7,460.4 453.2,460.5 453.7,460.7 454.2,460.9 454.6,461.1 455.1,461.3 455.6,461.4 456.1,461.6 456.5,461.8 457.0,462.0 457.5,462.2 458.0,462.4 458.5,462.6 458.9,462.7 459.4,462.9 459.9,463.1 460.4,463.3 460.8,463.4 461.3,463.6 461.8,463.8 462.3,463.9 462.7,464.1 463.2,464.2 463.7,464.4 464.2,464.5 464.7,464.6 465.1,464.7 465.6,464.9 466.1,465.0 466.6,465.1 467.0,465.2 467.5,465.3 468.0,465.4 468.5,465.5 469.0,465.6 469.4,465.7 469.9,465.7 470.4,465.8 470.9,465.9 471.3,465.9 471.8,466.0 472.3,466.1 472.8,466.1 473.2,466.2 473.7,466.2 474.2,466.3 474.7,466.3 475.2,466.3 475.6,466.3 476.1,466.4 476.6,466.4 477.1,466.4 477.5,466.4 478.0,466.4 478.5,466.4 479.0,466.4 479.4,466.4 479.9,466.4 480.4,466.4 480.9,466.4 481.4,466.4 481.8,466.3 482.3,466.3 482.8,466.3 483.3,466.2 483.7,466.2 484.2,466.1 484.7,466.0 485.2,466.0 485.6,465.9 486.1,465.8 486.6,465.7 487.1,465.6 487.6,465.5 488.0,465.4 488.5,465.3 489.0,465.2 489.5,465.1 489.9,464.9 490.4,464.8 490.9,464.6 491.4,464.4 491.9,464.2 492.3,464.0 492.8,463.8 493.3,463.6 493.8,463.4 494.2,463.2 494.7,463.0 495.2,462.7 495.7,462.5 496.1,462.2 496.6,462.0 497.1,461.7 497.6,461.4 498.1,461.2 498.5,460.9 499.0,460.7 499.5,460.5 500.0,460.3 500.4,460.1 500.9,460.0 501.4,459.8 501.9,459.7 502.3,459.7 502.8,459.7 503.3,459.7 503.8,459.7 504.3,459.7 504.7,459.8 505.2,459.9 505.7,460.0 506.2,460.1 506.6,460.2 507.1,460.3 507.6,460.5 508.1,460.6 508.6,460.8 509.0,461.0 509.5,461.1 510.0,461.3 510.5,461.5 510.9,461.7 511.4,461.9 511.9,462.1 512.4,462.3 512.8,462.5 513.3,462.7 513.8,462.9 514.3,463.1 514.8,463.3 515.2,463.5 515.7,463.7 516.2,463.8 516.7,464.0 517.1,464.2 517.6,464.4 518.1,464.5 518.6,464.7 519.0,464.9 519.5,465.0 520.0,465.2 520.5,465.3 521.0,465.4 521.4,465.6 521.9,465.7 522.4,465.8 522.9,466.0 523.3,466.1 523.8,466.2 524.3,466.3 524.8,466.4 525.2,466.5 525.7,466.6 525.7,472.6Z" fill="url(#g33)" fill-opacity="0.8"/>
<linearGradient id="g34" gradientUnits="userSpaceOnUse" x1="0" y1="488.35" x2="0" y2="469.98"><stop offset="0" stop-color="#76EA46"/><stop offset="0.4" stop-color="#A4E852"/><stop offset="0.62" stop-color="#E2D470"/><stop offset="0.82" stop-color="#F2A070"/><stop offset="1" stop-color="#F27E68"/></linearGradient>
<path d="M388.4,488.4 388.4,485.2 388.9,485.2 389.4,485.2 389.9,485.2 390.4,485.2 390.9,485.1 391.4,485.1 391.9,485.1 392.4,485.1 392.9,485.1 393.4,485.0 393.9,485.0 394.4,485.0 394.9,485.0 395.4,484.9 395.9,484.9 396.4,484.9 396.9,484.9 397.4,484.8 397.9,484.8 398.4,484.8 398.9,484.7 399.4,484.7 399.9,484.7 400.4,484.6 400.9,484.6 401.4,484.6 401.9,484.5 402.4,484.5 402.9,484.4 403.4,484.4 403.9,484.4 404.4,484.3 404.9,484.3 405.4,484.2 405.9,484.2 406.4,484.1 406.9,484.0 407.4,484.0 407.9,483.9 408.4,483.8 408.9,483.8 409.3,483.7 409.8,483.6 410.3,483.6 410.8,483.5 411.3,483.4 411.8,483.3 412.3,483.2 412.8,483.1 413.3,483.0 413.8,482.9 414.3,482.8 414.8,482.6 415.3,482.5 415.8,482.4 416.3,482.2 416.8,482.1 417.3,481.9 417.8,481.7 418.3,481.5 418.8,481.4 419.3,481.2 419.8,480.9 420.3,480.7 420.8,480.5 421.3,480.2 421.8,480.0 422.3,479.7 422.8,479.4 423.3,479.1 423.8,478.8 424.3,478.4 424.8,478.0 425.3,477.7 425.8,477.3 426.3,476.8 426.8,476.4 427.3,476.0 427.8,475.5 428.3,475.0 428.8,474.6 429.3,474.1 429.8,473.6 430.3,473.1 430.8,472.6 431.3,472.2 431.8,471.7 432.3,471.3 432.8,471.0 433.3,470.6 433.8,470.4 434.3,470.2 434.8,470.1 435.3,470.0 435.7,470.0 436.2,470.0 436.7,470.1 437.2,470.2 437.7,470.3 438.2,470.5 438.7,470.6 439.2,470.8 439.7,471.1 440.2,471.3 440.7,471.6 441.2,471.9 441.7,472.2 442.2,472.5 442.7,472.8 443.2,473.1 443.7,473.4 444.2,473.7 444.7,474.1 445.2,474.4 445.7,474.7 446.2,475.0 446.7,475.3 447.2,475.6 447.7,475.9 448.2,476.2 448.7,476.5 449.2,476.7 449.7,477.0 450.2,477.2 450.7,477.5 451.2,477.7 451.7,478.0 452.2,478.2 452.7,478.4 453.2,478.6 453.7,478.8 454.2,478.9 454.7,479.1 455.2,479.3 455.7,479.4 456.2,479.6 456.7,479.7 457.2,479.9 457.7,480.0 458.2,480.1 458.7,480.2 459.2,480.3 459.7,480.4 460.2,480.5 460.7,480.6 461.2,480.7 461.6,480.8 462.1,480.9 462.6,480.9 463.1,481.0 463.6,481.0 464.1,481.1 464.6,481.1 465.1,481.2 465.6,481.2 466.1,481.2 466.6,481.3 467.1,481.3 467.6,481.3 468.1,481.3 468.6,481.3 469.1,481.3 469.6,481.3 470.1,481.3 470.6,481.2 471.1,481.2 471.6,481.2 472.1,481.1 472.6,481.1 473.1,481.0 473.6,480.9 474.1,480.9 474.6,480.8 475.1,480.7 475.6,480.6 476.1,480.5 476.6,480.4 477.1,480.2 477.6,480.1 478.1,480.0 478.6,479.8 479.1,479.6 479.6,479.4 480.1,479.2 480.6,479.0 481.1,478.8 481.6,478.5 482.1,478.3 482.6,478.0 483.1,477.7 483.6,477.4 484.1,477.0 484.6,476.7 485.1,476.3 485.6,475.9 486.1,475.5 486.6,475.1 487.1,474.7 487.5,474.2 488.0,473.8 488.5,473.4 489.0,472.9 489.5,472.5 490.0,472.1 490.5,471.8 491.0,471.4 491.5,471.1 492.0,470.9 492.5,470.7 493.0,470.6 493.5,470.5 494.0,470.5 494.5,470.6 495.0,470.6 495.5,470.8 496.0,470.9 496.5,471.1 497.0,471.2 497.5,471.5 498.0,471.7 498.5,472.0 499.0,472.2 499.5,472.5 500.0,472.8 500.5,473.1 501.0,473.5 501.5,473.8 502.0,474.1 502.5,474.4 503.0,474.8 503.5,475.1 504.0,475.4 504.5,475.7 505.0,476.0 505.5,476.4 506.0,476.7 506.5,476.9 507.0,477.2 507.5,477.5 508.0,477.8 508.5,478.0 509.0,478.3 509.5,478.5 510.0,478.8 510.5,479.0 511.0,479.2 511.5,479.4 512.0,479.6 512.5,479.8 513.0,480.0 513.5,480.2 513.9,480.4 514.4,480.6 514.9,480.7 515.4,480.9 515.9,481.0 516.4,481.2 516.9,481.3 517.4,481.4 517.4,488.4Z" fill="url(#g34)" fill-opacity="0.8"/>
<linearGradient id="g35" gradientUnits="userSpaceOnUse" x1="0" y1="505.62" x2="0" y2="479.77"><stop offset="0" stop-color="#76EA46"/><stop offset="0.4" stop-color="#A4E852"/><stop offset="0.62" stop-color="#E2D470"/><stop offset="0.82" stop-color="#F2A070"/><stop offset="1" stop-color="#F27E68"/></linearGradient>
<path d="M373.3,505.6 373.3,502.3 373.9,502.3 374.4,502.2 374.9,502.2 375.4,502.2 375.9,502.2 376.5,502.2 377.0,502.1 377.5,502.1 378.0,502.1 378.5,502.1 379.1,502.0 379.6,502.0 380.1,502.0 380.6,502.0 381.2,501.9 381.7,501.9 382.2,501.9 382.7,501.8 383.2,501.8 383.8,501.8 384.3,501.7 384.8,501.7 385.3,501.7 385.8,501.6 386.4,501.6 386.9,501.5 387.4,501.5 387.9,501.4 388.5,501.4 389.0,501.3 389.5,501.3 390.0,501.2 390.5,501.2 391.1,501.1 391.6,501.1 392.1,501.0 392.6,500.9 393.1,500.8 393.7,500.8 394.2,500.7 394.7,500.6 395.2,500.5 395.7,500.4 396.3,500.3 396.8,500.2 397.3,500.1 397.8,500.0 398.4,499.9 398.9,499.8 399.4,499.7 399.9,499.5 400.4,499.4 401.0,499.2 401.5,499.1 402.0,498.9 402.5,498.7 403.0,498.5 403.6,498.3 404.1,498.1 404.6,497.9 405.1,497.6 405.7,497.4 406.2,497.1 406.7,496.8 407.2,496.5 407.7,496.2 408.3,495.8 408.8,495.4 409.3,495.0 409.8,494.6 410.3,494.2 410.9,493.7 411.4,493.2 411.9,492.6 412.4,492.0 412.9,491.4 413.5,490.8 414.0,490.1 414.5,489.4 415.0,488.6 415.6,487.8 416.1,487.0 416.6,486.2 417.1,485.4 417.6,484.6 418.2,483.8 418.7,483.0 419.2,482.3 419.7,481.6 420.2,481.0 420.8,480.5 421.3,480.2 421.8,479.9 422.3,479.8 422.8,479.8 423.4,479.8 423.9,480.0 424.4,480.2 424.9,480.4 425.5,480.7 426.0,481.1 426.5,481.5 427.0,481.9 427.5,482.4 428.1,482.9 428.6,483.4 429.1,484.0 429.6,484.5 430.1,485.1 430.7,485.6 431.2,486.2 431.7,486.7 432.2,487.3 432.8,487.8 433.3,488.3 433.8,488.8 434.3,489.3 434.8,489.8 435.4,490.3 435.9,490.7 436.4,491.1 436.9,491.5 437.4,491.9 438.0,492.3 438.5,492.6 439.0,493.0 439.5,493.3 440.0,493.6 440.6,493.9 441.1,494.2 441.6,494.4 442.1,494.7 442.7,494.9 443.2,495.2 443.7,495.4 444.2,495.6 444.7,495.8 445.3,496.0 445.8,496.1 446.3,496.3 446.8,496.4 447.3,496.6 447.9,496.7 448.4,496.8 448.9,496.9 449.4,497.1 450.0,497.2 450.5,497.2 451.0,497.3 451.5,497.4 452.0,497.5 452.6,497.5 453.1,497.6 453.6,497.6 454.1,497.7 454.6,497.7 455.2,497.7 455.7,497.8 456.2,497.8 456.7,497.8 457.2,497.8 457.8,497.8 458.3,497.8 458.8,497.7 459.3,497.7 459.9,497.7 460.4,497.6 460.9,497.6 461.4,497.5 461.9,497.4 462.5,497.4 463.0,497.3 463.5,497.2 464.0,497.0 464.5,496.9 465.1,496.8 465.6,496.6 466.1,496.5 466.6,496.3 467.1,496.1 467.7,495.9 468.2,495.6 468.7,495.4 469.2,495.1 469.8,494.8 470.3,494.5 470.8,494.1 471.3,493.8 471.8,493.4 472.4,492.9 472.9,492.5 473.4,492.0 473.9,491.4 474.4,490.9 475.0,490.3 475.5,489.7 476.0,489.0 476.5,488.3 477.1,487.6 477.6,486.9 478.1,486.1 478.6,485.4 479.1,484.6 479.7,483.9 480.2,483.2 480.7,482.6 481.2,482.0 481.7,481.5 482.3,481.2 482.8,480.9 483.3,480.8 483.8,480.8 484.3,480.8 484.9,481.0 485.4,481.2 485.9,481.4 486.4,481.8 487.0,482.1 487.5,482.5 488.0,483.0 488.5,483.5 489.0,484.0 489.6,484.5 490.1,485.0 490.6,485.6 491.1,486.1 491.6,486.7 492.2,487.2 492.7,487.8 493.2,488.3 493.7,488.9 494.2,489.4 494.8,489.9 495.3,490.4 495.8,490.8 496.3,491.3 496.9,491.7 497.4,492.2 497.9,492.6 498.4,493.0 498.9,493.3 499.5,493.7 500.0,494.0 500.5,494.4 501.0,494.7 501.5,495.0 502.1,495.3 502.6,495.5 503.1,495.8 503.6,496.1 504.2,496.3 504.7,496.5 505.2,496.8 505.7,497.0 506.2,497.2 506.8,497.4 507.3,497.5 507.8,497.7 508.3,497.9 508.3,505.6Z" fill="url(#g35)" fill-opacity="0.8"/>
<linearGradient id="g36" gradientUnits="userSpaceOnUse" x1="0" y1="524.69" x2="0" y2="490.68"><stop offset="0" stop-color="#76EA46"/><stop offset="0.4" stop-color="#A4E852"/><stop offset="0.62" stop-color="#E2D470"/><stop offset="0.82" stop-color="#F2A070"/><stop offset="1" stop-color="#F27E68"/></linearGradient>
<path d="M356.7,524.7 356.7,521.3 357.2,521.2 357.8,521.2 358.3,521.2 358.9,521.2 359.4,521.2 360.0,521.1 360.5,521.1 361.0,521.1 361.6,521.1 362.1,521.0 362.7,521.0 363.2,521.0 363.8,521.0 364.3,520.9 364.9,520.9 365.4,520.9 366.0,520.8 366.5,520.8 367.1,520.8 367.6,520.7 368.2,520.7 368.7,520.7 369.2,520.6 369.8,520.6 370.3,520.5 370.9,520.5 371.4,520.5 372.0,520.4 372.5,520.4 373.1,520.3 373.6,520.3 374.2,520.2 374.7,520.1 375.3,520.1 375.8,520.0 376.3,519.9 376.9,519.9 377.4,519.8 378.0,519.7 378.5,519.6 379.1,519.6 379.6,519.5 380.2,519.4 380.7,519.3 381.3,519.2 381.8,519.1 382.4,519.0 382.9,518.8 383.5,518.7 384.0,518.6 384.5,518.4 385.1,518.3 385.6,518.1 386.2,517.9 386.7,517.8 387.3,517.6 387.8,517.4 388.4,517.1 388.9,516.9 389.5,516.7 390.0,516.4 390.6,516.1 391.1,515.8 391.7,515.5 392.2,515.1 392.7,514.7 393.3,514.3 393.8,513.9 394.4,513.4 394.9,512.9 395.5,512.3 396.0,511.8 396.6,511.1 397.1,510.4 397.7,509.7 398.2,508.9 398.8,508.0 399.3,507.1 399.9,506.1 400.4,505.1 400.9,504.0 401.5,502.8 402.0,501.6 402.6,500.3 403.1,499.0 403.7,497.7 404.2,496.4 404.8,495.2 405.3,494.0 405.9,493.0 406.4,492.1 407.0,491.4 407.5,490.9 408.1,490.7 408.6,490.7 409.1,490.8 409.7,491.1 410.2,491.5 410.8,492.0 411.3,492.5 411.9,493.2 412.4,494.0 413.0,494.8 413.5,495.6 414.1,496.5 414.6,497.4 415.2,498.3 415.7,499.2 416.3,500.1 416.8,501.0 417.3,501.8 417.9,502.7 418.4,503.5 419.0,504.3 419.5,505.0 420.1,505.8 420.6,506.4 421.2,507.1 421.7,507.7 422.3,508.3 422.8,508.9 423.4,509.4 423.9,509.9 424.5,510.4 425.0,510.8 425.5,511.2 426.1,511.6 426.6,512.0 427.2,512.4 427.7,512.7 428.3,513.0 428.8,513.3 429.4,513.6 429.9,513.9 430.5,514.1 431.0,514.3 431.6,514.6 432.1,514.8 432.7,515.0 433.2,515.1 433.7,515.3 434.3,515.5 434.8,515.6 435.4,515.8 435.9,515.9 436.5,516.0 437.0,516.1 437.6,516.2 438.1,516.3 438.7,516.4 439.2,516.5 439.8,516.5 440.3,516.6 440.9,516.6 441.4,516.7 441.9,516.7 442.5,516.8 443.0,516.8 443.6,516.8 444.1,516.8 444.7,516.8 445.2,516.8 445.8,516.8 446.3,516.8 446.9,516.7 447.4,516.7 448.0,516.6 448.5,516.6 449.1,516.5 449.6,516.4 450.1,516.3 450.7,516.2 451.2,516.1 451.8,516.0 452.3,515.8 452.9,515.7 453.4,515.5 454.0,515.3 454.5,515.1 455.1,514.9 455.6,514.7 456.2,514.4 456.7,514.1 457.3,513.8 457.8,513.4 458.3,513.0 458.9,512.6 459.4,512.2 460.0,511.7 460.5,511.1 461.1,510.6 461.6,509.9 462.2,509.2 462.7,508.5 463.3,507.7 463.8,506.8 464.4,505.9 464.9,504.9 465.5,503.8 466.0,502.7 466.5,501.6 467.1,500.4 467.6,499.2 468.2,498.0 468.7,496.8 469.3,495.7 469.8,494.7 470.4,493.8 470.9,493.1 471.5,492.6 472.0,492.3 472.6,492.3 473.1,492.4 473.7,492.7 474.2,493.0 474.7,493.5 475.3,494.1 475.8,494.7 476.4,495.5 476.9,496.3 477.5,497.1 478.0,498.0 478.6,498.9 479.1,499.8 479.7,500.7 480.2,501.6 480.8,502.4 481.3,503.3 481.9,504.1 482.4,504.9 482.9,505.7 483.5,506.4 484.0,507.1 484.6,507.8 485.1,508.4 485.7,509.0 486.2,509.6 486.8,510.1 487.3,510.7 487.9,511.2 488.4,511.6 489.0,512.1 489.5,512.5 490.1,512.9 490.6,513.3 491.1,513.6 491.7,513.9 492.2,514.3 492.8,514.6 493.3,514.8 493.9,515.1 494.4,515.4 495.0,515.6 495.5,515.8 496.1,516.1 496.6,516.3 497.2,516.5 497.7,516.7 498.3,516.8 498.3,524.7Z" fill="url(#g36)" fill-opacity="0.8"/>
<linearGradient id="g37" gradientUnits="userSpaceOnUse" x1="0" y1="545.86" x2="0" y2="504.45"><stop offset="0" stop-color="#76EA46"/><stop offset="0.4" stop-color="#A4E852"/><stop offset="0.62" stop-color="#E2D470"/><stop offset="0.82" stop-color="#F2A070"/><stop offset="1" stop-color="#F27E68"/></linearGradient>
<path d="M338.2,545.9 338.2,542.4 338.7,542.4 339.3,542.4 339.9,542.4 340.5,542.4 341.0,542.4 341.6,542.3 342.2,542.3 342.8,542.3 343.3,542.3 343.9,542.3 344.5,542.2 345.1,542.2 345.6,542.2 346.2,542.2 346.8,542.1 347.4,542.1 347.9,542.1 348.5,542.1 349.1,542.0 349.7,542.0 350.2,542.0 350.8,541.9 351.4,541.9 352.0,541.9 352.5,541.8 353.1,541.8 353.7,541.8 354.3,541.7 354.8,541.7 355.4,541.6 356.0,541.6 356.6,541.5 357.1,541.5 357.7,541.4 358.3,541.4 358.9,541.3 359.4,541.3 360.0,541.2 360.6,541.1 361.2,541.1 361.7,541.0 362.3,540.9 362.9,540.8 363.5,540.7 364.0,540.7 364.6,540.6 365.2,540.5 365.8,540.3 366.3,540.2 366.9,540.1 367.5,540.0 368.1,539.8 368.6,539.7 369.2,539.5 369.8,539.4 370.4,539.2 370.9,539.0 371.5,538.8 372.1,538.6 372.7,538.4 373.2,538.1 373.8,537.8 374.4,537.5 375.0,537.2 375.5,536.9 376.1,536.5 376.7,536.1 377.3,535.7 377.8,535.2 378.4,534.7 379.0,534.1 379.6,533.5 380.1,532.9 380.7,532.1 381.3,531.3 381.9,530.4 382.4,529.5 383.0,528.4 383.6,527.2 384.2,526.0 384.7,524.6 385.3,523.1 385.9,521.5 386.5,519.7 387.0,517.9 387.6,516.0 388.2,514.0 388.8,512.1 389.3,510.2 389.9,508.4 390.5,506.9 391.1,505.7 391.6,504.9 392.2,504.4 392.8,504.5 393.4,504.7 393.9,505.2 394.5,506.0 395.1,506.9 395.7,508.0 396.2,509.2 396.8,510.4 397.4,511.8 398.0,513.2 398.5,514.6 399.1,516.0 399.7,517.4 400.3,518.7 400.8,520.0 401.4,521.2 402.0,522.4 402.6,523.5 403.1,524.6 403.7,525.5 404.3,526.5 404.9,527.3 405.4,528.1 406.0,528.9 406.6,529.6 407.2,530.3 407.7,530.9 408.3,531.5 408.9,532.0 409.5,532.5 410.0,533.0 410.6,533.4 411.2,533.8 411.8,534.2 412.3,534.6 412.9,534.9 413.5,535.2 414.1,535.5 414.6,535.8 415.2,536.0 415.8,536.3 416.4,536.5 416.9,536.7 417.5,536.9 418.1,537.1 418.7,537.2 419.2,537.4 419.8,537.5 420.4,537.7 421.0,537.8 421.5,537.9 422.1,538.0 422.7,538.1 423.3,538.2 423.8,538.3 424.4,538.4 425.0,538.4 425.6,538.5 426.1,538.5 426.7,538.6 427.3,538.6 427.9,538.7 428.4,538.7 429.0,538.7 429.6,538.7 430.2,538.7 430.7,538.7 431.3,538.7 431.9,538.7 432.5,538.7 433.0,538.6 433.6,538.6 434.2,538.6 434.8,538.5 435.3,538.4 435.9,538.4 436.5,538.3 437.1,538.2 437.6,538.1 438.2,538.0 438.8,537.8 439.4,537.7 439.9,537.5 440.5,537.4 441.1,537.2 441.7,536.9 442.2,536.7 442.8,536.4 443.4,536.2 444.0,535.8 444.5,535.5 445.1,535.1 445.7,534.7 446.3,534.2 446.8,533.7 447.4,533.2 448.0,532.5 448.6,531.9 449.1,531.1 449.7,530.3 450.3,529.4 450.9,528.3 451.4,527.2 452.0,526.0 452.6,524.7 453.2,523.2 453.7,521.6 454.3,520.0 454.9,518.2 455.5,516.4 456.0,514.5 456.6,512.7 457.2,511.0 457.8,509.4 458.3,508.2 458.9,507.2 459.5,506.7 460.1,506.7 460.6,506.9 461.2,507.4 461.8,508.1 462.4,508.9 462.9,510.0 463.5,511.2 464.1,512.5 464.7,513.8 465.2,515.2 465.8,516.6 466.4,517.9 467.0,519.3 467.5,520.6 468.1,521.8 468.7,523.0 469.3,524.1 469.8,525.2 470.4,526.2 471.0,527.2 471.6,528.1 472.1,528.9 472.7,529.7 473.3,530.4 473.9,531.1 474.4,531.7 475.0,532.3 475.6,532.8 476.2,533.3 476.7,533.8 477.3,534.3 477.9,534.7 478.5,535.1 479.0,535.4 479.6,535.8 480.2,536.1 480.8,536.4 481.3,536.7 481.9,537.0 482.5,537.2 483.1,537.5 483.6,537.7 484.2,537.9 484.8,538.1 485.4,538.3 485.9,538.5 486.5,538.6 487.1,538.8 487.1,545.9Z" fill="url(#g37)" fill-opacity="0.8"/>
<linearGradient id="g38" gradientUnits="userSpaceOnUse" x1="0" y1="569.50" x2="0" y2="522.63"><stop offset="0" stop-color="#76EA46"/><stop offset="0.4" stop-color="#A4E852"/><stop offset="0.62" stop-color="#E2D470"/><stop offset="0.82" stop-color="#F2A070"/><stop offset="1" stop-color="#F27E68"/></linearGradient>
<path d="M317.5,569.5 317.5,566.2 318.1,566.2 318.7,566.2 319.3,566.1 319.9,566.1 320.5,566.1 321.1,566.1 321.7,566.1 322.4,566.1 323.0,566.1 323.6,566.1 324.2,566.0 324.8,566.0 325.4,566.0 326.0,566.0 326.6,566.0 327.2,566.0 327.8,565.9 328.4,565.9 329.0,565.9 329.6,565.9 330.2,565.9 330.8,565.8 331.5,565.8 332.1,565.8 332.7,565.8 333.3,565.7 333.9,565.7 334.5,565.7 335.1,565.6 335.7,565.6 336.3,565.6 336.9,565.5 337.5,565.5 338.1,565.5 338.7,565.4 339.3,565.4 339.9,565.3 340.5,565.3 341.2,565.2 341.8,565.2 342.4,565.1 343.0,565.1 343.6,565.0 344.2,565.0 344.8,564.9 345.4,564.8 346.0,564.7 346.6,564.7 347.2,564.6 347.8,564.5 348.4,564.4 349.0,564.3 349.6,564.2 350.3,564.1 350.9,563.9 351.5,563.8 352.1,563.7 352.7,563.5 353.3,563.3 353.9,563.2 354.5,563.0 355.1,562.8 355.7,562.5 356.3,562.3 356.9,562.0 357.5,561.7 358.1,561.4 358.7,561.1 359.4,560.7 360.0,560.2 360.6,559.8 361.2,559.3 361.8,558.7 362.4,558.0 363.0,557.3 363.6,556.5 364.2,555.6 364.8,554.6 365.4,553.5 366.0,552.2 366.6,550.8 367.2,549.2 367.8,547.4 368.5,545.3 369.1,543.1 369.7,540.7 370.3,538.0 370.9,535.2 371.5,532.4 372.1,529.6 372.7,527.0 373.3,524.9 373.9,523.4 374.5,522.6 375.1,522.7 375.7,523.2 376.3,524.2 376.9,525.6 377.5,527.3 378.2,529.2 378.8,531.3 379.4,533.4 380.0,535.6 380.6,537.6 381.2,539.6 381.8,541.5 382.4,543.3 383.0,545.0 383.6,546.5 384.2,547.9 384.8,549.2 385.4,550.4 386.0,551.5 386.6,552.5 387.3,553.5 387.9,554.3 388.5,555.1 389.1,555.8 389.7,556.4 390.3,557.0 390.9,557.5 391.5,558.0 392.1,558.5 392.7,558.9 393.3,559.3 393.9,559.6 394.5,560.0 395.1,560.3 395.7,560.6 396.4,560.8 397.0,561.1 397.6,561.3 398.2,561.5 398.8,561.7 399.4,561.9 400.0,562.0 400.6,562.2 401.2,562.3 401.8,562.5 402.4,562.6 403.0,562.7 403.6,562.8 404.2,562.9 404.8,563.0 405.5,563.1 406.1,563.2 406.7,563.2 407.3,563.3 407.9,563.4 408.5,563.4 409.1,563.5 409.7,563.5 410.3,563.5 410.9,563.6 411.5,563.6 412.1,563.6 412.7,563.6 413.3,563.6 413.9,563.6 414.6,563.6 415.2,563.6 415.8,563.6 416.4,563.6 417.0,563.6 417.6,563.6 418.2,563.6 418.8,563.5 419.4,563.5 420.0,563.4 420.6,563.4 421.2,563.3 421.8,563.2 422.4,563.1 423.0,563.1 423.6,563.0 424.3,562.8 424.9,562.7 425.5,562.6 426.1,562.4 426.7,562.3 427.3,562.1 427.9,561.9 428.5,561.6 429.1,561.4 429.7,561.1 430.3,560.8 430.9,560.5 431.5,560.1 432.1,559.7 432.7,559.2 433.4,558.6 434.0,558.1 434.6,557.4 435.2,556.6 435.8,555.8 436.4,554.8 437.0,553.7 437.6,552.5 438.2,551.1 438.8,549.5 439.4,547.7 440.0,545.7 440.6,543.5 441.2,541.1 441.8,538.5 442.5,535.7 443.1,533.0 443.7,530.4 444.3,528.2 444.9,526.5 445.5,525.5 446.1,525.4 446.7,525.8 447.3,526.8 447.9,528.1 448.5,529.8 449.1,531.7 449.7,533.7 450.3,535.8 450.9,537.9 451.6,540.0 452.2,541.9 452.8,543.8 453.4,545.5 454.0,547.1 454.6,548.6 455.2,549.9 455.8,551.1 456.4,552.3 457.0,553.3 457.6,554.2 458.2,555.1 458.8,555.8 459.4,556.5 460.0,557.2 460.6,557.8 461.3,558.3 461.9,558.8 462.5,559.3 463.1,559.7 463.7,560.1 464.3,560.4 464.9,560.7 465.5,561.0 466.1,561.3 466.7,561.6 467.3,561.8 467.9,562.1 468.5,562.3 469.1,562.5 469.7,562.7 470.4,562.8 471.0,563.0 471.6,563.1 472.2,563.3 472.8,563.4 473.4,563.5 474.0,563.7 474.6,563.8 474.6,569.5Z" fill="url(#g38)" fill-opacity="0.8"/>
<line x1="317.50" y1="569.50" x2="474.60" y2="569.50" stroke="#1a1a1a" stroke-width="1.1" />
<line x1="317.50" y1="570.00" x2="317.50" y2="520.10" stroke="#1a1a1a" stroke-width="1.1" />
<line x1="474.60" y1="569.50" x2="533.30" y2="458.30" stroke="#1a1a1a" stroke-width="1.0" />
<line x1="328.72" y1="569.50" x2="328.72" y2="567.70" stroke="#1a1a1a" stroke-width="0.8" />
<line x1="351.16" y1="569.50" x2="351.16" y2="567.70" stroke="#1a1a1a" stroke-width="0.8" />
<line x1="373.61" y1="569.50" x2="373.61" y2="567.70" stroke="#1a1a1a" stroke-width="0.8" />
<line x1="396.05" y1="569.50" x2="396.05" y2="567.70" stroke="#1a1a1a" stroke-width="0.8" />
<line x1="418.49" y1="569.50" x2="418.49" y2="567.70" stroke="#1a1a1a" stroke-width="0.8" />
<line x1="440.94" y1="569.50" x2="440.94" y2="567.70" stroke="#1a1a1a" stroke-width="0.8" />
<line x1="463.38" y1="569.50" x2="463.38" y2="567.70" stroke="#1a1a1a" stroke-width="0.8" />
<line x1="317.50" y1="558.52" x2="319.30" y2="558.52" stroke="#1a1a1a" stroke-width="0.8" />
<line x1="317.50" y1="547.54" x2="319.30" y2="547.54" stroke="#1a1a1a" stroke-width="0.8" />
<line x1="317.50" y1="536.57" x2="319.30" y2="536.57" stroke="#1a1a1a" stroke-width="0.8" />
<line x1="317.50" y1="525.59" x2="319.30" y2="525.59" stroke="#1a1a1a" stroke-width="0.8" />
<line x1="377" y1="522" x2="455.82" y2="454.58" stroke="#F5B51A" stroke-width="1.8"/>
<path d="M460.00,451.00 L457.01,457.50 L453.11,452.95 Z" fill="#F5B51A"/>
<line x1="448" y1="527" x2="506.50" y2="456.24" stroke="#18A5E0" stroke-width="1.8"/>
<path d="M510.00,452.00 L508.17,458.92 L503.55,455.10 Z" fill="#18A5E0"/>
<text x="351.16" y="584.30" font-size="13.4" text-anchor="middle" fill="#000" stroke="#000" stroke-width="0.2" >3.4</text>
<text x="396.05" y="584.30" font-size="13.4" text-anchor="middle" fill="#000" stroke="#000" stroke-width="0.2" >3.6</text>
<text x="440.94" y="584.30" font-size="13.4" text-anchor="middle" fill="#000" stroke="#000" stroke-width="0.2" >3.8</text>
<text x="315.50" y="563.02" font-size="13.4" text-anchor="end" fill="#000" stroke="#000" stroke-width="0.2" >0.2</text>
<text x="315.50" y="541.07" font-size="13.4" text-anchor="end" fill="#000" stroke="#000" stroke-width="0.2" >0.6</text>
<text x="476.40" y="573.70" font-size="12.40" text-anchor="start" fill="#000" stroke="#000" stroke-width="0.2" >0</text>
<text x="488.88" y="550.06" font-size="11.93" text-anchor="start" fill="#000" stroke="#000" stroke-width="0.2" >10</text>
<text x="500.06" y="528.89" font-size="11.50" text-anchor="start" fill="#000" stroke="#000" stroke-width="0.2" >20</text>
<text x="510.12" y="509.82" font-size="11.12" text-anchor="start" fill="#000" stroke="#000" stroke-width="0.2" >30</text>
<text x="519.24" y="492.55" font-size="10.77" text-anchor="start" fill="#000" stroke="#000" stroke-width="0.2" >40</text>
<text x="527.53" y="476.85" font-size="10.46" text-anchor="start" fill="#000" stroke="#000" stroke-width="0.2" >50</text>
<text x="535.10" y="462.50" font-size="10.17" text-anchor="start" fill="#000" stroke="#000" stroke-width="0.2" >60</text>
<text x="402.05" y="594.50" font-size="13" text-anchor="middle" fill="#000" stroke="#000" stroke-width="0.2" >Wavelength(&#956;m)</text>
<text x="294.90" y="544.80" font-size="13" text-anchor="middle" fill="#000" stroke="#000" stroke-width="0.2" transform="rotate(-90.00 294.90 544.80)" >Reflectance</text>
<text font-size="12.2" stroke="#000" stroke-width="0.2" text-anchor="middle" transform="translate(527.06,521.58) rotate(-62.17)">Incidence Angle(deg)</text>
<text x="353.00" y="558.00" font-size="14" text-anchor="start" fill="#F5B51A" stroke="#F5B51A" stroke-width="0.2" font-weight="bold" >CH A</text>
<text x="425.00" y="558.00" font-size="14" text-anchor="start" fill="#18A5E0" stroke="#18A5E0" stroke-width="0.2" font-weight="bold" >CH B</text>
<circle cx="671.5" cy="137.0" r="11.90" fill="none" stroke="#d6d6d6" stroke-width="0.8"/>
<circle cx="671.5" cy="137.0" r="23.80" fill="none" stroke="#d6d6d6" stroke-width="0.8"/>
<circle cx="671.5" cy="137.0" r="35.70" fill="none" stroke="#d6d6d6" stroke-width="0.8"/>
<circle cx="671.5" cy="137.0" r="47.60" fill="none" stroke="#d6d6d6" stroke-width="0.8"/>
<circle cx="671.5" cy="137.0" r="59.50" fill="none" stroke="#d6d6d6" stroke-width="0.8"/>
<circle cx="671.5" cy="137.0" r="71.40" fill="none" stroke="#d6d6d6" stroke-width="0.8"/>
<line x1="683.40" y1="137.00" x2="748.00" y2="137.00" stroke="#d6d6d6" stroke-width="0.8" />
<line x1="681.81" y1="131.05" x2="737.75" y2="98.75" stroke="#d6d6d6" stroke-width="0.8" />
<line x1="677.45" y1="126.69" x2="709.75" y2="70.75" stroke="#d6d6d6" stroke-width="0.8" />
<line x1="671.50" y1="125.10" x2="671.50" y2="60.50" stroke="#d6d6d6" stroke-width="0.8" />
<line x1="665.55" y1="126.69" x2="633.25" y2="70.75" stroke="#d6d6d6" stroke-width="0.8" />
<line x1="661.19" y1="131.05" x2="605.25" y2="98.75" stroke="#d6d6d6" stroke-width="0.8" />
<line x1="659.60" y1="137.00" x2="595.00" y2="137.00" stroke="#d6d6d6" stroke-width="0.8" />
<line x1="661.19" y1="142.95" x2="605.25" y2="175.25" stroke="#d6d6d6" stroke-width="0.8" />
<line x1="665.55" y1="147.31" x2="633.25" y2="203.25" stroke="#d6d6d6" stroke-width="0.8" />
<line x1="671.50" y1="148.90" x2="671.50" y2="213.50" stroke="#d6d6d6" stroke-width="0.8" />
<line x1="677.45" y1="147.31" x2="709.75" y2="203.25" stroke="#d6d6d6" stroke-width="0.8" />
<line x1="681.81" y1="142.95" x2="737.75" y2="175.25" stroke="#d6d6d6" stroke-width="0.8" />
<circle cx="671.5" cy="137.0" r="76.5" fill="none" stroke="#6a6a6a" stroke-width="0.9"/>
<text x="752.40" y="140.26" font-size="9.6" text-anchor="middle" fill="#000" stroke="#000" stroke-width="0.2" >0</text>
<text x="744.28" y="96.50" font-size="9.6" text-anchor="middle" fill="#000" stroke="#000" stroke-width="0.2" >30</text>
<text x="715.55" y="67.77" font-size="9.6" text-anchor="middle" fill="#000" stroke="#000" stroke-width="0.2" >60</text>
<text x="671.50" y="57.25" font-size="9.6" text-anchor="middle" fill="#000" stroke="#000" stroke-width="0.2" >90</text>
<text x="625.05" y="67.77" font-size="9.6" text-anchor="middle" fill="#000" stroke="#000" stroke-width="0.2" >120</text>
<text x="596.32" y="96.50" font-size="9.6" text-anchor="middle" fill="#000" stroke="#000" stroke-width="0.2" >150</text>
<text x="585.80" y="140.26" font-size="9.6" text-anchor="middle" fill="#000" stroke="#000" stroke-width="0.2" >180</text>
<text x="596.32" y="184.03" font-size="9.6" text-anchor="middle" fill="#000" stroke="#000" stroke-width="0.2" >210</text>
<text x="625.05" y="212.76" font-size="9.6" text-anchor="middle" fill="#000" stroke="#000" stroke-width="0.2" >240</text>
<text x="671.50" y="223.28" font-size="9.6" text-anchor="middle" fill="#000" stroke="#000" stroke-width="0.2" >270</text>
<text x="717.95" y="212.76" font-size="9.6" text-anchor="middle" fill="#000" stroke="#000" stroke-width="0.2" >300</text>
<text x="746.68" y="184.03" font-size="9.6" text-anchor="middle" fill="#000" stroke="#000" stroke-width="0.2" >330</text>
<path d="M713.5 137.0h0M713.0 133.7h0M712.2 130.6h0M711.2 127.5h0M710.7 124.3h0M710.0 121.1h0M709.0 117.9h0M708.2 114.5h0M707.2 111.0h0M706.2 107.4h0M705.0 103.5h0M703.2 99.9h0M700.9 96.5h0M698.1 93.6h0M694.9 91.0h0M691.4 88.9h0M687.7 87.1h0M683.7 86.0h0M679.7 85.3h0M675.6 85.0h0M671.5 85.0h0M667.3 84.2h0M663.1 83.7h0M658.7 83.5h0M654.2 83.8h0M649.4 83.7h0M644.5 84.0h0M639.7 85.2h0M635.3 87.1h0M631.0 89.6h0M627.0 92.5h0M624.6 97.0h0M622.8 101.6h0M621.4 106.3h0M621.4 111.5h0M621.6 116.3h0M622.0 120.9h0M623.0 125.4h0M624.4 129.5h0M626.5 133.5h0M628.9 137.0h0M631.2 140.2h0M632.8 143.1h0M634.6 145.9h0M636.0 148.5h0M637.2 151.2h0M638.7 153.7h0M639.3 156.8h0M640.0 159.9h0M640.3 163.7h0M640.7 167.8h0M641.7 171.9h0M643.1 176.1h0M645.1 180.2h0M647.6 183.9h0M650.7 187.3h0M654.3 189.8h0M658.3 191.9h0M662.6 193.3h0M667.0 194.3h0M671.5 195.0h0M676.1 195.2h0M680.7 195.1h0M685.3 194.6h0M689.9 193.6h0M694.4 192.2h0M698.7 190.5h0M702.9 188.3h0M706.6 185.4h0M710.1 182.2h0M713.2 178.7h0M715.5 174.6h0M717.5 170.4h0M718.8 166.0h0M719.3 161.3h0M718.9 156.6h0M718.0 152.1h0M716.8 147.9h0M715.9 144.0h0M714.9 140.4h0" stroke="#000000" stroke-width="2.0" stroke-linecap="round" fill="none"/>
<path d="M716.6 137.0h0M717.2 133.4h0M717.5 129.7h0M717.4 126.0h0M717.2 122.1h0M716.9 118.2h0M716.3 114.2h0M715.2 110.2h0M713.8 106.3h0M711.9 102.5h0M709.4 99.1h0M706.4 96.1h0M703.2 93.4h0M699.4 91.4h0M695.6 89.8h0M691.7 88.3h0M687.7 87.2h0M683.6 86.5h0M679.6 86.1h0M675.5 86.1h0M671.5 86.3h0M667.5 86.1h0M663.5 86.3h0M659.4 86.8h0M655.4 87.6h0M651.4 88.5h0M647.3 89.5h0M643.4 91.1h0M639.6 93.1h0M636.5 96.1h0M634.2 99.7h0M632.8 103.9h0M632.7 108.8h0M633.0 113.4h0M633.6 117.7h0M634.3 121.6h0M635.0 125.2h0M635.6 128.4h0M636.5 131.5h0M637.6 134.3h0M638.9 137.0h0M637.9 139.6h0M637.1 142.4h0M636.5 145.4h0M636.3 148.5h0M636.1 151.6h0M635.0 155.6h0M634.3 159.8h0M634.1 164.2h0M634.4 168.7h0M635.3 173.2h0M637.0 177.4h0M639.2 181.4h0M642.0 185.2h0M645.5 188.0h0M649.5 190.2h0M653.8 191.5h0M658.2 192.3h0M662.7 192.8h0M667.1 193.1h0M671.5 193.0h0M675.9 192.4h0M680.1 191.4h0M684.3 190.2h0M688.2 188.4h0M691.9 186.2h0M695.4 183.8h0M698.5 181.1h0M701.4 178.1h0M703.9 175.0h0M706.1 171.6h0M708.0 168.2h0M709.5 164.6h0M710.9 161.1h0M711.9 157.6h0M712.7 154.1h0M713.2 150.5h0M714.3 147.3h0M715.3 143.9h0M716.1 140.5h0" stroke="#ff1a1a" stroke-width="2.0" stroke-linecap="round" fill="none"/>
<path d="M722.0 137.0h0M723.0 132.9h0M723.7 128.7h0M724.1 124.4h0M724.0 119.9h0M724.3 115.1h0M724.6 110.0h0M723.7 105.0h0M721.4 100.8h0M718.1 97.2h0M714.2 94.3h0M709.9 92.0h0M705.5 90.2h0M701.0 88.9h0M696.1 88.7h0M691.4 88.9h0M687.0 89.4h0M682.7 90.2h0M678.8 91.0h0M675.1 91.8h0M671.5 92.8h0M668.1 93.3h0M664.7 94.0h0M661.4 95.1h0M658.3 96.5h0M655.5 98.3h0M652.8 100.3h0M650.4 102.5h0M648.2 105.0h0M647.2 108.6h0M647.0 112.5h0M647.5 116.5h0M648.0 119.9h0M648.7 123.0h0M648.7 125.4h0M648.6 127.5h0M648.8 129.6h0M648.1 131.4h0M647.2 133.1h0M646.3 135.0h0M645.6 137.0h0M642.4 139.3h0M639.4 142.1h0M636.6 145.4h0M634.3 149.1h0M632.3 153.3h0M630.7 157.8h0M629.8 162.5h0M629.5 167.5h0M630.9 171.7h0M633.0 175.5h0M635.6 179.1h0M638.5 182.4h0M641.7 185.6h0M645.2 188.6h0M649.8 189.3h0M654.5 189.4h0M659.0 189.1h0M663.3 188.6h0M667.5 187.9h0M671.5 186.9h0M675.3 185.4h0M678.9 183.6h0M682.2 181.5h0M685.2 179.1h0M687.8 176.3h0M690.2 173.7h0M692.3 171.0h0M694.3 168.4h0M696.3 166.1h0M698.2 163.7h0M700.0 161.4h0M702.1 159.2h0M704.1 156.9h0M705.8 154.5h0M707.6 151.9h0M710.7 149.7h0M713.6 147.1h0M716.4 144.1h0M719.1 140.7h0" stroke="#22ee22" stroke-width="2.0" stroke-linecap="round" fill="none"/>
<path d="M724.5 137.0h0M726.6 132.7h0M728.0 128.0h0M728.2 123.4h0M727.9 118.7h0M727.3 113.9h0M726.6 108.9h0M725.4 103.9h0M723.0 99.6h0M719.9 95.7h0M715.1 93.4h0M710.3 91.6h0M705.0 90.9h0M699.7 91.0h0M694.7 91.5h0M689.7 93.1h0M685.2 94.9h0M681.3 96.3h0M677.7 98.0h0M674.4 99.6h0M671.5 100.3h0M668.7 101.2h0M666.0 102.1h0M663.4 103.3h0M661.0 104.7h0M658.8 106.4h0M657.3 109.2h0M656.2 112.1h0M656.1 115.8h0M656.5 119.4h0M657.4 122.9h0M657.8 125.3h0M658.3 127.4h0M659.1 129.4h0M660.0 131.1h0M658.9 131.8h0M656.9 132.2h0M654.8 133.0h0M652.3 134.0h0M648.9 135.2h0M645.6 137.0h0M640.8 139.4h0M636.3 142.6h0M632.2 146.4h0M629.6 150.6h0M627.4 155.3h0M625.6 160.4h0M625.6 165.1h0M626.2 169.9h0M627.7 174.4h0M630.3 178.2h0M633.2 181.9h0M637.5 183.9h0M641.9 185.2h0M646.4 186.2h0M651.4 185.6h0M656.1 184.4h0M660.4 183.2h0M664.4 181.6h0M668.1 179.7h0M671.5 177.5h0M674.5 174.7h0M677.0 171.7h0M679.1 168.6h0M680.8 165.6h0M682.4 163.3h0M683.7 161.0h0M684.7 158.6h0M685.4 156.2h0M686.1 154.1h0M688.5 154.0h0M690.9 153.6h0M693.4 152.9h0M697.3 152.8h0M701.7 152.4h0M706.1 151.3h0M709.5 149.4h0M712.9 146.9h0M717.0 144.2h0M721.2 140.9h0" stroke="#1a1aff" stroke-width="2.0" stroke-linecap="round" fill="none"/>
<path d="M723.5 137.0h0M726.1 128.4h0M726.7 119.1h0M726.3 109.1h0M723.1 99.5h0M714.5 94.0h0M702.5 94.3h0M691.6 97.6h0M682.8 102.3h0M676.3 106.9h0M671.5 110.5h0M667.7 112.8h0M664.5 115.3h0M661.9 118.2h0M660.0 121.2h0M658.0 123.5h0M656.3 126.0h0M654.0 128.1h0M650.0 130.0h0M646.2 133.0h0M639.3 137.0h0M633.2 143.1h0M628.4 151.0h0M626.3 160.0h0M626.1 170.0h0M631.0 177.5h0M640.2 180.1h0M649.2 180.9h0M658.7 176.4h0M666.0 172.0h0M671.5 165.9h0M675.0 159.1h0M677.4 155.2h0M678.8 151.3h0M679.1 147.4h0M685.1 150.6h0M693.1 152.7h0M701.3 152.2h0M710.8 149.8h0M718.5 144.4h0" stroke="#ee22ee" stroke-width="2.0" stroke-linecap="round" fill="none"/>
<path d="M721.1 137.0h0M722.4 133.0h0M723.3 128.8h0M724.4 124.3h0M725.0 119.6h0M725.3 114.7h0M723.8 110.3h0M721.9 106.1h0M718.9 102.5h0M715.3 99.6h0M710.3 98.2h0M704.4 98.5h0M698.6 99.7h0M693.1 101.8h0M688.1 104.4h0M684.0 106.9h0M680.6 109.1h0M677.6 111.6h0M675.0 114.8h0M673.0 118.3h0M671.5 121.9h0M670.4 122.5h0M668.9 120.7h0M667.2 119.0h0M665.2 117.5h0M663.0 116.5h0M660.8 116.0h0M658.4 115.7h0M655.8 115.4h0M653.1 115.4h0M650.3 115.8h0M647.7 116.6h0M645.1 117.8h0M642.9 119.4h0M640.9 121.4h0M639.4 123.7h0M638.1 126.1h0M637.2 128.8h0M636.6 131.5h0M636.2 134.2h0M633.2 137.0h0M630.4 140.2h0M628.0 143.9h0M626.7 147.8h0M625.8 151.8h0M625.4 156.1h0M625.4 160.5h0M627.1 164.2h0M629.5 167.5h0M632.7 170.2h0M636.0 172.5h0M639.8 174.2h0M645.1 173.3h0M650.2 171.8h0M654.4 170.5h0M658.2 169.0h0M661.7 167.1h0M665.3 162.6h0M668.4 156.4h0M670.3 151.9h0M671.5 149.9h0M672.3 147.8h0M672.9 145.6h0M673.3 144.7h0M674.5 146.1h0M675.8 147.5h0M677.4 148.7h0M679.3 149.6h0M681.9 151.4h0M685.9 153.9h0M690.3 155.8h0M694.6 156.7h0M697.5 155.9h0M700.5 154.8h0M703.5 153.3h0M706.4 151.4h0M709.9 149.5h0M713.6 147.1h0M717.3 144.2h0M719.5 140.8h0" stroke="#22eeee" stroke-width="2.0" stroke-linecap="round" fill="none"/>
<path d="M717.5 137.0h0M717.5 133.4h0M717.2 129.8h0M716.6 126.2h0M716.2 122.5h0M715.4 118.8h0M714.5 115.1h0M712.9 111.6h0M710.4 108.7h0M706.7 106.9h0M702.4 106.1h0M697.7 106.3h0M693.3 106.9h0M688.8 108.7h0M684.3 111.8h0M680.5 115.4h0M677.4 118.9h0M675.0 122.5h0M673.5 124.5h0M672.3 126.7h0M671.5 129.0h0M670.8 128.1h0M670.0 127.3h0M669.0 126.6h0M667.7 125.4h0M665.9 123.5h0M663.1 120.4h0M655.5 110.9h0M648.9 105.9h0M644.6 105.5h0M640.6 106.1h0M636.5 107.1h0M632.2 108.4h0M628.8 110.8h0M626.2 113.9h0M624.4 117.5h0M623.3 121.3h0M622.7 125.3h0M622.7 129.3h0M622.5 133.1h0M622.3 137.0h0M623.6 140.8h0M624.7 144.4h0M626.0 147.9h0M627.5 151.3h0M629.3 154.5h0M631.2 157.5h0M633.4 160.3h0M635.8 162.9h0M638.4 165.3h0M641.8 166.7h0M646.8 166.0h0M651.5 164.5h0M656.6 161.3h0M661.1 157.5h0M664.7 153.5h0M667.3 149.8h0M668.8 148.3h0M670.0 146.6h0M670.9 144.8h0M671.5 142.9h0M672.1 144.7h0M673.0 146.5h0M674.2 148.2h0M675.6 149.7h0M677.3 151.1h0M679.3 152.2h0M684.0 157.3h0M691.5 164.5h0M696.6 166.4h0M700.7 166.2h0M704.7 165.4h0M708.7 164.0h0M712.6 162.2h0M714.0 158.7h0M715.2 155.1h0M716.0 151.5h0M716.6 147.8h0M717.1 144.2h0M717.5 140.6h0" stroke="#ff9922" stroke-width="2.0" stroke-linecap="round" fill="none"/>
<circle cx="770.4" cy="139.60" r="0.95" fill="#000000"/>
<text x="781.90" y="143.00" font-size="10" text-anchor="start" fill="#000" stroke="#000" stroke-width="0.2" >0&#176;</text>
<circle cx="770.4" cy="151.75" r="0.95" fill="#ff1a1a"/>
<text x="781.90" y="155.15" font-size="10" text-anchor="start" fill="#000" stroke="#000" stroke-width="0.2" >15&#176;</text>
<circle cx="770.4" cy="163.90" r="0.95" fill="#22ee22"/>
<text x="781.90" y="167.30" font-size="10" text-anchor="start" fill="#000" stroke="#000" stroke-width="0.2" >30&#176;</text>
<circle cx="770.4" cy="176.05" r="0.95" fill="#1a1aff"/>
<text x="781.90" y="179.45" font-size="10" text-anchor="start" fill="#000" stroke="#000" stroke-width="0.2" >45&#176;</text>
<circle cx="770.4" cy="188.20" r="0.95" fill="#ee22ee"/>
<text x="781.90" y="191.60" font-size="10" text-anchor="start" fill="#000" stroke="#000" stroke-width="0.2" >60&#176;</text>
<circle cx="770.4" cy="200.35" r="0.95" fill="#22eeee"/>
<text x="781.90" y="203.75" font-size="10" text-anchor="start" fill="#000" stroke="#000" stroke-width="0.2" >75&#176;</text>
<circle cx="770.4" cy="212.50" r="0.95" fill="#ff9922"/>
<text x="781.90" y="215.90" font-size="10" text-anchor="start" fill="#000" stroke="#000" stroke-width="0.2" >90&#176;</text>
<circle cx="893.8" cy="137.0" r="8.20" fill="none" stroke="#d6d6d6" stroke-width="0.8"/>
<circle cx="893.8" cy="137.0" r="16.40" fill="none" stroke="#d6d6d6" stroke-width="0.8"/>
<circle cx="893.8" cy="137.0" r="24.60" fill="none" stroke="#d6d6d6" stroke-width="0.8"/>
<circle cx="893.8" cy="137.0" r="32.80" fill="none" stroke="#d6d6d6" stroke-width="0.8"/>
<circle cx="893.8" cy="137.0" r="41.00" fill="none" stroke="#d6d6d6" stroke-width="0.8"/>
<circle cx="893.8" cy="137.0" r="49.20" fill="none" stroke="#d6d6d6" stroke-width="0.8"/>
<circle cx="893.8" cy="137.0" r="57.40" fill="none" stroke="#d6d6d6" stroke-width="0.8"/>
<circle cx="893.8" cy="137.0" r="65.60" fill="none" stroke="#d6d6d6" stroke-width="0.8"/>
<circle cx="893.8" cy="137.0" r="73.80" fill="none" stroke="#d6d6d6" stroke-width="0.8"/>
<line x1="902.00" y1="137.00" x2="970.50" y2="137.00" stroke="#d6d6d6" stroke-width="0.8" />
<line x1="900.90" y1="132.90" x2="960.22" y2="98.65" stroke="#d6d6d6" stroke-width="0.8" />
<line x1="897.90" y1="129.90" x2="932.15" y2="70.58" stroke="#d6d6d6" stroke-width="0.8" />
<line x1="893.80" y1="128.80" x2="893.80" y2="60.30" stroke="#d6d6d6" stroke-width="0.8" />
<line x1="889.70" y1="129.90" x2="855.45" y2="70.58" stroke="#d6d6d6" stroke-width="0.8" />
<line x1="886.70" y1="132.90" x2="827.38" y2="98.65" stroke="#d6d6d6" stroke-width="0.8" />
<line x1="885.60" y1="137.00" x2="817.10" y2="137.00" stroke="#d6d6d6" stroke-width="0.8" />
<line x1="886.70" y1="141.10" x2="827.38" y2="175.35" stroke="#d6d6d6" stroke-width="0.8" />
<line x1="889.70" y1="144.10" x2="855.45" y2="203.42" stroke="#d6d6d6" stroke-width="0.8" />
<line x1="893.80" y1="145.20" x2="893.80" y2="213.70" stroke="#d6d6d6" stroke-width="0.8" />
<line x1="897.90" y1="144.10" x2="932.15" y2="203.42" stroke="#d6d6d6" stroke-width="0.8" />
<line x1="900.90" y1="141.10" x2="960.22" y2="175.35" stroke="#d6d6d6" stroke-width="0.8" />
<circle cx="893.8" cy="137.0" r="76.7" fill="none" stroke="#6a6a6a" stroke-width="0.9"/>
<text x="974.90" y="140.26" font-size="9.6" text-anchor="middle" fill="#000" stroke="#000" stroke-width="0.2" >0</text>
<text x="966.76" y="96.40" font-size="9.6" text-anchor="middle" fill="#000" stroke="#000" stroke-width="0.2" >30</text>
<text x="937.95" y="67.60" font-size="9.6" text-anchor="middle" fill="#000" stroke="#000" stroke-width="0.2" >60</text>
<text x="893.80" y="57.05" font-size="9.6" text-anchor="middle" fill="#000" stroke="#000" stroke-width="0.2" >90</text>
<text x="847.25" y="67.60" font-size="9.6" text-anchor="middle" fill="#000" stroke="#000" stroke-width="0.2" >120</text>
<text x="818.44" y="96.40" font-size="9.6" text-anchor="middle" fill="#000" stroke="#000" stroke-width="0.2" >150</text>
<text x="807.90" y="140.26" font-size="9.6" text-anchor="middle" fill="#000" stroke="#000" stroke-width="0.2" >180</text>
<text x="818.44" y="184.13" font-size="9.6" text-anchor="middle" fill="#000" stroke="#000" stroke-width="0.2" >210</text>
<text x="847.25" y="212.93" font-size="9.6" text-anchor="middle" fill="#000" stroke="#000" stroke-width="0.2" >240</text>
<text x="893.80" y="223.48" font-size="9.6" text-anchor="middle" fill="#000" stroke="#000" stroke-width="0.2" >270</text>
<text x="940.35" y="212.93" font-size="9.6" text-anchor="middle" fill="#000" stroke="#000" stroke-width="0.2" >300</text>
<text x="969.16" y="184.13" font-size="9.6" text-anchor="middle" fill="#000" stroke="#000" stroke-width="0.2" >330</text>
<path d="M923.4 137.0h0M923.7 134.6h0M924.0 132.2h0M925.3 129.4h0M926.9 126.2h0M928.8 122.5h0M930.9 118.1h0M933.4 112.7h0M935.0 107.1h0M936.0 100.9h0M935.8 95.0h0M934.4 89.5h0M931.7 84.9h0M928.3 80.8h0M924.4 76.9h0M919.6 74.8h0M914.6 72.8h0M909.4 71.9h0M904.3 70.9h0M899.0 70.6h0M893.8 70.2h0M888.5 70.2h0M883.2 70.2h0M877.8 70.4h0M872.3 70.9h0M867.0 72.2h0M862.1 74.7h0M857.4 77.6h0M853.7 81.8h0M851.0 86.8h0M849.3 92.5h0M849.5 99.1h0M850.8 105.8h0M852.6 111.7h0M854.9 117.2h0M857.7 122.1h0M860.7 126.2h0M862.7 129.5h0M864.3 132.3h0M866.0 134.8h0M867.5 137.0h0M866.2 139.2h0M864.9 141.6h0M863.5 144.3h0M862.0 147.3h0M860.2 150.9h0M858.2 155.1h0M855.9 160.2h0M854.4 165.6h0M853.8 171.1h0M854.3 176.5h0M855.8 181.5h0M858.4 185.7h0M862.0 189.0h0M866.2 191.1h0M870.8 192.5h0M875.5 193.4h0M880.1 194.0h0M884.7 194.4h0M889.3 194.6h0M893.8 194.9h0M898.4 195.0h0M903.0 195.0h0M907.7 195.0h0M912.6 194.8h0M917.6 194.4h0M922.4 193.0h0M927.1 191.3h0M930.9 188.0h0M933.8 183.8h0M935.8 179.0h0M937.2 174.1h0M937.2 168.6h0M935.4 162.5h0M932.6 156.7h0M929.4 151.8h0M927.1 147.8h0M925.5 144.6h0M924.5 141.9h0M923.9 139.4h0" stroke="#000000" stroke-width="2" stroke-linecap="round" fill="none"/>
<path d="M922.0 137.0h0M922.5 134.7h0M923.0 132.4h0M923.8 129.8h0M925.3 126.8h0M927.2 123.2h0M929.6 118.7h0M931.9 113.6h0M933.7 108.0h0M935.0 101.8h0M934.9 95.9h0M933.6 90.4h0M931.1 85.7h0M927.6 81.8h0M923.3 79.1h0M918.6 77.2h0M913.7 75.8h0M908.6 75.2h0M903.7 74.7h0M898.7 74.6h0M893.8 74.5h0M888.9 74.7h0M884.0 75.1h0M879.1 75.9h0M874.3 77.0h0M869.5 78.3h0M865.0 80.4h0M860.9 83.4h0M857.6 87.2h0M855.4 92.0h0M854.5 97.7h0M855.2 104.0h0M856.5 109.9h0M858.5 115.4h0M860.9 120.3h0M862.9 124.2h0M864.8 127.6h0M867.0 130.6h0M868.5 133.0h0M869.8 135.1h0M870.9 137.0h0M870.1 138.9h0M869.2 140.9h0M868.2 143.2h0M866.9 145.8h0M865.3 148.8h0M863.5 152.4h0M861.6 156.7h0M860.2 161.4h0M859.8 166.0h0M860.1 170.7h0M861.2 175.2h0M863.2 179.2h0M865.7 182.8h0M869.0 185.7h0M872.9 187.4h0M877.0 188.6h0M881.2 189.4h0M885.4 189.9h0M889.6 190.3h0M893.8 190.9h0M898.1 191.5h0M902.6 192.4h0M907.3 193.3h0M912.1 193.3h0M917.1 193.3h0M921.8 192.0h0M926.4 190.2h0M930.3 187.3h0M933.3 183.2h0M935.2 178.4h0M936.2 173.2h0M935.8 167.5h0M934.1 161.7h0M931.3 156.1h0M928.5 151.4h0M926.3 147.5h0M924.7 144.4h0M923.6 141.7h0M922.8 139.3h0" stroke="#ff1a1a" stroke-width="2" stroke-linecap="round" fill="none"/>
<path d="M919.3 137.0h0M920.1 134.9h0M920.9 132.7h0M921.6 130.3h0M922.5 127.7h0M923.8 124.6h0M925.6 120.8h0M927.7 116.3h0M928.8 111.5h0M929.5 106.5h0M928.8 102.0h0M927.1 98.0h0M924.6 94.6h0M921.6 91.6h0M918.1 89.2h0M914.2 87.7h0M910.1 86.9h0M905.9 86.5h0M901.8 86.3h0M897.8 86.3h0M893.8 86.3h0M889.8 86.7h0M885.9 87.0h0M881.9 87.5h0M878.0 88.3h0M874.3 89.8h0M870.9 92.0h0M868.0 95.0h0M865.8 98.5h0M864.3 102.4h0M863.4 106.6h0M863.4 111.0h0M864.4 115.7h0M866.4 120.2h0M868.5 124.1h0M870.6 127.4h0M872.9 130.2h0M874.8 132.4h0M876.2 134.2h0M877.4 135.7h0M878.4 137.0h0M877.7 138.3h0M876.9 139.7h0M875.9 141.3h0M875.0 143.1h0M873.9 145.2h0M872.7 147.8h0M871.4 150.7h0M870.0 154.3h0M869.5 157.7h0M869.5 161.3h0M870.4 164.4h0M871.6 167.5h0M873.4 170.4h0M875.5 172.9h0M878.1 174.9h0M880.9 176.7h0M883.9 178.1h0M887.1 179.2h0M890.4 180.0h0M893.8 181.3h0M897.4 182.3h0M901.1 183.4h0M905.2 184.3h0M909.4 184.9h0M913.8 185.3h0M918.1 184.6h0M922.3 183.5h0M926.1 181.4h0M929.3 178.5h0M931.9 175.1h0M933.5 170.9h0M933.6 165.9h0M931.9 160.3h0M928.6 154.7h0M924.3 149.6h0M922.5 146.3h0M921.4 143.6h0M920.5 141.2h0M919.9 139.1h0" stroke="#22ee22" stroke-width="2" stroke-linecap="round" fill="none"/>
<path d="M913.9 137.0h0M914.0 135.4h0M914.2 133.8h0M914.4 132.0h0M915.0 130.1h0M916.0 127.8h0M917.2 125.1h0M918.6 121.8h0M919.4 118.4h0M919.5 115.0h0M918.8 112.0h0M917.5 109.3h0M915.4 107.3h0M913.2 105.4h0M910.4 104.4h0M907.7 103.3h0M904.9 102.9h0M902.1 102.4h0M899.3 102.3h0M896.5 102.5h0M893.8 102.8h0M891.2 104.0h0M888.6 104.1h0M886.0 104.5h0M883.4 105.1h0M881.0 106.1h0M878.8 107.5h0M876.8 109.2h0M875.3 111.6h0M874.8 114.7h0M875.2 118.4h0M876.6 122.3h0M878.8 126.1h0M880.8 129.1h0M882.8 131.4h0M884.0 132.9h0M884.4 134.0h0M884.9 134.9h0M885.2 135.6h0M885.6 136.4h0M885.9 137.0h0M885.3 137.7h0M884.7 138.4h0M884.0 139.3h0M883.1 140.5h0M882.5 141.7h0M881.8 143.1h0M880.9 144.9h0M880.4 146.7h0M880.3 148.5h0M880.2 150.6h0M880.2 152.9h0M880.8 154.9h0M881.5 157.1h0M882.5 159.1h0M884.0 160.8h0M885.5 162.5h0M887.3 164.0h0M889.3 165.7h0M891.5 166.3h0M893.8 167.0h0M896.3 168.2h0M898.9 169.5h0M901.9 170.7h0M905.0 171.4h0M908.3 172.1h0M911.7 172.1h0M915.0 171.6h0M918.0 170.3h0M920.4 168.2h0M922.3 165.5h0M923.3 162.2h0M924.0 159.0h0M923.2 155.0h0M921.8 151.3h0M919.6 147.7h0M917.7 144.8h0M916.3 142.4h0M915.3 140.4h0M914.5 138.6h0" stroke="#1a1aff" stroke-width="2" stroke-linecap="round" fill="none"/>
<path d="M907.0 137.0h0M907.3 134.9h0M908.0 132.4h0M909.0 129.2h0M909.1 125.9h0M908.5 122.3h0M906.1 120.1h0M903.2 118.5h0M899.9 118.2h0M896.8 118.2h0M893.8 118.2h0M890.9 118.8h0M888.1 119.4h0M885.9 121.6h0M885.0 124.9h0M885.3 128.5h0M887.2 132.2h0M889.4 134.8h0M890.1 135.8h0M890.6 136.5h0M891.0 137.0h0M891.2 137.4h0M891.1 137.9h0M890.7 138.6h0M890.1 139.7h0M889.4 141.4h0M888.6 144.2h0M889.1 146.2h0M890.1 148.4h0M891.6 150.7h0M893.8 153.3h0M896.8 155.7h0M900.3 157.1h0M904.4 157.9h0M908.7 157.5h0M911.9 155.1h0M912.5 150.6h0M910.1 145.3h0M908.2 141.7h0M907.3 139.1h0" stroke="#ee22ee" stroke-width="2" stroke-linecap="round" fill="none"/>
<path d="M902.8 137.0h0M902.7 136.2h0M902.5 135.5h0M902.4 134.7h0M902.2 133.9h0M901.7 133.3h0M901.2 132.7h0M900.7 132.1h0M900.3 131.6h0M899.8 131.0h0M899.1 130.7h0M898.4 130.4h0M897.8 130.1h0M897.1 129.9h0M896.5 129.6h0M895.8 129.6h0M895.1 129.7h0M894.4 129.9h0M893.8 130.0h0M893.3 131.8h0M893.1 132.9h0M892.9 133.6h0M892.8 134.2h0M892.7 134.7h0M892.7 135.1h0M892.7 135.4h0M892.6 135.6h0M892.6 135.8h0M892.6 136.0h0M892.6 136.1h0M892.6 136.3h0M892.6 136.4h0M892.5 136.5h0M892.5 136.7h0M892.5 136.8h0M892.5 136.9h0M892.5 137.0h0M892.5 137.1h0M892.5 137.2h0M892.5 137.4h0M892.5 137.5h0M892.4 137.6h0M892.4 137.8h0M892.4 138.0h0M892.4 138.2h0M892.4 138.4h0M892.3 138.8h0M892.3 139.1h0M892.4 139.5h0M892.4 140.0h0M892.5 140.6h0M892.6 141.5h0M892.8 142.8h0M893.2 143.4h0M893.8 144.0h0M894.5 144.7h0M895.3 145.5h0M896.2 145.9h0M897.0 145.8h0M897.8 145.7h0M898.7 145.5h0M899.3 144.9h0M899.9 144.2h0M900.4 143.6h0M900.9 143.0h0M901.5 142.4h0M901.9 141.7h0M902.0 140.8h0M902.2 140.1h0M902.3 139.3h0M902.5 138.5h0M902.6 137.8h0" stroke="#70f0f0" stroke-width="1.1" stroke-linecap="round" fill="none"/>
<path d="M896.8 137.0h0M896.0 135.7h0M894.5 135.7h0M893.8 137.0h0M893.8 137.0h0M893.8 137.0h0M893.8 137.0h0M893.8 137.0h0M893.8 137.0h0M894.5 138.3h0M896.0 138.3h0" stroke="#ffb060" stroke-width="1.0" stroke-linecap="round" fill="none"/>
<circle cx="993" cy="139.80" r="0.95" fill="#000000"/>
<text x="1004.50" y="143.20" font-size="10" text-anchor="start" fill="#000" stroke="#000" stroke-width="0.2" >0&#176;</text>
<circle cx="993" cy="151.87" r="0.95" fill="#ff1a1a"/>
<text x="1004.50" y="155.27" font-size="10" text-anchor="start" fill="#000" stroke="#000" stroke-width="0.2" >15&#176;</text>
<circle cx="993" cy="163.94" r="0.95" fill="#22ee22"/>
<text x="1004.50" y="167.34" font-size="10" text-anchor="start" fill="#000" stroke="#000" stroke-width="0.2" >30&#176;</text>
<circle cx="993" cy="176.01" r="0.95" fill="#1a1aff"/>
<text x="1004.50" y="179.41" font-size="10" text-anchor="start" fill="#000" stroke="#000" stroke-width="0.2" >45&#176;</text>
<circle cx="993" cy="188.08" r="0.95" fill="#ee22ee"/>
<text x="1004.50" y="191.48" font-size="10" text-anchor="start" fill="#000" stroke="#000" stroke-width="0.2" >60&#176;</text>
<circle cx="993" cy="200.15" r="0.95" fill="#22eeee"/>
<text x="1004.50" y="203.55" font-size="10" text-anchor="start" fill="#000" stroke="#000" stroke-width="0.2" >75&#176;</text>
<circle cx="993" cy="212.22" r="0.95" fill="#ff9922"/>
<text x="1004.50" y="215.62" font-size="10" text-anchor="start" fill="#000" stroke="#000" stroke-width="0.2" >90&#176;</text>
<circle cx="671.5" cy="323.75" r="12.33" fill="none" stroke="#d6d6d6" stroke-width="0.8"/>
<circle cx="671.5" cy="323.75" r="24.67" fill="none" stroke="#d6d6d6" stroke-width="0.8"/>
<circle cx="671.5" cy="323.75" r="37.00" fill="none" stroke="#d6d6d6" stroke-width="0.8"/>
<circle cx="671.5" cy="323.75" r="49.33" fill="none" stroke="#d6d6d6" stroke-width="0.8"/>
<circle cx="671.5" cy="323.75" r="61.67" fill="none" stroke="#d6d6d6" stroke-width="0.8"/>
<circle cx="671.5" cy="323.75" r="74.00" fill="none" stroke="#d6d6d6" stroke-width="0.8"/>
<line x1="683.83" y1="323.75" x2="747.50" y2="323.75" stroke="#d6d6d6" stroke-width="0.8" />
<line x1="682.18" y1="317.58" x2="737.32" y2="285.75" stroke="#d6d6d6" stroke-width="0.8" />
<line x1="677.67" y1="313.07" x2="709.50" y2="257.93" stroke="#d6d6d6" stroke-width="0.8" />
<line x1="671.50" y1="311.42" x2="671.50" y2="247.75" stroke="#d6d6d6" stroke-width="0.8" />
<line x1="665.33" y1="313.07" x2="633.50" y2="257.93" stroke="#d6d6d6" stroke-width="0.8" />
<line x1="660.82" y1="317.58" x2="605.68" y2="285.75" stroke="#d6d6d6" stroke-width="0.8" />
<line x1="659.17" y1="323.75" x2="595.50" y2="323.75" stroke="#d6d6d6" stroke-width="0.8" />
<line x1="660.82" y1="329.92" x2="605.68" y2="361.75" stroke="#d6d6d6" stroke-width="0.8" />
<line x1="665.33" y1="334.43" x2="633.50" y2="389.57" stroke="#d6d6d6" stroke-width="0.8" />
<line x1="671.50" y1="336.08" x2="671.50" y2="399.75" stroke="#d6d6d6" stroke-width="0.8" />
<line x1="677.67" y1="334.43" x2="709.50" y2="389.57" stroke="#d6d6d6" stroke-width="0.8" />
<line x1="682.18" y1="329.92" x2="737.32" y2="361.75" stroke="#d6d6d6" stroke-width="0.8" />
<circle cx="671.5" cy="323.75" r="76" fill="none" stroke="#6a6a6a" stroke-width="0.9"/>
<text x="751.90" y="327.01" font-size="9.6" text-anchor="middle" fill="#000" stroke="#000" stroke-width="0.2" >0</text>
<text x="743.85" y="283.50" font-size="9.6" text-anchor="middle" fill="#000" stroke="#000" stroke-width="0.2" >30</text>
<text x="715.30" y="254.95" font-size="9.6" text-anchor="middle" fill="#000" stroke="#000" stroke-width="0.2" >60</text>
<text x="671.50" y="244.50" font-size="9.6" text-anchor="middle" fill="#000" stroke="#000" stroke-width="0.2" >90</text>
<text x="625.30" y="254.95" font-size="9.6" text-anchor="middle" fill="#000" stroke="#000" stroke-width="0.2" >120</text>
<text x="596.75" y="283.50" font-size="9.6" text-anchor="middle" fill="#000" stroke="#000" stroke-width="0.2" >150</text>
<text x="586.30" y="327.01" font-size="9.6" text-anchor="middle" fill="#000" stroke="#000" stroke-width="0.2" >180</text>
<text x="596.75" y="370.53" font-size="9.6" text-anchor="middle" fill="#000" stroke="#000" stroke-width="0.2" >210</text>
<text x="625.30" y="399.08" font-size="9.6" text-anchor="middle" fill="#000" stroke="#000" stroke-width="0.2" >240</text>
<text x="671.50" y="409.53" font-size="9.6" text-anchor="middle" fill="#000" stroke="#000" stroke-width="0.2" >270</text>
<text x="717.70" y="399.08" font-size="9.6" text-anchor="middle" fill="#000" stroke="#000" stroke-width="0.2" >300</text>
<text x="746.25" y="370.53" font-size="9.6" text-anchor="middle" fill="#000" stroke="#000" stroke-width="0.2" >330</text>
<path d="M721.8 323.8h0M721.6 319.8h0M721.1 315.9h0M720.3 312.0h0M719.4 308.2h0M718.7 304.2h0M717.6 300.3h0M716.2 296.3h0M714.7 292.4h0M712.8 288.5h0M710.6 284.7h0M708.0 281.0h0M705.2 277.4h0M702.0 273.9h0M698.4 270.9h0M694.5 268.2h0M690.2 266.3h0M685.6 264.8h0M681.0 263.8h0M676.3 263.1h0M671.5 262.9h0M666.7 262.3h0M661.7 262.1h0M656.6 261.7h0M651.3 261.4h0M645.8 261.6h0M640.2 262.3h0M634.6 263.6h0M629.3 265.6h0M624.2 268.3h0M619.9 272.2h0M616.3 276.6h0M613.7 281.8h0M612.1 287.4h0M611.5 293.2h0M612.2 299.2h0M613.2 304.8h0M614.2 310.0h0M615.2 314.8h0M616.1 319.4h0M617.2 323.8h0M618.5 327.9h0M620.3 331.9h0M622.4 335.5h0M625.0 338.9h0M627.9 341.8h0M631.2 344.3h0M633.7 346.9h0M634.1 350.9h0M634.5 355.4h0M634.9 360.3h0M636.0 365.3h0M637.4 370.7h0M639.5 375.9h0M642.6 380.5h0M646.4 384.3h0M651.0 386.7h0M655.9 388.8h0M660.9 390.5h0M666.1 391.8h0M671.5 392.8h0M677.0 393.1h0M682.5 393.0h0M688.0 392.5h0M693.5 391.5h0M699.0 390.1h0M704.3 388.2h0M709.6 385.9h0M714.1 382.4h0M718.4 378.6h0M721.6 373.9h0M724.5 369.0h0M725.9 363.2h0M726.6 357.5h0M726.8 351.9h0M726.4 346.5h0M725.5 341.3h0M724.5 336.5h0M724.0 332.1h0M723.1 327.8h0" stroke="#000000" stroke-width="2.0" stroke-linecap="round" fill="none"/>
<path d="M721.0 323.8h0M720.8 319.9h0M720.3 316.0h0M719.6 312.2h0M718.7 308.4h0M717.9 304.5h0M716.9 300.6h0M715.5 296.8h0M713.7 293.1h0M711.7 289.4h0M709.5 285.8h0M707.0 282.2h0M704.2 278.7h0M701.2 275.3h0M697.7 272.3h0M693.9 269.7h0M689.7 267.8h0M685.3 266.4h0M680.8 265.3h0M676.1 264.7h0M671.5 264.4h0M666.8 263.9h0M662.0 263.6h0M657.0 263.3h0M651.7 263.0h0M646.4 263.1h0M640.9 263.7h0M635.5 265.0h0M630.2 266.9h0M625.2 269.5h0M621.1 273.3h0M617.6 277.7h0M615.0 282.7h0M613.5 288.2h0M613.0 293.9h0M613.7 299.8h0M614.7 305.3h0M615.7 310.4h0M616.8 315.1h0M617.7 319.5h0M618.5 323.8h0M619.4 327.9h0M621.1 331.7h0M623.2 335.3h0M627.6 338.0h0M632.6 339.9h0M632.9 343.4h0M633.5 347.0h0M634.5 350.6h0M635.8 354.2h0M637.2 358.1h0M638.7 362.1h0M640.7 366.1h0M643.3 369.8h0M646.5 372.8h0M650.0 375.7h0M653.9 378.1h0M658.0 379.8h0M662.4 381.2h0M666.9 382.3h0M671.5 383.1h0M676.2 383.6h0M681.0 383.9h0M685.9 383.7h0M690.8 383.2h0M695.7 382.2h0M700.5 380.7h0M705.1 378.6h0M709.5 376.1h0M713.6 373.1h0M717.4 369.7h0M720.9 366.0h0M723.1 361.2h0M724.8 356.4h0M725.5 351.3h0M725.2 346.0h0M724.4 340.9h0M723.6 336.3h0M723.1 331.9h0M722.2 327.7h0" stroke="#ff1a1a" stroke-width="2.0" stroke-linecap="round" fill="none"/>
<path d="M720.8 323.8h0M720.6 319.9h0M720.1 316.0h0M719.4 312.3h0M718.5 308.5h0M717.7 304.6h0M716.7 300.7h0M715.1 297.0h0M713.0 293.6h0M710.7 290.3h0M708.3 286.9h0M706.0 283.4h0M703.3 280.0h0M700.4 276.6h0M697.0 273.7h0M693.3 271.2h0M689.2 269.4h0M684.9 267.9h0M680.5 266.9h0M676.0 266.3h0M671.5 266.1h0M666.9 265.5h0M662.2 265.2h0M657.4 264.9h0M652.2 264.5h0M647.0 264.6h0M641.6 265.1h0M636.3 266.3h0M631.2 268.2h0M626.2 270.8h0M622.2 274.4h0M618.8 278.7h0M616.3 283.7h0M614.9 289.0h0M614.4 294.6h0M615.2 300.4h0M616.2 305.8h0M617.3 310.7h0M618.1 315.3h0M617.6 319.5h0M618.2 323.8h0M619.5 327.8h0M621.3 331.7h0M623.4 335.3h0M626.9 338.2h0M631.1 340.5h0M633.7 343.0h0M634.4 346.5h0M635.5 349.9h0M636.9 353.3h0M638.6 356.6h0M640.6 359.9h0M643.0 362.9h0M645.7 365.8h0M648.7 368.5h0M652.0 370.9h0M655.5 372.9h0M659.3 374.6h0M663.2 376.1h0M667.3 377.2h0M671.5 378.1h0M675.8 378.5h0M680.2 378.7h0M684.6 378.5h0M689.1 377.9h0M693.6 377.0h0M698.0 375.7h0M702.4 374.1h0M706.6 372.1h0M710.8 369.8h0M714.4 366.7h0M717.6 363.1h0M720.4 359.3h0M722.7 355.1h0M723.3 350.1h0M723.4 345.3h0M723.1 340.5h0M722.7 336.0h0M722.4 331.8h0M721.8 327.7h0" stroke="#22ee22" stroke-width="2.0" stroke-linecap="round" fill="none"/>
<path d="M721.0 323.8h0M720.7 319.9h0M720.2 316.0h0M719.3 312.3h0M718.1 308.6h0M716.9 304.9h0M715.6 301.3h0M713.9 297.7h0M712.0 294.3h0M709.9 290.9h0M707.6 287.7h0M704.9 284.6h0M701.9 281.9h0M698.7 279.4h0M695.3 277.1h0M691.7 275.1h0M687.9 273.4h0M683.9 272.0h0M679.9 270.8h0M675.7 269.9h0M671.5 269.4h0M667.2 268.7h0M662.7 268.5h0M658.3 268.6h0M653.6 268.6h0M648.7 268.8h0M643.8 269.4h0M638.8 270.5h0M633.9 272.0h0M629.0 273.9h0M624.1 276.4h0M621.0 280.6h0M618.3 285.1h0M615.9 289.7h0M614.8 294.9h0M614.7 300.2h0M615.0 305.4h0M615.5 310.3h0M615.8 314.9h0M616.5 319.4h0M617.5 323.8h0M621.2 327.7h0M625.2 331.1h0M629.1 333.9h0M632.5 336.4h0M636.1 338.4h0M638.3 340.7h0M640.5 342.8h0M642.6 344.8h0M644.2 347.1h0M645.9 349.3h0M647.9 351.4h0M649.8 353.6h0M651.9 355.7h0M654.2 357.6h0M656.8 359.3h0M659.4 360.9h0M662.3 362.0h0M665.3 362.8h0M668.4 363.4h0M671.5 363.6h0M674.7 364.7h0M678.1 365.4h0M681.6 365.9h0M685.2 366.1h0M689.0 365.9h0M693.1 366.1h0M697.4 366.0h0M701.8 365.5h0M706.3 364.5h0M710.1 362.4h0M713.7 359.8h0M717.1 356.9h0M719.4 353.1h0M720.8 348.9h0M721.9 344.6h0M722.6 340.4h0M722.7 336.0h0M722.5 331.8h0M721.9 327.7h0" stroke="#1a1aff" stroke-width="2.0" stroke-linecap="round" fill="none"/>
<path d="M719.6 323.8h0M719.0 320.0h0M718.2 316.4h0M717.0 312.8h0M715.6 309.4h0M713.9 306.2h0M712.1 303.1h0M710.3 300.0h0M708.3 297.0h0M705.9 294.3h0M703.2 292.0h0M700.4 289.9h0M697.4 288.1h0M694.3 286.6h0M691.1 285.3h0M687.8 284.4h0M684.5 283.7h0M681.3 282.9h0M678.1 282.1h0M674.8 281.7h0M671.5 281.4h0M668.1 280.6h0M664.6 280.1h0M660.7 279.0h0M656.6 277.9h0M652.1 276.8h0M647.3 276.3h0M642.5 276.4h0M637.7 277.3h0M633.2 278.9h0M629.1 281.4h0M625.9 284.8h0M623.3 288.7h0M621.7 293.2h0M620.6 297.8h0M620.1 302.5h0M620.1 307.0h0M620.5 311.5h0M620.8 315.7h0M621.0 319.8h0M621.5 323.8h0M623.1 327.6h0M625.1 331.1h0M627.2 334.4h0M629.6 337.4h0M632.1 340.1h0M634.8 342.5h0M637.5 344.6h0M640.3 346.4h0M643.2 347.9h0M646.1 349.1h0M649.1 350.0h0M652.0 350.5h0M655.0 350.7h0M657.8 350.6h0M660.5 350.3h0M663.1 349.6h0M665.2 349.9h0M667.3 350.4h0M669.4 350.7h0M671.5 350.9h0M673.8 352.8h0M676.4 354.5h0M679.2 356.0h0M682.4 357.2h0M686.3 359.5h0M690.6 361.3h0M695.4 362.7h0M699.8 362.7h0M704.2 362.0h0M708.7 360.9h0M712.5 358.8h0M715.5 355.8h0M718.4 352.5h0M720.9 348.9h0M721.9 344.6h0M722.4 340.3h0M722.4 336.0h0M721.8 331.7h0M720.9 327.6h0" stroke="#22eeee" stroke-width="2.0" stroke-linecap="round" fill="none"/>
<circle cx="767" cy="344.40" r="0.95" fill="#000000"/>
<text x="778.50" y="347.80" font-size="10" text-anchor="start" fill="#000" stroke="#000" stroke-width="0.2" >0.00</text>
<circle cx="767" cy="356.40" r="0.95" fill="#ff1a1a"/>
<text x="778.50" y="359.80" font-size="10" text-anchor="start" fill="#000" stroke="#000" stroke-width="0.2" >0.25</text>
<circle cx="767" cy="368.40" r="0.95" fill="#22ee22"/>
<text x="778.50" y="371.80" font-size="10" text-anchor="start" fill="#000" stroke="#000" stroke-width="0.2" >0.50</text>
<circle cx="767" cy="380.40" r="0.95" fill="#1a1aff"/>
<text x="778.50" y="383.80" font-size="10" text-anchor="start" fill="#000" stroke="#000" stroke-width="0.2" >0.75</text>
<circle cx="767" cy="392.40" r="0.95" fill="#22eeee"/>
<text x="778.50" y="395.80" font-size="10" text-anchor="start" fill="#000" stroke="#000" stroke-width="0.2" >1.00</text>
<circle cx="893.75" cy="322.4" r="7.74" fill="none" stroke="#d6d6d6" stroke-width="0.8"/>
<circle cx="893.75" cy="322.4" r="15.49" fill="none" stroke="#d6d6d6" stroke-width="0.8"/>
<circle cx="893.75" cy="322.4" r="23.23" fill="none" stroke="#d6d6d6" stroke-width="0.8"/>
<circle cx="893.75" cy="322.4" r="30.98" fill="none" stroke="#d6d6d6" stroke-width="0.8"/>
<circle cx="893.75" cy="322.4" r="38.72" fill="none" stroke="#d6d6d6" stroke-width="0.8"/>
<circle cx="893.75" cy="322.4" r="46.47" fill="none" stroke="#d6d6d6" stroke-width="0.8"/>
<circle cx="893.75" cy="322.4" r="54.21" fill="none" stroke="#d6d6d6" stroke-width="0.8"/>
<circle cx="893.75" cy="322.4" r="61.96" fill="none" stroke="#d6d6d6" stroke-width="0.8"/>
<circle cx="893.75" cy="322.4" r="69.70" fill="none" stroke="#d6d6d6" stroke-width="0.8"/>
<line x1="901.49" y1="322.40" x2="967.95" y2="322.40" stroke="#d6d6d6" stroke-width="0.8" />
<line x1="900.46" y1="318.53" x2="958.01" y2="285.30" stroke="#d6d6d6" stroke-width="0.8" />
<line x1="897.62" y1="315.69" x2="930.85" y2="258.14" stroke="#d6d6d6" stroke-width="0.8" />
<line x1="893.75" y1="314.66" x2="893.75" y2="248.20" stroke="#d6d6d6" stroke-width="0.8" />
<line x1="889.88" y1="315.69" x2="856.65" y2="258.14" stroke="#d6d6d6" stroke-width="0.8" />
<line x1="887.04" y1="318.53" x2="829.49" y2="285.30" stroke="#d6d6d6" stroke-width="0.8" />
<line x1="886.01" y1="322.40" x2="819.55" y2="322.40" stroke="#d6d6d6" stroke-width="0.8" />
<line x1="887.04" y1="326.27" x2="829.49" y2="359.50" stroke="#d6d6d6" stroke-width="0.8" />
<line x1="889.88" y1="329.11" x2="856.65" y2="386.66" stroke="#d6d6d6" stroke-width="0.8" />
<line x1="893.75" y1="330.14" x2="893.75" y2="396.60" stroke="#d6d6d6" stroke-width="0.8" />
<line x1="897.62" y1="329.11" x2="930.85" y2="386.66" stroke="#d6d6d6" stroke-width="0.8" />
<line x1="900.46" y1="326.27" x2="958.01" y2="359.50" stroke="#d6d6d6" stroke-width="0.8" />
<circle cx="893.75" cy="322.4" r="74.2" fill="none" stroke="#6a6a6a" stroke-width="0.9"/>
<text x="972.35" y="325.66" font-size="9.6" text-anchor="middle" fill="#000" stroke="#000" stroke-width="0.2" >0</text>
<text x="964.54" y="283.05" font-size="9.6" text-anchor="middle" fill="#000" stroke="#000" stroke-width="0.2" >30</text>
<text x="936.65" y="255.16" font-size="9.6" text-anchor="middle" fill="#000" stroke="#000" stroke-width="0.2" >60</text>
<text x="893.75" y="244.95" font-size="9.6" text-anchor="middle" fill="#000" stroke="#000" stroke-width="0.2" >90</text>
<text x="848.45" y="255.16" font-size="9.6" text-anchor="middle" fill="#000" stroke="#000" stroke-width="0.2" >120</text>
<text x="820.56" y="283.05" font-size="9.6" text-anchor="middle" fill="#000" stroke="#000" stroke-width="0.2" >150</text>
<text x="810.35" y="325.66" font-size="9.6" text-anchor="middle" fill="#000" stroke="#000" stroke-width="0.2" >180</text>
<text x="820.56" y="368.28" font-size="9.6" text-anchor="middle" fill="#000" stroke="#000" stroke-width="0.2" >210</text>
<text x="848.45" y="396.17" font-size="9.6" text-anchor="middle" fill="#000" stroke="#000" stroke-width="0.2" >240</text>
<text x="893.75" y="406.38" font-size="9.6" text-anchor="middle" fill="#000" stroke="#000" stroke-width="0.2" >270</text>
<text x="939.05" y="396.17" font-size="9.6" text-anchor="middle" fill="#000" stroke="#000" stroke-width="0.2" >300</text>
<text x="966.94" y="368.28" font-size="9.6" text-anchor="middle" fill="#000" stroke="#000" stroke-width="0.2" >330</text>
<path d="M920.9 322.4h0M921.4 320.2h0M922.1 317.9h0M923.3 315.3h0M924.8 312.3h0M926.5 308.8h0M928.6 304.6h0M930.6 299.8h0M932.6 294.2h0M934.2 287.9h0M934.7 281.5h0M933.5 275.8h0M931.1 271.0h0M928.0 266.5h0M923.8 263.4h0M919.1 261.2h0M914.3 259.1h0M909.1 258.3h0M904.0 257.6h0M898.9 257.6h0M893.8 257.6h0M888.6 257.6h0M883.5 257.6h0M878.3 257.9h0M872.9 258.3h0M867.9 259.9h0M862.9 261.8h0M858.4 264.7h0M854.9 268.9h0M852.3 273.8h0M851.3 280.0h0M852.1 286.8h0M853.7 293.3h0M855.8 299.1h0M857.9 304.1h0M860.6 308.7h0M862.8 312.4h0M864.8 315.4h0M866.3 318.1h0M867.5 320.3h0M867.5 322.4h0M867.4 324.5h0M867.2 326.6h0M866.5 328.9h0M865.8 331.5h0M865.0 334.3h0M863.4 337.9h0M859.9 343.2h0M857.8 348.6h0M856.0 354.6h0M854.9 361.2h0M855.9 366.7h0M858.0 371.6h0M861.7 374.6h0M865.9 377.0h0M870.8 377.7h0M875.6 378.2h0M880.4 378.2h0M884.9 378.2h0M889.4 378.2h0M893.8 378.2h0M898.1 378.2h0M902.6 378.2h0M907.1 378.2h0M911.9 378.2h0M916.7 377.8h0M921.6 377.1h0M926.2 375.4h0M930.0 372.3h0M932.6 367.8h0M934.2 362.9h0M933.1 356.0h0M930.6 349.1h0M928.0 343.4h0M925.6 338.6h0M924.1 335.0h0M923.2 332.0h0M922.5 329.3h0M921.8 326.8h0M921.3 324.6h0" stroke="#000000" stroke-width="2.0" stroke-linecap="round" fill="none"/>
<path d="M909.7 322.4h0M911.2 320.9h0M911.7 319.2h0M912.2 317.5h0M912.9 315.4h0M914.1 312.9h0M915.8 309.7h0M918.8 304.9h0M922.0 298.7h0M922.8 293.3h0M922.4 288.2h0M920.6 284.1h0M917.8 280.8h0M914.2 278.5h0M910.2 277.1h0M906.1 276.4h0M901.9 276.1h0M897.8 276.1h0M893.8 276.1h0M889.7 276.1h0M885.6 276.1h0M881.4 276.3h0M877.2 277.0h0M873.1 278.2h0M869.5 280.4h0M866.6 283.6h0M864.3 287.3h0M863.2 291.8h0M863.7 297.2h0M865.4 302.6h0M869.0 308.1h0M871.8 312.1h0M873.6 315.1h0M874.8 317.3h0M875.6 319.2h0M876.4 320.9h0M877.0 322.4h0M877.0 323.9h0M877.0 325.4h0M876.8 327.0h0M875.5 329.0h0M873.9 331.6h0M872.2 334.8h0M870.0 339.1h0M867.7 344.3h0M865.8 350.3h0M865.8 355.7h0M867.3 360.2h0M870.2 363.2h0M874.2 364.2h0M878.5 364.2h0M882.5 364.2h0M886.4 364.2h0M890.1 364.2h0M893.8 364.2h0M897.4 364.2h0M901.1 364.2h0M905.0 364.2h0M909.0 364.2h0M913.3 364.2h0M917.3 363.2h0M920.2 360.2h0M921.7 355.7h0M921.7 350.3h0M919.8 344.3h0M917.6 339.1h0M915.3 334.8h0M913.6 331.6h0M912.0 329.0h0M910.7 327.0h0M910.3 325.3h0M910.0 323.8h0" stroke="#ff1a1a" stroke-width="2.0" stroke-linecap="round" fill="none"/>
<path d="M907.7 322.4h0M910.0 319.8h0M910.6 316.9h0M911.8 313.2h0M914.8 307.1h0M915.4 300.7h0M913.7 294.9h0M909.5 291.4h0M904.1 290.6h0M898.8 290.5h0M893.8 290.5h0M888.7 290.5h0M883.4 290.6h0M878.0 291.4h0M874.1 295.4h0M872.7 301.3h0M873.7 307.8h0M875.7 313.2h0M876.9 316.9h0M877.5 319.8h0M880.3 322.4h0M879.7 324.6h0M879.0 327.2h0M877.6 330.6h0M874.1 336.7h0M872.2 344.0h0M874.4 349.0h0M879.6 350.2h0M884.7 350.3h0M889.3 350.3h0M893.8 350.3h0M898.2 350.3h0M902.8 350.3h0M907.9 350.2h0M913.1 349.0h0M915.3 344.0h0M914.1 337.2h0M911.0 331.2h0M909.4 327.5h0M908.5 324.7h0" stroke="#22ee22" stroke-width="2.0" stroke-linecap="round" fill="none"/>
<path d="M903.6 322.4h0M904.0 321.0h0M904.4 319.4h0M905.9 317.0h0M906.7 314.3h0M906.7 311.5h0M905.7 309.1h0M903.9 307.4h0M901.5 306.6h0M899.0 306.4h0M896.6 306.4h0M894.3 306.4h0M892.1 306.4h0M889.8 306.4h0M887.3 306.4h0M884.9 307.0h0M882.4 307.8h0M881.3 310.4h0M880.8 313.0h0M880.8 315.5h0M882.3 318.2h0M882.9 320.1h0M883.2 321.7h0M883.7 323.1h0M883.2 324.6h0M882.6 326.5h0M882.1 328.6h0M881.4 331.4h0M881.9 333.8h0M883.4 335.6h0M885.9 336.0h0M888.1 336.3h0M890.3 336.3h0M892.3 336.3h0M894.2 336.3h0M896.2 336.3h0M898.3 336.3h0M900.5 336.1h0M902.8 335.8h0M905.1 335.0h0M906.1 332.7h0M905.8 329.9h0M905.2 327.5h0M904.6 325.5h0M904.0 323.8h0" stroke="#1a1aff" stroke-width="2.0" stroke-linecap="round" fill="none"/>
<path d="M897.8 322.4h0M898.0 322.2h0M898.3 321.9h0M898.6 321.6h0M898.8 321.3h0M899.1 321.0h0M899.3 320.6h0M899.5 320.2h0M899.8 319.7h0M900.0 319.2h0M900.2 318.6h0M900.4 318.1h0M900.5 317.5h0M900.6 316.8h0M900.3 316.5h0M899.8 316.4h0M899.2 316.3h0M898.7 316.3h0M898.2 316.3h0M897.7 316.3h0M897.2 316.3h0M896.8 316.3h0M896.4 316.4h0M896.0 316.4h0M895.7 316.5h0M895.3 316.6h0M895.0 316.7h0M894.6 316.9h0M894.3 317.0h0M894.0 317.2h0M893.8 317.4h0M893.5 317.2h0M893.2 317.0h0M892.9 316.9h0M892.5 316.7h0M892.2 316.6h0M891.8 316.5h0M891.5 316.4h0M891.1 316.4h0M890.7 316.3h0M890.2 316.3h0M889.8 316.3h0M889.3 316.3h0M888.8 316.3h0M888.3 316.3h0M887.7 316.4h0M887.2 316.5h0M886.9 316.8h0M887.0 317.5h0M887.1 318.1h0M887.3 318.6h0M887.5 319.2h0M887.7 319.7h0M888.0 320.2h0M888.2 320.6h0M888.4 321.0h0M888.7 321.3h0M888.9 321.6h0M889.2 321.9h0M889.5 322.2h0M889.8 322.4h0M889.5 322.6h0M889.2 322.9h0M888.9 323.2h0M888.7 323.5h0M888.4 323.8h0M888.2 324.2h0M888.0 324.6h0M887.7 325.1h0M887.5 325.6h0M887.3 326.1h0M887.1 326.7h0M887.0 327.3h0M886.9 328.0h0M887.2 328.3h0M887.7 328.4h0M888.3 328.5h0M888.8 328.5h0M889.3 328.5h0M889.8 328.5h0M890.2 328.5h0M890.7 328.5h0M891.1 328.4h0M891.5 328.4h0M891.8 328.3h0M892.2 328.2h0M892.5 328.1h0M892.9 327.9h0M893.2 327.8h0M893.5 327.6h0M893.8 327.4h0M894.0 327.6h0M894.3 327.8h0M894.6 327.9h0M895.0 328.1h0M895.3 328.2h0M895.7 328.3h0M896.0 328.4h0M896.4 328.4h0M896.8 328.5h0M897.2 328.5h0M897.7 328.5h0M898.2 328.5h0M898.7 328.5h0M899.2 328.5h0M899.8 328.4h0M900.3 328.3h0M900.6 328.0h0M900.5 327.3h0M900.4 326.7h0M900.2 326.1h0M900.0 325.6h0M899.8 325.1h0M899.5 324.6h0M899.3 324.2h0M899.1 323.8h0M898.8 323.5h0M898.6 323.2h0M898.3 322.9h0M898.0 322.6h0" stroke="#5ff0f0" stroke-width="0.9" stroke-linecap="round" fill="none"/>
<circle cx="985.7" cy="342.80" r="0.95" fill="#000000"/>
<text x="997.20" y="346.20" font-size="10" text-anchor="start" fill="#000" stroke="#000" stroke-width="0.2" >0.00</text>
<circle cx="985.7" cy="354.60" r="0.95" fill="#ff1a1a"/>
<text x="997.20" y="358.00" font-size="10" text-anchor="start" fill="#000" stroke="#000" stroke-width="0.2" >0.25</text>
<circle cx="985.7" cy="366.40" r="0.95" fill="#22ee22"/>
<text x="997.20" y="369.80" font-size="10" text-anchor="start" fill="#000" stroke="#000" stroke-width="0.2" >0.50</text>
<circle cx="985.7" cy="378.20" r="0.95" fill="#1a1aff"/>
<text x="997.20" y="381.60" font-size="10" text-anchor="start" fill="#000" stroke="#000" stroke-width="0.2" >0.75</text>
<circle cx="985.7" cy="390.00" r="0.95" fill="#22eeee"/>
<text x="997.20" y="393.40" font-size="10" text-anchor="start" fill="#000" stroke="#000" stroke-width="0.2" >1.00</text>
<circle cx="671.0" cy="507.4" r="12.80" fill="none" stroke="#d6d6d6" stroke-width="0.8"/>
<circle cx="671.0" cy="507.4" r="25.60" fill="none" stroke="#d6d6d6" stroke-width="0.8"/>
<circle cx="671.0" cy="507.4" r="38.40" fill="none" stroke="#d6d6d6" stroke-width="0.8"/>
<circle cx="671.0" cy="507.4" r="51.20" fill="none" stroke="#d6d6d6" stroke-width="0.8"/>
<circle cx="671.0" cy="507.4" r="64.00" fill="none" stroke="#d6d6d6" stroke-width="0.8"/>
<circle cx="671.0" cy="507.4" r="76.80" fill="none" stroke="#d6d6d6" stroke-width="0.8"/>
<line x1="683.80" y1="507.40" x2="747.80" y2="507.40" stroke="#d6d6d6" stroke-width="0.8" />
<line x1="682.09" y1="501.00" x2="737.51" y2="469.00" stroke="#d6d6d6" stroke-width="0.8" />
<line x1="677.40" y1="496.31" x2="709.40" y2="440.89" stroke="#d6d6d6" stroke-width="0.8" />
<line x1="671.00" y1="494.60" x2="671.00" y2="430.60" stroke="#d6d6d6" stroke-width="0.8" />
<line x1="664.60" y1="496.31" x2="632.60" y2="440.89" stroke="#d6d6d6" stroke-width="0.8" />
<line x1="659.91" y1="501.00" x2="604.49" y2="469.00" stroke="#d6d6d6" stroke-width="0.8" />
<line x1="658.20" y1="507.40" x2="594.20" y2="507.40" stroke="#d6d6d6" stroke-width="0.8" />
<line x1="659.91" y1="513.80" x2="604.49" y2="545.80" stroke="#d6d6d6" stroke-width="0.8" />
<line x1="664.60" y1="518.49" x2="632.60" y2="573.91" stroke="#d6d6d6" stroke-width="0.8" />
<line x1="671.00" y1="520.20" x2="671.00" y2="584.20" stroke="#d6d6d6" stroke-width="0.8" />
<line x1="677.40" y1="518.49" x2="709.40" y2="573.91" stroke="#d6d6d6" stroke-width="0.8" />
<line x1="682.09" y1="513.80" x2="737.51" y2="545.80" stroke="#d6d6d6" stroke-width="0.8" />
<circle cx="671.0" cy="507.4" r="76.8" fill="none" stroke="#6a6a6a" stroke-width="0.9"/>
<text x="752.20" y="510.66" font-size="9.6" text-anchor="middle" fill="#000" stroke="#000" stroke-width="0.2" >0</text>
<text x="744.04" y="466.75" font-size="9.6" text-anchor="middle" fill="#000" stroke="#000" stroke-width="0.2" >30</text>
<text x="715.20" y="437.91" font-size="9.6" text-anchor="middle" fill="#000" stroke="#000" stroke-width="0.2" >60</text>
<text x="671.00" y="427.35" font-size="9.6" text-anchor="middle" fill="#000" stroke="#000" stroke-width="0.2" >90</text>
<text x="624.40" y="437.91" font-size="9.6" text-anchor="middle" fill="#000" stroke="#000" stroke-width="0.2" >120</text>
<text x="595.56" y="466.75" font-size="9.6" text-anchor="middle" fill="#000" stroke="#000" stroke-width="0.2" >150</text>
<text x="585.00" y="510.66" font-size="9.6" text-anchor="middle" fill="#000" stroke="#000" stroke-width="0.2" >180</text>
<text x="595.56" y="554.58" font-size="9.6" text-anchor="middle" fill="#000" stroke="#000" stroke-width="0.2" >210</text>
<text x="624.40" y="583.42" font-size="9.6" text-anchor="middle" fill="#000" stroke="#000" stroke-width="0.2" >240</text>
<text x="671.00" y="593.98" font-size="9.6" text-anchor="middle" fill="#000" stroke="#000" stroke-width="0.2" >270</text>
<text x="717.60" y="583.42" font-size="9.6" text-anchor="middle" fill="#000" stroke="#000" stroke-width="0.2" >300</text>
<text x="746.44" y="554.58" font-size="9.6" text-anchor="middle" fill="#000" stroke="#000" stroke-width="0.2" >330</text>
<path d="M718.2 507.4h0M716.9 503.8h0M715.4 500.4h0M715.0 496.8h0M714.4 493.3h0M713.5 489.8h0M712.8 486.1h0M712.1 482.2h0M711.0 478.3h0M710.2 473.9h0M709.0 469.4h0M707.3 464.9h0M705.2 460.4h0M702.5 456.0h0M698.8 452.8h0M694.8 449.9h0M690.3 448.0h0M685.6 446.7h0M680.8 445.7h0M675.9 445.1h0M671.0 445.0h0M666.0 444.5h0M661.0 444.3h0M655.8 444.0h0M650.4 444.0h0M644.9 444.3h0M639.2 445.1h0M633.7 446.5h0M628.3 448.6h0M623.4 451.7h0M619.1 455.5h0M615.6 460.0h0M612.9 465.2h0M611.5 470.9h0M611.3 477.0h0M611.7 482.8h0M612.9 488.5h0M614.3 493.8h0M616.0 498.7h0M618.0 503.2h0M619.8 507.4h0M624.8 511.0h0M627.1 514.4h0M628.8 517.5h0M630.4 520.6h0M631.6 523.7h0M632.2 527.2h0M633.0 530.7h0M633.7 534.5h0M634.0 539.0h0M634.7 543.7h0M635.7 548.7h0M637.3 553.8h0M639.3 559.1h0M642.3 563.7h0M646.0 567.7h0M650.4 571.0h0M655.3 572.9h0M660.4 574.2h0M665.7 575.2h0M671.0 575.8h0M676.4 575.9h0M681.8 575.7h0M687.2 575.0h0M692.6 573.8h0M698.0 572.5h0M703.4 571.0h0M708.7 568.9h0M713.3 565.6h0M717.5 561.9h0M720.8 557.2h0M722.8 551.6h0M724.4 546.2h0M725.6 540.8h0M726.1 535.5h0M725.8 530.1h0M724.9 524.9h0M723.7 520.1h0M722.2 515.5h0M720.4 511.3h0" stroke="#000000" stroke-width="2" stroke-linecap="round" fill="none"/>
<path d="M716.8 507.4h0M716.1 503.9h0M715.1 500.4h0M713.9 497.1h0M713.4 493.6h0M712.5 490.2h0M711.4 486.8h0M710.6 483.1h0M709.8 479.2h0M708.5 475.3h0M707.3 471.1h0M705.7 466.8h0M703.6 462.5h0M700.8 458.8h0M697.5 455.4h0M693.6 452.8h0M689.4 450.6h0M685.0 449.2h0M680.3 448.4h0M675.7 448.0h0M671.0 447.9h0M666.3 447.2h0M661.4 446.9h0M656.5 447.0h0M651.4 447.0h0M646.1 447.2h0M640.7 447.9h0M635.4 449.3h0M630.2 451.2h0M625.8 454.5h0M621.8 458.2h0M618.8 462.8h0M616.4 467.7h0M615.4 473.4h0M615.2 479.0h0M615.9 484.6h0M617.0 489.9h0M618.4 494.8h0M619.7 499.3h0M620.7 503.4h0M622.6 507.4h0M625.6 511.0h0M627.2 514.3h0M628.9 517.5h0M630.2 520.7h0M631.4 523.8h0M632.9 526.8h0M633.2 530.5h0M633.8 534.4h0M634.6 538.5h0M635.4 543.0h0M636.7 547.5h0M638.7 551.8h0M641.2 556.0h0M644.5 559.5h0M648.1 562.8h0M652.2 565.4h0M656.5 567.7h0M661.2 569.0h0M666.1 570.0h0M671.0 570.6h0M676.0 570.8h0M681.0 570.6h0M686.0 570.0h0M691.1 569.3h0M696.2 568.3h0M701.3 566.9h0M706.1 564.7h0M710.8 562.2h0M714.6 558.4h0M718.0 554.4h0M720.8 550.0h0M723.2 545.3h0M724.5 540.2h0M725.3 535.1h0M724.7 529.7h0M723.7 524.5h0M722.5 519.8h0M721.0 515.3h0M719.0 511.2h0" stroke="#ff1a1a" stroke-width="2" stroke-linecap="round" fill="none"/>
<path d="M711.0 507.4h0M710.4 504.3h0M709.6 501.3h0M708.6 498.4h0M708.1 495.3h0M707.8 492.2h0M707.2 489.0h0M706.3 485.8h0M705.2 482.5h0M704.3 479.0h0M702.9 475.5h0M701.3 472.0h0M699.3 468.4h0M697.0 465.0h0M694.1 462.0h0M690.8 459.6h0M687.2 457.5h0M683.3 456.3h0M679.2 455.5h0M675.1 455.1h0M671.0 455.0h0M666.8 454.4h0M662.5 454.0h0M658.2 454.1h0M653.8 454.3h0M649.1 454.6h0M644.5 455.3h0M639.9 456.6h0M635.4 458.4h0M631.3 461.0h0M628.2 464.6h0M625.3 468.4h0M623.6 473.0h0M622.4 477.6h0M622.2 482.5h0M622.5 487.3h0M623.3 491.9h0M624.4 496.2h0M625.8 500.2h0M627.1 503.9h0M628.7 507.4h0M630.7 510.6h0M632.6 513.5h0M633.7 516.3h0M635.1 519.1h0M636.5 521.7h0M637.1 524.7h0M638.0 527.6h0M639.1 530.6h0M639.7 534.2h0M640.4 538.0h0M641.7 541.8h0M643.4 545.4h0M645.5 548.9h0M648.3 552.0h0M651.4 554.8h0M654.9 557.1h0M658.6 559.0h0M662.6 560.3h0M666.8 561.0h0M671.0 561.3h0M675.3 561.6h0M679.6 561.6h0M683.9 561.3h0M688.3 560.7h0M692.7 559.7h0M697.0 558.4h0M701.3 556.8h0M705.4 554.8h0M709.1 552.0h0M712.4 548.8h0M714.9 544.9h0M716.7 540.6h0M718.0 536.2h0M718.4 531.6h0M718.4 527.0h0M717.8 522.6h0M716.8 518.4h0M715.5 514.4h0M713.4 510.7h0" stroke="#22ee22" stroke-width="2" stroke-linecap="round" fill="none"/>
<path d="M703.9 507.4h0M701.8 502.5h0M699.9 498.0h0M698.4 493.4h0M696.2 489.1h0M695.5 482.9h0M693.4 476.5h0M689.6 471.0h0M683.8 468.0h0M677.4 466.8h0M671.0 466.5h0M664.4 465.6h0M657.5 465.8h0M650.3 466.7h0M643.1 469.0h0M637.3 473.7h0M633.7 480.3h0M632.9 488.0h0M633.1 495.1h0M634.4 501.6h0M636.5 507.4h0M638.9 512.5h0M641.2 517.1h0M642.6 521.8h0M644.6 526.6h0M646.3 532.1h0M649.1 537.5h0M653.4 542.0h0M658.5 545.8h0M664.6 547.9h0M671.0 549.1h0M677.7 549.6h0M684.5 549.1h0M691.4 547.5h0M698.2 544.8h0M703.5 539.9h0M708.1 534.3h0M709.5 527.0h0M708.6 519.6h0M706.7 513.1h0" stroke="#1a1aff" stroke-width="2" stroke-linecap="round" fill="none"/>
<path d="M695.3 507.4h0M694.7 504.5h0M693.8 501.7h0M692.6 499.1h0M691.9 496.3h0M690.8 493.5h0M689.4 490.8h0M687.8 488.1h0M686.2 484.9h0M684.0 481.8h0M681.1 479.6h0M677.8 477.9h0M674.2 477.3h0M670.5 477.1h0M666.7 476.8h0M662.8 477.0h0M658.9 477.4h0M654.8 478.1h0M650.7 479.5h0M647.7 482.5h0M645.2 485.7h0M644.1 489.9h0M643.7 494.1h0M643.6 498.0h0M644.1 501.7h0M644.6 505.1h0M645.4 508.3h0M646.5 511.3h0M648.0 514.0h0M648.9 516.8h0M650.2 519.4h0M651.8 521.9h0M653.4 524.4h0M655.2 526.9h0M657.4 529.2h0M659.8 531.3h0M662.6 533.1h0M665.7 534.6h0M669.0 535.7h0M672.5 536.4h0M676.1 536.6h0M679.8 536.3h0M683.6 535.6h0M687.1 534.2h0M690.5 532.3h0M693.6 530.0h0M695.8 526.8h0M697.4 523.3h0M698.2 519.5h0M698.0 515.7h0M697.2 512.0h0M696.0 508.7h0" stroke="#22eeee" stroke-width="2" stroke-linecap="round" fill="none"/>
<path d="M686.0 507.4h0M685.3 505.9h0M684.5 504.5h0M683.6 503.3h0M682.7 502.2h0M681.9 501.1h0M681.0 500.2h0M681.3 498.1h0M681.4 495.9h0M681.1 493.6h0M680.2 491.4h0M679.1 489.3h0M677.4 487.7h0M675.3 487.1h0M673.2 486.7h0M671.0 486.6h0M668.8 486.2h0M666.5 486.1h0M664.1 486.3h0M661.8 486.7h0M659.6 487.6h0M657.4 488.7h0M655.4 490.0h0M654.2 492.3h0M653.5 494.7h0M653.1 497.0h0M652.8 499.3h0M652.7 501.5h0M652.9 503.5h0M653.2 505.5h0M653.7 507.4h0M654.0 509.2h0M654.4 510.9h0M655.0 512.6h0M655.8 514.2h0M656.7 515.7h0M657.4 517.3h0M658.3 518.8h0M659.4 520.3h0M660.6 521.7h0M662.1 522.9h0M663.6 524.0h0M665.4 524.7h0M667.2 525.2h0M669.1 525.4h0M671.0 525.5h0M672.9 525.9h0M675.0 526.1h0M677.0 526.0h0M679.2 525.7h0M681.3 525.2h0M683.3 524.3h0M685.1 523.0h0M686.8 521.6h0M688.3 520.0h0M689.6 518.1h0M690.1 515.9h0M690.3 513.7h0M690.3 511.5h0M688.4 509.2h0" stroke="#ee22ee" stroke-width="1.8" stroke-linecap="round" fill="none"/>
<path d="M681.0 507.4h0M681.0 505.5h0M678.9 504.2h0M677.9 502.9h0M677.5 501.1h0M677.6 497.9h0M676.4 495.3h0M674.0 494.3h0M671.5 493.7h0M668.8 493.5h0M666.1 493.8h0M663.4 494.8h0M661.7 497.0h0M660.5 499.5h0M659.6 501.9h0M659.3 504.3h0M659.4 506.6h0M659.7 508.8h0M660.3 510.9h0M661.4 512.7h0M662.7 514.4h0M664.3 515.7h0M666.0 516.7h0M668.0 517.4h0M669.9 517.6h0M671.9 517.8h0M674.0 517.9h0M676.2 517.6h0M678.3 516.8h0M680.4 515.5h0M682.1 513.8h0M683.6 511.7h0M682.5 509.0h0" stroke="#ff9922" stroke-width="1.6" stroke-linecap="round" fill="none"/>
<circle cx="769.3" cy="510.00" r="0.95" fill="#000000"/>
<text x="780.80" y="513.40" font-size="10" text-anchor="start" fill="#000" stroke="#000" stroke-width="0.2" >0&#176;</text>
<circle cx="769.3" cy="522.15" r="0.95" fill="#ff1a1a"/>
<text x="780.80" y="525.55" font-size="10" text-anchor="start" fill="#000" stroke="#000" stroke-width="0.2" >10&#176;</text>
<circle cx="769.3" cy="534.30" r="0.95" fill="#22ee22"/>
<text x="780.80" y="537.70" font-size="10" text-anchor="start" fill="#000" stroke="#000" stroke-width="0.2" >20&#176;</text>
<circle cx="769.3" cy="546.45" r="0.95" fill="#1a1aff"/>
<text x="780.80" y="549.85" font-size="10" text-anchor="start" fill="#000" stroke="#000" stroke-width="0.2" >30&#176;</text>
<circle cx="769.3" cy="558.60" r="0.95" fill="#22eeee"/>
<text x="780.80" y="562.00" font-size="10" text-anchor="start" fill="#000" stroke="#000" stroke-width="0.2" >40&#176;</text>
<circle cx="769.3" cy="570.75" r="0.95" fill="#ee22ee"/>
<text x="780.80" y="574.15" font-size="10" text-anchor="start" fill="#000" stroke="#000" stroke-width="0.2" >50&#176;</text>
<circle cx="769.3" cy="582.90" r="0.95" fill="#ff9922"/>
<text x="780.80" y="586.30" font-size="10" text-anchor="start" fill="#000" stroke="#000" stroke-width="0.2" >60&#176;</text>
<circle cx="893.75" cy="506.8" r="8.20" fill="none" stroke="#d6d6d6" stroke-width="0.8"/>
<circle cx="893.75" cy="506.8" r="16.40" fill="none" stroke="#d6d6d6" stroke-width="0.8"/>
<circle cx="893.75" cy="506.8" r="24.60" fill="none" stroke="#d6d6d6" stroke-width="0.8"/>
<circle cx="893.75" cy="506.8" r="32.80" fill="none" stroke="#d6d6d6" stroke-width="0.8"/>
<circle cx="893.75" cy="506.8" r="41.00" fill="none" stroke="#d6d6d6" stroke-width="0.8"/>
<circle cx="893.75" cy="506.8" r="49.20" fill="none" stroke="#d6d6d6" stroke-width="0.8"/>
<circle cx="893.75" cy="506.8" r="57.40" fill="none" stroke="#d6d6d6" stroke-width="0.8"/>
<circle cx="893.75" cy="506.8" r="65.60" fill="none" stroke="#d6d6d6" stroke-width="0.8"/>
<circle cx="893.75" cy="506.8" r="73.80" fill="none" stroke="#d6d6d6" stroke-width="0.8"/>
<line x1="901.95" y1="506.80" x2="970.75" y2="506.80" stroke="#d6d6d6" stroke-width="0.8" />
<line x1="900.85" y1="502.70" x2="960.43" y2="468.30" stroke="#d6d6d6" stroke-width="0.8" />
<line x1="897.85" y1="499.70" x2="932.25" y2="440.12" stroke="#d6d6d6" stroke-width="0.8" />
<line x1="893.75" y1="498.60" x2="893.75" y2="429.80" stroke="#d6d6d6" stroke-width="0.8" />
<line x1="889.65" y1="499.70" x2="855.25" y2="440.12" stroke="#d6d6d6" stroke-width="0.8" />
<line x1="886.65" y1="502.70" x2="827.07" y2="468.30" stroke="#d6d6d6" stroke-width="0.8" />
<line x1="885.55" y1="506.80" x2="816.75" y2="506.80" stroke="#d6d6d6" stroke-width="0.8" />
<line x1="886.65" y1="510.90" x2="827.07" y2="545.30" stroke="#d6d6d6" stroke-width="0.8" />
<line x1="889.65" y1="513.90" x2="855.25" y2="573.48" stroke="#d6d6d6" stroke-width="0.8" />
<line x1="893.75" y1="515.00" x2="893.75" y2="583.80" stroke="#d6d6d6" stroke-width="0.8" />
<line x1="897.85" y1="513.90" x2="932.25" y2="573.48" stroke="#d6d6d6" stroke-width="0.8" />
<line x1="900.85" y1="510.90" x2="960.43" y2="545.30" stroke="#d6d6d6" stroke-width="0.8" />
<circle cx="893.75" cy="506.8" r="77" fill="none" stroke="#6a6a6a" stroke-width="0.9"/>
<text x="975.15" y="510.06" font-size="9.6" text-anchor="middle" fill="#000" stroke="#000" stroke-width="0.2" >0</text>
<text x="966.97" y="466.05" font-size="9.6" text-anchor="middle" fill="#000" stroke="#000" stroke-width="0.2" >30</text>
<text x="938.05" y="437.14" font-size="9.6" text-anchor="middle" fill="#000" stroke="#000" stroke-width="0.2" >60</text>
<text x="893.75" y="426.55" font-size="9.6" text-anchor="middle" fill="#000" stroke="#000" stroke-width="0.2" >90</text>
<text x="847.05" y="437.14" font-size="9.6" text-anchor="middle" fill="#000" stroke="#000" stroke-width="0.2" >120</text>
<text x="818.13" y="466.05" font-size="9.6" text-anchor="middle" fill="#000" stroke="#000" stroke-width="0.2" >150</text>
<text x="807.55" y="510.06" font-size="9.6" text-anchor="middle" fill="#000" stroke="#000" stroke-width="0.2" >180</text>
<text x="818.13" y="554.08" font-size="9.6" text-anchor="middle" fill="#000" stroke="#000" stroke-width="0.2" >210</text>
<text x="847.05" y="582.99" font-size="9.6" text-anchor="middle" fill="#000" stroke="#000" stroke-width="0.2" >240</text>
<text x="893.75" y="593.58" font-size="9.6" text-anchor="middle" fill="#000" stroke="#000" stroke-width="0.2" >270</text>
<text x="940.45" y="582.99" font-size="9.6" text-anchor="middle" fill="#000" stroke="#000" stroke-width="0.2" >300</text>
<text x="969.37" y="554.08" font-size="9.6" text-anchor="middle" fill="#000" stroke="#000" stroke-width="0.2" >330</text>
<path d="M922.7 506.8h0M923.0 504.5h0M923.3 502.1h0M923.6 499.6h0M924.5 496.8h0M925.7 493.6h0M928.3 489.2h0M931.9 483.4h0M934.5 477.2h0M936.0 470.7h0M936.9 463.7h0M936.1 457.2h0M933.7 451.8h0M930.0 447.6h0M925.7 444.1h0M920.7 441.6h0M915.3 440.6h0M909.8 439.8h0M904.4 439.5h0M899.1 439.3h0M893.8 439.0h0M888.4 439.0h0M883.0 439.0h0M877.5 439.0h0M872.0 439.8h0M866.4 440.7h0M861.1 442.8h0M856.5 446.0h0M852.7 450.2h0M850.0 455.6h0M848.9 462.0h0M849.3 468.9h0M850.5 475.4h0M852.0 481.2h0M855.7 487.4h0M859.4 492.6h0M862.1 496.5h0M864.1 499.7h0M865.2 502.3h0M866.0 504.6h0M866.8 506.8h0M865.4 509.0h0M864.0 511.5h0M862.6 514.3h0M861.0 517.4h0M859.6 521.0h0M857.9 525.1h0M855.8 530.0h0M854.2 535.5h0M854.2 540.6h0M855.0 545.5h0M856.5 550.4h0M858.8 555.0h0M862.2 558.3h0M866.2 560.9h0M870.7 562.4h0M875.3 563.7h0M880.0 564.2h0M884.6 564.6h0M889.2 564.7h0M893.8 564.8h0M898.3 564.9h0M903.0 565.0h0M907.7 565.1h0M912.6 564.7h0M917.6 564.4h0M922.5 563.1h0M927.1 561.2h0M931.1 558.2h0M933.8 553.7h0M935.9 548.9h0M937.0 543.7h0M936.9 538.2h0M935.7 532.5h0M932.6 526.6h0M929.8 521.7h0M927.4 517.7h0M925.3 514.4h0M923.6 511.5h0M923.1 509.1h0" stroke="#000000" stroke-width="2.0" stroke-linecap="round" fill="none"/>
<path d="M920.3 506.8h0M920.4 504.7h0M920.6 502.6h0M920.8 500.3h0M921.7 497.7h0M922.9 494.7h0M925.3 490.7h0M928.0 485.8h0M930.3 480.2h0M931.8 474.3h0M931.8 468.7h0M930.3 464.0h0M928.2 459.4h0M925.4 455.2h0M921.7 451.9h0M917.7 449.1h0M912.8 448.1h0M908.0 447.4h0M903.2 447.2h0M898.4 447.2h0M893.8 447.2h0M889.1 447.2h0M884.3 447.2h0M879.5 447.3h0M874.7 448.1h0M869.9 449.1h0M865.2 450.7h0M860.9 453.2h0M857.6 457.0h0M855.4 461.9h0M854.1 467.1h0M853.8 472.7h0M854.7 478.4h0M857.3 484.5h0M860.3 489.7h0M863.0 494.0h0M865.1 497.5h0M866.5 500.3h0M867.4 502.6h0M868.2 504.8h0M869.0 506.8h0M868.4 508.8h0M867.8 510.9h0M867.2 513.2h0M866.2 515.8h0M864.2 519.0h0M862.0 523.0h0M860.3 527.3h0M859.1 532.0h0M858.6 536.8h0M859.4 541.1h0M860.8 545.4h0M863.3 548.8h0M866.7 551.0h0M870.4 552.6h0M874.5 553.3h0M878.4 553.9h0M882.4 554.2h0M886.2 554.4h0M890.0 554.6h0M893.8 554.7h0M897.5 554.8h0M901.4 554.9h0M905.3 554.9h0M909.4 555.0h0M913.5 554.6h0M917.8 554.1h0M921.7 552.4h0M925.0 549.7h0M927.7 546.6h0M929.6 542.7h0M930.2 537.9h0M930.0 533.1h0M929.3 528.6h0M928.0 524.3h0M926.2 520.3h0M924.1 516.7h0M922.6 513.7h0M921.8 511.2h0M921.0 508.9h0" stroke="#ff1a1a" stroke-width="2.0" stroke-linecap="round" fill="none"/>
<path d="M914.1 506.8h0M914.3 504.8h0M914.5 502.8h0M914.8 500.6h0M915.8 497.9h0M917.0 494.7h0M919.1 490.3h0M922.2 484.2h0M923.5 478.0h0M922.7 472.9h0M920.6 468.5h0M917.4 465.1h0M913.2 463.0h0M908.7 462.2h0M904.2 461.7h0M899.7 461.7h0M895.3 461.7h0M891.0 461.7h0M886.6 461.7h0M882.1 461.8h0M877.6 462.3h0M873.0 463.4h0M869.1 465.8h0M866.2 469.6h0M864.3 474.1h0M864.0 479.5h0M865.0 485.2h0M868.2 491.1h0M871.0 495.7h0M872.2 498.8h0M873.2 501.3h0M873.6 503.4h0M873.9 505.4h0M874.0 507.3h0M873.2 509.3h0M872.4 511.5h0M871.5 514.0h0M870.3 517.0h0M868.9 520.6h0M868.0 524.5h0M867.6 528.8h0M868.3 532.7h0M869.8 536.3h0M872.5 539.0h0M876.0 540.3h0M879.5 541.2h0M883.1 541.5h0M886.6 541.7h0M890.1 541.7h0M893.4 541.7h0M896.8 541.7h0M900.2 541.7h0M903.8 541.7h0M907.4 541.6h0M911.4 541.3h0M915.2 540.4h0M918.5 538.5h0M920.6 535.1h0M921.7 531.1h0M922.2 527.1h0M921.2 522.7h0M920.0 518.8h0M918.7 515.4h0M917.2 512.4h0M915.8 509.9h0M914.6 507.7h0" stroke="#22ee22" stroke-width="2.0" stroke-linecap="round" fill="none"/>
<path d="M908.2 506.8h0M908.0 504.5h0M908.4 502.0h0M909.9 498.6h0M912.8 493.0h0M913.0 487.5h0M911.3 482.7h0M907.9 478.9h0M903.1 478.0h0M898.4 477.5h0M893.8 477.5h0M889.1 477.5h0M884.4 477.9h0M879.7 479.3h0M876.3 482.8h0M874.5 487.5h0M874.7 493.0h0M877.6 498.6h0M879.5 502.2h0M880.1 504.6h0M880.1 506.8h0M879.4 509.1h0M878.7 511.7h0M877.8 514.9h0M876.0 519.7h0M875.6 524.9h0M877.8 528.8h0M881.8 530.3h0M886.0 530.6h0M890.0 530.8h0M893.8 530.8h0M897.5 530.6h0M901.4 530.5h0M905.7 530.3h0M909.9 529.0h0M912.4 525.5h0M912.4 520.4h0M909.7 514.9h0M909.1 511.8h0M908.6 509.2h0" stroke="#1a1aff" stroke-width="2.0" stroke-linecap="round" fill="none"/>
<path d="M902.2 506.8h0M902.7 505.2h0M903.3 503.3h0M903.9 501.0h0M904.4 497.9h0M904.0 494.6h0M902.4 491.7h0M899.8 490.1h0M896.7 490.1h0M893.8 490.1h0M890.8 490.1h0M887.7 490.1h0M884.8 491.3h0M882.9 493.9h0M882.3 497.2h0M883.4 500.8h0M884.0 503.2h0M884.2 505.1h0M884.5 506.8h0M884.1 508.5h0M883.7 510.5h0M883.1 512.9h0M882.5 516.2h0M883.2 519.3h0M885.2 521.7h0M888.0 522.6h0M890.9 522.9h0M893.8 522.9h0M896.6 522.9h0M899.5 522.5h0M902.4 521.8h0M904.5 519.6h0M904.6 515.9h0M903.5 512.4h0M903.0 510.2h0M902.6 508.4h0" stroke="#22eeee" stroke-width="1.8" stroke-linecap="round" fill="none"/>
<path d="M900.0 506.8h0M900.1 506.2h0M900.2 505.7h0M900.3 505.0h0M900.4 504.4h0M900.5 503.7h0M900.6 502.8h0M900.8 501.9h0M900.5 501.2h0M900.2 500.4h0M899.8 499.6h0M899.5 498.6h0M898.8 498.1h0M897.9 498.0h0M897.0 497.9h0M896.2 497.8h0M895.4 497.7h0M894.6 497.6h0M893.8 497.5h0M892.9 497.6h0M892.1 497.7h0M891.3 497.8h0M890.5 497.9h0M889.6 498.0h0M888.7 498.1h0M888.1 498.7h0M887.9 499.8h0M887.7 500.7h0M887.5 501.6h0M887.5 502.5h0M887.7 503.3h0M887.8 504.0h0M887.9 504.7h0M888.0 505.2h0M888.0 505.8h0M888.1 506.3h0M888.2 506.8h0M888.0 507.3h0M887.7 507.9h0M887.5 508.5h0M887.1 509.2h0M886.8 510.1h0M886.3 511.1h0M886.0 512.3h0M885.9 513.4h0M885.8 514.8h0M885.7 516.3h0M886.5 517.1h0M887.3 518.0h0M888.1 518.9h0M889.3 518.9h0M890.5 518.9h0M891.6 518.9h0M892.7 518.9h0M893.8 518.9h0M894.8 518.9h0M895.9 518.9h0M897.0 518.9h0M898.2 518.9h0M899.4 518.9h0M900.3 518.1h0M901.1 517.3h0M901.9 516.5h0M902.1 515.1h0M901.8 513.5h0M901.6 512.3h0M901.2 511.1h0M900.7 510.1h0M900.3 509.2h0M900.0 508.5h0M899.8 507.9h0M899.5 507.3h0" stroke="#ee22ee" stroke-width="1.1" stroke-linecap="round" fill="none"/>
<path d="M898.8 506.8h0M898.9 505.7h0M898.8 504.5h0M898.4 503.4h0M897.8 502.3h0M896.8 501.5h0M895.7 500.9h0M894.4 500.5h0M893.1 500.5h0M891.8 500.9h0M890.7 501.5h0M889.7 502.3h0M889.1 503.4h0M888.7 504.5h0M888.6 505.7h0M888.8 506.8h0M888.3 508.0h0M888.2 509.3h0M888.4 510.7h0M889.0 512.1h0M890.0 513.3h0M891.3 514.3h0M892.9 515.1h0M894.6 515.1h0M896.2 514.3h0M897.5 513.3h0M898.5 512.1h0M899.1 510.7h0M899.3 509.3h0M899.2 508.0h0" stroke="#ffb060" stroke-width="1.0" stroke-linecap="round" fill="none"/>
<circle cx="993" cy="510.90" r="0.95" fill="#000000"/>
<text x="1004.50" y="514.30" font-size="10" text-anchor="start" fill="#000" stroke="#000" stroke-width="0.2" >0&#176;</text>
<circle cx="993" cy="524.40" r="0.95" fill="#ff1a1a"/>
<text x="1004.50" y="527.80" font-size="10" text-anchor="start" fill="#000" stroke="#000" stroke-width="0.2" >10&#176;</text>
<circle cx="993" cy="537.90" r="0.95" fill="#22ee22"/>
<text x="1004.50" y="541.30" font-size="10" text-anchor="start" fill="#000" stroke="#000" stroke-width="0.2" >20&#176;</text>
<circle cx="993" cy="551.40" r="0.95" fill="#1a1aff"/>
<text x="1004.50" y="554.80" font-size="10" text-anchor="start" fill="#000" stroke="#000" stroke-width="0.2" >30&#176;</text>
<circle cx="993" cy="564.90" r="0.95" fill="#22eeee"/>
<text x="1004.50" y="568.30" font-size="10" text-anchor="start" fill="#000" stroke="#000" stroke-width="0.2" >40&#176;</text>
<circle cx="993" cy="578.40" r="0.95" fill="#ee22ee"/>
<text x="1004.50" y="581.80" font-size="10" text-anchor="start" fill="#000" stroke="#000" stroke-width="0.2" >50&#176;</text>
<circle cx="993" cy="591.90" r="0.95" fill="#ff9922"/>
<text x="1004.50" y="595.30" font-size="10" text-anchor="start" fill="#000" stroke="#000" stroke-width="0.2" >60&#176;</text>
<line x1="1064.80" y1="417.80" x2="1064.80" y2="399.00" stroke="#000" stroke-width="1.4" />
<path d="M1064.8,391.9 L1061.2,400.5 L1068.5,400.5 Z" fill="#000"/>
<line x1="1064.80" y1="417.30" x2="1050.00" y2="417.30" stroke="#000" stroke-width="1.4" />
<path d="M1043.2,417.3 L1051,413.8 L1051,421 Z" fill="#000"/>
<text x="1057.70" y="396.50" font-size="13" text-anchor="middle" fill="#000" stroke="#000" stroke-width="0.2" font-style="italic" >y</text>
<text x="1036.00" y="419.50" font-size="13" text-anchor="middle" fill="#000" stroke="#000" stroke-width="0.2" font-style="italic" >x</text>
<line x1="1045.30" y1="438.80" x2="1045.30" y2="600.40" stroke="#555" stroke-width="0.9" />
<line x1="1043.60" y1="438.80" x2="1045.30" y2="438.80" stroke="#888" stroke-width="0.6" />
<line x1="1043.60" y1="442.84" x2="1045.30" y2="442.84" stroke="#888" stroke-width="0.6" />
<line x1="1043.60" y1="446.88" x2="1045.30" y2="446.88" stroke="#888" stroke-width="0.6" />
<line x1="1043.60" y1="450.92" x2="1045.30" y2="450.92" stroke="#888" stroke-width="0.6" />
<line x1="1043.60" y1="454.96" x2="1045.30" y2="454.96" stroke="#888" stroke-width="0.6" />
<line x1="1043.60" y1="459.00" x2="1045.30" y2="459.00" stroke="#888" stroke-width="0.6" />
<line x1="1043.60" y1="463.04" x2="1045.30" y2="463.04" stroke="#888" stroke-width="0.6" />
<line x1="1043.60" y1="467.08" x2="1045.30" y2="467.08" stroke="#888" stroke-width="0.6" />
<line x1="1043.60" y1="471.12" x2="1045.30" y2="471.12" stroke="#888" stroke-width="0.6" />
<line x1="1043.60" y1="475.16" x2="1045.30" y2="475.16" stroke="#888" stroke-width="0.6" />
<line x1="1043.60" y1="479.20" x2="1045.30" y2="479.20" stroke="#888" stroke-width="0.6" />
<line x1="1043.60" y1="483.24" x2="1045.30" y2="483.24" stroke="#888" stroke-width="0.6" />
<line x1="1043.60" y1="487.28" x2="1045.30" y2="487.28" stroke="#888" stroke-width="0.6" />
<line x1="1043.60" y1="491.32" x2="1045.30" y2="491.32" stroke="#888" stroke-width="0.6" />
<line x1="1043.60" y1="495.36" x2="1045.30" y2="495.36" stroke="#888" stroke-width="0.6" />
<line x1="1043.60" y1="499.40" x2="1045.30" y2="499.40" stroke="#888" stroke-width="0.6" />
<line x1="1043.60" y1="503.44" x2="1045.30" y2="503.44" stroke="#888" stroke-width="0.6" />
<line x1="1043.60" y1="507.48" x2="1045.30" y2="507.48" stroke="#888" stroke-width="0.6" />
<line x1="1043.60" y1="511.52" x2="1045.30" y2="511.52" stroke="#888" stroke-width="0.6" />
<line x1="1043.60" y1="515.56" x2="1045.30" y2="515.56" stroke="#888" stroke-width="0.6" />
<line x1="1043.60" y1="519.60" x2="1045.30" y2="519.60" stroke="#888" stroke-width="0.6" />
<line x1="1043.60" y1="523.64" x2="1045.30" y2="523.64" stroke="#888" stroke-width="0.6" />
<line x1="1043.60" y1="527.68" x2="1045.30" y2="527.68" stroke="#888" stroke-width="0.6" />
<line x1="1043.60" y1="531.72" x2="1045.30" y2="531.72" stroke="#888" stroke-width="0.6" />
<line x1="1043.60" y1="535.76" x2="1045.30" y2="535.76" stroke="#888" stroke-width="0.6" />
<line x1="1043.60" y1="539.80" x2="1045.30" y2="539.80" stroke="#888" stroke-width="0.6" />
<line x1="1043.60" y1="543.84" x2="1045.30" y2="543.84" stroke="#888" stroke-width="0.6" />
<line x1="1043.60" y1="547.88" x2="1045.30" y2="547.88" stroke="#888" stroke-width="0.6" />
<line x1="1043.60" y1="551.92" x2="1045.30" y2="551.92" stroke="#888" stroke-width="0.6" />
<line x1="1043.60" y1="555.96" x2="1045.30" y2="555.96" stroke="#888" stroke-width="0.6" />
<line x1="1043.60" y1="560.00" x2="1045.30" y2="560.00" stroke="#888" stroke-width="0.6" />
<line x1="1043.60" y1="564.04" x2="1045.30" y2="564.04" stroke="#888" stroke-width="0.6" />
<line x1="1043.60" y1="568.08" x2="1045.30" y2="568.08" stroke="#888" stroke-width="0.6" />
<line x1="1043.60" y1="572.12" x2="1045.30" y2="572.12" stroke="#888" stroke-width="0.6" />
<line x1="1043.60" y1="576.16" x2="1045.30" y2="576.16" stroke="#888" stroke-width="0.6" />
<line x1="1043.60" y1="580.20" x2="1045.30" y2="580.20" stroke="#888" stroke-width="0.6" />
<line x1="1043.60" y1="584.24" x2="1045.30" y2="584.24" stroke="#888" stroke-width="0.6" />
<line x1="1043.60" y1="588.28" x2="1045.30" y2="588.28" stroke="#888" stroke-width="0.6" />
<line x1="1043.60" y1="592.32" x2="1045.30" y2="592.32" stroke="#888" stroke-width="0.6" />
<line x1="1043.60" y1="596.36" x2="1045.30" y2="596.36" stroke="#888" stroke-width="0.6" />
<line x1="1043.60" y1="600.40" x2="1045.30" y2="600.40" stroke="#888" stroke-width="0.6" />
<text x="1049.00" y="443.20" font-size="11" text-anchor="start" fill="#000" stroke="#000" stroke-width="0.2" >1.0</text>
<text x="1049.00" y="478.40" font-size="11" text-anchor="start" fill="#000" stroke="#000" stroke-width="0.2" >0.5</text>
<text x="1049.00" y="523.40" font-size="11" text-anchor="start" fill="#000" stroke="#000" stroke-width="0.2" >0.0</text>
<text x="1049.00" y="570.40" font-size="11" text-anchor="start" fill="#000" stroke="#000" stroke-width="0.2" >0.5</text>
<text x="1049.00" y="603.60" font-size="11" text-anchor="start" fill="#000" stroke="#000" stroke-width="0.2" >1.0</text>
<text x="1073.50" y="522.00" font-size="11" text-anchor="middle" fill="#000" stroke="#000" stroke-width="0.2" transform="rotate(90.00 1073.50 522.00)" >Reflectance</text>
</svg></body></html>
